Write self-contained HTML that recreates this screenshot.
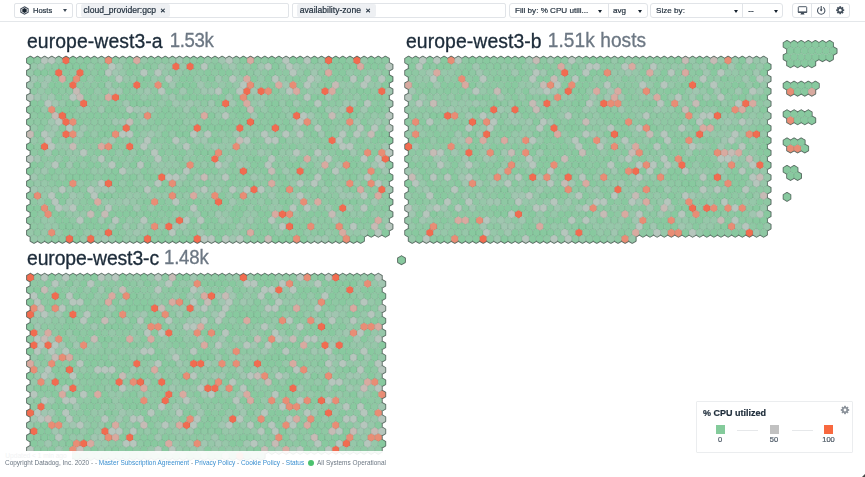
<!DOCTYPE html>
<html><head><meta charset="utf-8"><title>Host Map</title>
<style>
html,body{margin:0;padding:0;background:#fff;}
body{width:865px;height:477px;overflow:hidden;position:relative;font-family:"Liberation Sans",sans-serif;color:#2c3b4c;}
*{box-sizing:border-box;}
.abs{position:absolute;}
#toolbar{will-change:transform;position:absolute;left:0;top:0;width:865px;height:22px;background:#fff;border-bottom:1px solid #e4e7ea;}
.box{position:absolute;top:3px;height:15px;border:1px solid #e1e4e8;border-radius:2px;background:#fff;}
.t{position:absolute;white-space:nowrap;font-size:8.1px;line-height:10px;color:#1f2d3b;-webkit-text-stroke:0.2px #1f2d3b;}
.chip{position:absolute;top:0.8px;height:12.3px;background:#eef0f3;border-radius:2px;}
.caret{position:absolute;width:0;height:0;border-left:2.1px solid transparent;border-right:2.1px solid transparent;border-top:3px solid #16222e;}
.div{position:absolute;top:0;width:1px;height:13px;background:#e1e4e8;}
.title{-webkit-text-stroke-width:0.3px;letter-spacing:0.07px;position:absolute;white-space:nowrap;font-size:19.4px;line-height:26px;color:#1c2b39;transform:scaleY(1.07);transform-origin:0 19.5px;will-change:transform;}
.title span{color:#6c7783;font-size:18.6px;position:absolute;top:0;}
svg{position:absolute;left:0;top:0;}
.o{fill:none;stroke:#5e6d66;stroke-width:1.6;stroke-linecap:round;}
use{stroke:rgba(40,80,60,0.2);stroke-width:0.6;}
.a{fill:#88c99f}.b{fill:#8ec8a3}.c{fill:#96c7a9}.d{fill:#a0c6b0}.e{fill:#b6c6bd}.f{fill:#c6bbb5}.p{fill:#d8aaa0}.s{fill:#e88d75}.r{fill:#f16c50}
#footer{position:absolute;left:0;top:451px;width:865px;height:26px;background:rgba(255,255,255,0.91);}
#foottext{will-change:transform;position:absolute;left:5px;top:458px;font-size:6.47px;line-height:9px;color:#6c7783;white-space:nowrap;}
#foottext a{color:#3a8fd0;text-decoration:none;}
#legend{will-change:transform;position:absolute;left:696px;top:401px;width:157px;height:52px;background:#fff;border:1px solid #ebedef;border-radius:1px;}
</style></head>
<body>
<svg id="map" width="865" height="461" viewBox="0 0 865 461">
<defs><path id="h" d="M0 -4.10L3.55 -2.05V2.05L0 4.10L-3.55 2.05V-2.05Z"/></defs>
<path d="M30.4 56.5L34.0 58.6M30.4 64.7L26.9 62.6M26.9 62.6L26.9 58.6M26.9 58.6L30.4 56.5M37.5 56.5L41.1 58.6M34.0 58.6L37.5 56.5M44.6 56.5L48.2 58.6M41.1 58.6L44.6 56.5M51.8 56.5L55.3 58.6M48.2 58.6L51.8 56.5M58.8 56.5L62.4 58.6M55.3 58.6L58.8 56.5M66.0 56.5L69.5 58.6M62.4 58.6L66.0 56.5M73.0 56.5L76.6 58.6M69.5 58.6L73.0 56.5M80.1 56.5L83.7 58.6M76.6 58.6L80.1 56.5M87.2 56.5L90.8 58.6M83.7 58.6L87.2 56.5M94.3 56.5L97.9 58.6M90.8 58.6L94.3 56.5M101.5 56.5L105.0 58.6M97.9 58.6L101.5 56.5M108.5 56.5L112.1 58.6M105.0 58.6L108.5 56.5M115.6 56.5L119.2 58.6M112.1 58.6L115.6 56.5M122.8 56.5L126.3 58.6M119.2 58.6L122.8 56.5M129.8 56.5L133.4 58.6M126.3 58.6L129.8 56.5M136.9 56.5L140.5 58.6M133.4 58.6L136.9 56.5M144.0 56.5L147.6 58.6M140.5 58.6L144.0 56.5M151.1 56.5L154.7 58.6M147.6 58.6L151.1 56.5M158.2 56.5L161.8 58.6M154.7 58.6L158.2 56.5M165.3 56.5L168.9 58.6M161.8 58.6L165.3 56.5M172.4 56.5L176.0 58.6M168.9 58.6L172.4 56.5M179.5 56.5L183.1 58.6M176.0 58.6L179.5 56.5M186.6 56.5L190.2 58.6M183.1 58.6L186.6 56.5M193.7 56.5L197.3 58.6M190.2 58.6L193.7 56.5M200.8 56.5L204.4 58.6M197.3 58.6L200.8 56.5M207.9 56.5L211.5 58.6M204.4 58.6L207.9 56.5M215.0 56.5L218.6 58.6M211.5 58.6L215.0 56.5M222.1 56.5L225.7 58.6M218.6 58.6L222.1 56.5M229.2 56.5L232.8 58.6M225.7 58.6L229.2 56.5M236.3 56.5L239.9 58.6M232.8 58.6L236.3 56.5M243.4 56.5L247.0 58.6M239.9 58.6L243.4 56.5M250.5 56.5L254.1 58.6M247.0 58.6L250.5 56.5M257.6 56.5L261.2 58.6M254.1 58.6L257.6 56.5M264.8 56.5L268.3 58.6M261.2 58.6L264.8 56.5M271.8 56.5L275.4 58.6M268.3 58.6L271.8 56.5M278.9 56.5L282.5 58.6M275.4 58.6L278.9 56.5M286.1 56.5L289.6 58.6M282.5 58.6L286.1 56.5M293.1 56.5L296.7 58.6M289.6 58.6L293.1 56.5M300.2 56.5L303.8 58.6M296.7 58.6L300.2 56.5M307.3 56.5L310.9 58.6M303.8 58.6L307.3 56.5M314.4 56.5L318.0 58.6M310.9 58.6L314.4 56.5M321.5 56.5L325.1 58.6M318.0 58.6L321.5 56.5M328.6 56.5L332.2 58.6M325.1 58.6L328.6 56.5M335.8 56.5L339.3 58.6M332.2 58.6L335.8 56.5M342.8 56.5L346.4 58.6M339.3 58.6L342.8 56.5M349.9 56.5L353.5 58.6M346.4 58.6L349.9 56.5M357.0 56.5L360.6 58.6M353.5 58.6L357.0 56.5M364.1 56.5L367.7 58.6M360.6 58.6L364.1 56.5M371.2 56.5L374.8 58.6M367.7 58.6L371.2 56.5M378.3 56.5L381.9 58.6M374.8 58.6L378.3 56.5M385.4 56.5L389.0 58.6M389.0 58.6L389.0 62.6M381.9 58.6L385.4 56.5M30.4 68.8L30.4 64.7M389.0 62.6L392.6 64.7M392.6 64.7L392.6 68.8M392.6 68.8L389.0 70.8M30.4 77.0L26.9 74.9M26.9 74.9L26.9 70.8M26.9 70.8L30.4 68.8M389.0 70.8L389.0 74.9M30.4 81.1L30.4 77.0M389.0 74.9L392.6 77.0M392.6 77.0L392.6 81.1M392.6 81.1L389.0 83.1M30.4 89.3L26.9 87.2M26.9 87.2L26.9 83.1M26.9 83.1L30.4 81.1M389.0 83.1L389.0 87.2M30.4 93.4L30.4 89.3M389.0 87.2L392.6 89.3M392.6 89.3L392.6 93.4M392.6 93.4L389.0 95.4M30.4 101.6L26.9 99.5M26.9 99.5L26.9 95.4M26.9 95.4L30.4 93.4M389.0 95.4L389.0 99.5M30.4 105.7L30.4 101.6M389.0 99.5L392.6 101.6M392.6 101.6L392.6 105.7M392.6 105.7L389.0 107.7M30.4 113.9L26.9 111.8M26.9 111.8L26.9 107.7M26.9 107.7L30.4 105.7M389.0 107.7L389.0 111.8M30.4 118.0L30.4 113.9M389.0 111.8L392.6 113.9M392.6 113.9L392.6 118.0M392.6 118.0L389.0 120.0M30.4 126.2L26.9 124.1M26.9 124.1L26.9 120.0M26.9 120.0L30.4 118.0M389.0 120.0L389.0 124.1M30.4 130.3L30.4 126.2M389.0 124.1L392.6 126.2M392.6 126.2L392.6 130.3M392.6 130.3L389.0 132.3M30.4 138.5L26.9 136.4M26.9 136.4L26.9 132.3M26.9 132.3L30.4 130.3M389.0 132.3L389.0 136.4M30.4 142.6L30.4 138.5M389.0 136.4L392.6 138.5M392.6 138.5L392.6 142.6M392.6 142.6L389.0 144.6M30.4 150.8L26.9 148.7M26.9 148.7L26.9 144.6M26.9 144.6L30.4 142.6M389.0 144.6L389.0 148.7M30.4 154.9L30.4 150.8M389.0 148.7L392.6 150.8M392.6 150.8L392.6 154.9M392.6 154.9L389.0 156.9M30.4 163.1L26.9 161.0M26.9 161.0L26.9 156.9M26.9 156.9L30.4 154.9M389.0 156.9L389.0 161.0M30.4 167.2L30.4 163.1M389.0 161.0L392.6 163.1M392.6 163.1L392.6 167.2M392.6 167.2L389.0 169.2M30.4 175.4L26.9 173.3M26.9 173.3L26.9 169.2M26.9 169.2L30.4 167.2M389.0 169.2L389.0 173.3M30.4 179.5L30.4 175.4M389.0 173.3L392.6 175.4M392.6 175.4L392.6 179.5M392.6 179.5L389.0 181.5M30.4 187.7L26.9 185.6M26.9 185.6L26.9 181.5M26.9 181.5L30.4 179.5M389.0 181.5L389.0 185.6M30.4 191.8L30.4 187.7M389.0 185.6L392.6 187.7M392.6 187.7L392.6 191.8M392.6 191.8L389.0 193.8M30.4 200.0L26.9 197.9M26.9 197.9L26.9 193.8M26.9 193.8L30.4 191.8M389.0 193.8L389.0 197.9M30.4 204.1L30.4 200.0M389.0 197.9L392.6 200.0M392.6 200.0L392.6 204.1M392.6 204.1L389.0 206.1M30.4 212.3L26.9 210.2M26.9 210.2L26.9 206.1M26.9 206.1L30.4 204.1M389.0 206.1L389.0 210.2M30.4 216.4L30.4 212.3M389.0 210.2L392.6 212.3M392.6 212.3L392.6 216.4M392.6 216.4L389.0 218.4M30.4 224.6L26.9 222.5M26.9 222.5L26.9 218.4M26.9 218.4L30.4 216.4M389.0 218.4L389.0 222.5M30.4 228.7L30.4 224.6M389.0 222.5L392.6 224.6M392.6 224.6L392.6 228.7M392.6 228.7L389.0 230.7M30.4 236.9L26.9 234.8M26.9 234.8L26.9 230.7M26.9 230.7L30.4 228.7M367.7 234.8L364.1 236.9M374.8 234.8L371.2 236.9M371.2 236.9L367.7 234.8M381.9 234.8L378.3 236.9M378.3 236.9L374.8 234.8M389.0 230.7L389.0 234.8M389.0 234.8L385.4 236.9M385.4 236.9L381.9 234.8M37.5 241.0L34.0 243.0M34.0 243.0L30.4 241.0M30.4 241.0L30.4 236.9M44.6 241.0L41.1 243.0M41.1 243.0L37.5 241.0M51.7 241.0L48.2 243.0M48.2 243.0L44.6 241.0M58.8 241.0L55.3 243.0M55.3 243.0L51.8 241.0M65.9 241.0L62.4 243.0M62.4 243.0L58.8 241.0M73.0 241.0L69.5 243.0M69.5 243.0L66.0 241.0M80.1 241.0L76.6 243.0M76.6 243.0L73.0 241.0M87.2 241.0L83.7 243.0M83.7 243.0L80.1 241.0M94.3 241.0L90.8 243.0M90.8 243.0L87.2 241.0M101.4 241.0L97.9 243.0M97.9 243.0L94.3 241.0M108.5 241.0L105.0 243.0M105.0 243.0L101.5 241.0M115.6 241.0L112.1 243.0M112.1 243.0L108.5 241.0M122.7 241.0L119.2 243.0M119.2 243.0L115.6 241.0M129.8 241.0L126.3 243.0M126.3 243.0L122.8 241.0M137.0 241.0L133.4 243.0M133.4 243.0L129.8 241.0M144.1 241.0L140.5 243.0M140.5 243.0L136.9 241.0M151.2 241.0L147.6 243.0M147.6 243.0L144.0 241.0M158.2 241.0L154.7 243.0M154.7 243.0L151.1 241.0M165.4 241.0L161.8 243.0M161.8 243.0L158.2 241.0M172.5 241.0L168.9 243.0M168.9 243.0L165.3 241.0M179.6 241.0L176.0 243.0M176.0 243.0L172.4 241.0M186.7 241.0L183.1 243.0M183.1 243.0L179.5 241.0M193.8 241.0L190.2 243.0M190.2 243.0L186.6 241.0M200.8 241.0L197.3 243.0M197.3 243.0L193.7 241.0M207.9 241.0L204.4 243.0M204.4 243.0L200.8 241.0M215.1 241.0L211.5 243.0M211.5 243.0L207.9 241.0M222.2 241.0L218.6 243.0M218.6 243.0L215.0 241.0M229.2 241.0L225.7 243.0M225.7 243.0L222.1 241.0M236.3 241.0L232.8 243.0M232.8 243.0L229.2 241.0M243.4 241.0L239.9 243.0M239.9 243.0L236.3 241.0M250.6 241.0L247.0 243.0M247.0 243.0L243.4 241.0M257.6 241.0L254.1 243.0M254.1 243.0L250.5 241.0M264.8 241.0L261.2 243.0M261.2 243.0L257.6 241.0M271.9 241.0L268.3 243.0M268.3 243.0L264.8 241.0M278.9 241.0L275.4 243.0M275.4 243.0L271.8 241.0M286.1 241.0L282.5 243.0M282.5 243.0L278.9 241.0M293.2 241.0L289.6 243.0M289.6 243.0L286.1 241.0M300.2 241.0L296.7 243.0M296.7 243.0L293.1 241.0M307.4 241.0L303.8 243.0M303.8 243.0L300.2 241.0M314.4 241.0L310.9 243.0M310.9 243.0L307.3 241.0M321.6 241.0L318.0 243.0M318.0 243.0L314.4 241.0M328.6 241.0L325.1 243.0M325.1 243.0L321.5 241.0M335.8 241.0L332.2 243.0M332.2 243.0L328.6 241.0M342.9 241.0L339.3 243.0M339.3 243.0L335.8 241.0M349.9 241.0L346.4 243.0M346.4 243.0L342.8 241.0M357.1 241.0L353.5 243.0M353.5 243.0L349.9 241.0M364.1 236.9L364.1 241.0M364.1 241.0L360.6 243.0M360.6 243.0L357.0 241.0" class="o"/>
<use href="#h" x="30.4" y="60.6" class="a"/><use href="#h" x="37.5" y="60.6" class="b"/><use href="#h" x="44.6" y="60.6" class="e"/><use href="#h" x="51.8" y="60.6" class="e"/><use href="#h" x="58.8" y="60.6" class="c"/><use href="#h" x="66.0" y="60.6" class="r"/><use href="#h" x="73.0" y="60.6" class="a"/><use href="#h" x="80.1" y="60.6" class="b"/><use href="#h" x="87.2" y="60.6" class="a"/><use href="#h" x="94.3" y="60.6" class="b"/><use href="#h" x="101.5" y="60.6" class="c"/><use href="#h" x="108.5" y="60.6" class="s"/><use href="#h" x="115.6" y="60.6" class="b"/><use href="#h" x="122.8" y="60.6" class="c"/><use href="#h" x="129.8" y="60.6" class="a"/><use href="#h" x="136.9" y="60.6" class="p"/><use href="#h" x="144.0" y="60.6" class="c"/><use href="#h" x="151.1" y="60.6" class="b"/><use href="#h" x="158.2" y="60.6" class="b"/><use href="#h" x="165.3" y="60.6" class="b"/><use href="#h" x="172.4" y="60.6" class="c"/><use href="#h" x="179.5" y="60.6" class="d"/><use href="#h" x="186.6" y="60.6" class="b"/><use href="#h" x="193.7" y="60.6" class="b"/><use href="#h" x="200.8" y="60.6" class="a"/><use href="#h" x="207.9" y="60.6" class="c"/><use href="#h" x="215.0" y="60.6" class="b"/><use href="#h" x="222.1" y="60.6" class="d"/><use href="#h" x="229.2" y="60.6" class="e"/><use href="#h" x="236.3" y="60.6" class="c"/><use href="#h" x="243.4" y="60.6" class="a"/><use href="#h" x="250.5" y="60.6" class="p"/><use href="#h" x="257.6" y="60.6" class="b"/><use href="#h" x="264.8" y="60.6" class="b"/><use href="#h" x="271.8" y="60.6" class="a"/><use href="#h" x="278.9" y="60.6" class="b"/><use href="#h" x="286.1" y="60.6" class="e"/><use href="#h" x="293.1" y="60.6" class="a"/><use href="#h" x="300.2" y="60.6" class="a"/><use href="#h" x="307.3" y="60.6" class="e"/><use href="#h" x="314.4" y="60.6" class="a"/><use href="#h" x="321.5" y="60.6" class="c"/><use href="#h" x="328.6" y="60.6" class="r"/><use href="#h" x="335.8" y="60.6" class="a"/><use href="#h" x="342.8" y="60.6" class="a"/><use href="#h" x="349.9" y="60.6" class="b"/><use href="#h" x="357.0" y="60.6" class="r"/><use href="#h" x="364.1" y="60.6" class="c"/><use href="#h" x="371.2" y="60.6" class="a"/><use href="#h" x="378.3" y="60.6" class="b"/><use href="#h" x="385.4" y="60.6" class="b"/><use href="#h" x="34.0" y="66.7" class="c"/><use href="#h" x="41.1" y="66.7" class="d"/><use href="#h" x="48.2" y="66.7" class="b"/><use href="#h" x="55.3" y="66.7" class="b"/><use href="#h" x="62.4" y="66.7" class="a"/><use href="#h" x="69.5" y="66.7" class="a"/><use href="#h" x="76.6" y="66.7" class="a"/><use href="#h" x="83.7" y="66.7" class="a"/><use href="#h" x="90.8" y="66.7" class="c"/><use href="#h" x="97.9" y="66.7" class="a"/><use href="#h" x="105.0" y="66.7" class="a"/><use href="#h" x="112.1" y="66.7" class="e"/><use href="#h" x="119.2" y="66.7" class="d"/><use href="#h" x="126.3" y="66.7" class="b"/><use href="#h" x="133.4" y="66.7" class="a"/><use href="#h" x="140.5" y="66.7" class="b"/><use href="#h" x="147.6" y="66.7" class="a"/><use href="#h" x="154.7" y="66.7" class="b"/><use href="#h" x="161.8" y="66.7" class="d"/><use href="#h" x="168.9" y="66.7" class="c"/><use href="#h" x="176.0" y="66.7" class="r"/><use href="#h" x="183.1" y="66.7" class="c"/><use href="#h" x="190.2" y="66.7" class="r"/><use href="#h" x="197.3" y="66.7" class="a"/><use href="#h" x="204.4" y="66.7" class="e"/><use href="#h" x="211.5" y="66.7" class="b"/><use href="#h" x="218.6" y="66.7" class="a"/><use href="#h" x="225.7" y="66.7" class="c"/><use href="#h" x="232.8" y="66.7" class="d"/><use href="#h" x="239.9" y="66.7" class="b"/><use href="#h" x="247.0" y="66.7" class="c"/><use href="#h" x="254.1" y="66.7" class="a"/><use href="#h" x="261.2" y="66.7" class="d"/><use href="#h" x="268.3" y="66.7" class="e"/><use href="#h" x="275.4" y="66.7" class="a"/><use href="#h" x="282.5" y="66.7" class="c"/><use href="#h" x="289.6" y="66.7" class="e"/><use href="#h" x="296.7" y="66.7" class="d"/><use href="#h" x="303.8" y="66.7" class="c"/><use href="#h" x="310.9" y="66.7" class="c"/><use href="#h" x="318.0" y="66.7" class="c"/><use href="#h" x="325.1" y="66.7" class="c"/><use href="#h" x="332.2" y="66.7" class="a"/><use href="#h" x="339.3" y="66.7" class="b"/><use href="#h" x="346.4" y="66.7" class="a"/><use href="#h" x="353.5" y="66.7" class="a"/><use href="#h" x="360.6" y="66.7" class="p"/><use href="#h" x="367.7" y="66.7" class="a"/><use href="#h" x="374.8" y="66.7" class="a"/><use href="#h" x="381.9" y="66.7" class="a"/><use href="#h" x="389.0" y="66.7" class="e"/><use href="#h" x="30.4" y="72.9" class="c"/><use href="#h" x="37.5" y="72.9" class="a"/><use href="#h" x="44.6" y="72.9" class="a"/><use href="#h" x="51.8" y="72.9" class="a"/><use href="#h" x="58.8" y="72.9" class="r"/><use href="#h" x="66.0" y="72.9" class="a"/><use href="#h" x="73.0" y="72.9" class="b"/><use href="#h" x="80.1" y="72.9" class="r"/><use href="#h" x="87.2" y="72.9" class="a"/><use href="#h" x="94.3" y="72.9" class="b"/><use href="#h" x="101.5" y="72.9" class="a"/><use href="#h" x="108.5" y="72.9" class="e"/><use href="#h" x="115.6" y="72.9" class="d"/><use href="#h" x="122.8" y="72.9" class="c"/><use href="#h" x="129.8" y="72.9" class="a"/><use href="#h" x="136.9" y="72.9" class="b"/><use href="#h" x="144.0" y="72.9" class="e"/><use href="#h" x="151.1" y="72.9" class="b"/><use href="#h" x="158.2" y="72.9" class="e"/><use href="#h" x="165.3" y="72.9" class="c"/><use href="#h" x="172.4" y="72.9" class="b"/><use href="#h" x="179.5" y="72.9" class="c"/><use href="#h" x="186.6" y="72.9" class="b"/><use href="#h" x="193.7" y="72.9" class="b"/><use href="#h" x="200.8" y="72.9" class="b"/><use href="#h" x="207.9" y="72.9" class="a"/><use href="#h" x="215.0" y="72.9" class="b"/><use href="#h" x="222.1" y="72.9" class="a"/><use href="#h" x="229.2" y="72.9" class="a"/><use href="#h" x="236.3" y="72.9" class="c"/><use href="#h" x="243.4" y="72.9" class="a"/><use href="#h" x="250.5" y="72.9" class="b"/><use href="#h" x="257.6" y="72.9" class="c"/><use href="#h" x="264.8" y="72.9" class="b"/><use href="#h" x="271.8" y="72.9" class="a"/><use href="#h" x="278.9" y="72.9" class="b"/><use href="#h" x="286.1" y="72.9" class="b"/><use href="#h" x="293.1" y="72.9" class="e"/><use href="#h" x="300.2" y="72.9" class="c"/><use href="#h" x="307.3" y="72.9" class="a"/><use href="#h" x="314.4" y="72.9" class="d"/><use href="#h" x="321.5" y="72.9" class="b"/><use href="#h" x="328.6" y="72.9" class="p"/><use href="#h" x="335.8" y="72.9" class="a"/><use href="#h" x="342.8" y="72.9" class="a"/><use href="#h" x="349.9" y="72.9" class="c"/><use href="#h" x="357.0" y="72.9" class="b"/><use href="#h" x="364.1" y="72.9" class="b"/><use href="#h" x="371.2" y="72.9" class="c"/><use href="#h" x="378.3" y="72.9" class="c"/><use href="#h" x="385.4" y="72.9" class="b"/><use href="#h" x="34.0" y="79.0" class="d"/><use href="#h" x="41.1" y="79.0" class="c"/><use href="#h" x="48.2" y="79.0" class="d"/><use href="#h" x="55.3" y="79.0" class="a"/><use href="#h" x="62.4" y="79.0" class="p"/><use href="#h" x="69.5" y="79.0" class="a"/><use href="#h" x="76.6" y="79.0" class="s"/><use href="#h" x="83.7" y="79.0" class="a"/><use href="#h" x="90.8" y="79.0" class="c"/><use href="#h" x="97.9" y="79.0" class="a"/><use href="#h" x="105.0" y="79.0" class="a"/><use href="#h" x="112.1" y="79.0" class="b"/><use href="#h" x="119.2" y="79.0" class="e"/><use href="#h" x="126.3" y="79.0" class="c"/><use href="#h" x="133.4" y="79.0" class="c"/><use href="#h" x="140.5" y="79.0" class="a"/><use href="#h" x="147.6" y="79.0" class="a"/><use href="#h" x="154.7" y="79.0" class="c"/><use href="#h" x="161.8" y="79.0" class="b"/><use href="#h" x="168.9" y="79.0" class="e"/><use href="#h" x="176.0" y="79.0" class="c"/><use href="#h" x="183.1" y="79.0" class="a"/><use href="#h" x="190.2" y="79.0" class="a"/><use href="#h" x="197.3" y="79.0" class="c"/><use href="#h" x="204.4" y="79.0" class="b"/><use href="#h" x="211.5" y="79.0" class="a"/><use href="#h" x="218.6" y="79.0" class="d"/><use href="#h" x="225.7" y="79.0" class="b"/><use href="#h" x="232.8" y="79.0" class="e"/><use href="#h" x="239.9" y="79.0" class="c"/><use href="#h" x="247.0" y="79.0" class="p"/><use href="#h" x="254.1" y="79.0" class="a"/><use href="#h" x="261.2" y="79.0" class="c"/><use href="#h" x="268.3" y="79.0" class="a"/><use href="#h" x="275.4" y="79.0" class="e"/><use href="#h" x="282.5" y="79.0" class="c"/><use href="#h" x="289.6" y="79.0" class="b"/><use href="#h" x="296.7" y="79.0" class="a"/><use href="#h" x="303.8" y="79.0" class="b"/><use href="#h" x="310.9" y="79.0" class="e"/><use href="#h" x="318.0" y="79.0" class="d"/><use href="#h" x="325.1" y="79.0" class="a"/><use href="#h" x="332.2" y="79.0" class="a"/><use href="#h" x="339.3" y="79.0" class="b"/><use href="#h" x="346.4" y="79.0" class="a"/><use href="#h" x="353.5" y="79.0" class="e"/><use href="#h" x="360.6" y="79.0" class="a"/><use href="#h" x="367.7" y="79.0" class="e"/><use href="#h" x="374.8" y="79.0" class="a"/><use href="#h" x="381.9" y="79.0" class="e"/><use href="#h" x="389.0" y="79.0" class="a"/><use href="#h" x="30.4" y="85.2" class="d"/><use href="#h" x="37.5" y="85.2" class="a"/><use href="#h" x="44.6" y="85.2" class="d"/><use href="#h" x="51.8" y="85.2" class="a"/><use href="#h" x="58.8" y="85.2" class="a"/><use href="#h" x="66.0" y="85.2" class="a"/><use href="#h" x="73.0" y="85.2" class="r"/><use href="#h" x="80.1" y="85.2" class="b"/><use href="#h" x="87.2" y="85.2" class="b"/><use href="#h" x="94.3" y="85.2" class="b"/><use href="#h" x="101.5" y="85.2" class="a"/><use href="#h" x="108.5" y="85.2" class="d"/><use href="#h" x="115.6" y="85.2" class="b"/><use href="#h" x="122.8" y="85.2" class="a"/><use href="#h" x="129.8" y="85.2" class="a"/><use href="#h" x="136.9" y="85.2" class="r"/><use href="#h" x="144.0" y="85.2" class="a"/><use href="#h" x="151.1" y="85.2" class="b"/><use href="#h" x="158.2" y="85.2" class="s"/><use href="#h" x="165.3" y="85.2" class="a"/><use href="#h" x="172.4" y="85.2" class="d"/><use href="#h" x="179.5" y="85.2" class="a"/><use href="#h" x="186.6" y="85.2" class="a"/><use href="#h" x="193.7" y="85.2" class="a"/><use href="#h" x="200.8" y="85.2" class="d"/><use href="#h" x="207.9" y="85.2" class="b"/><use href="#h" x="215.0" y="85.2" class="b"/><use href="#h" x="222.1" y="85.2" class="c"/><use href="#h" x="229.2" y="85.2" class="b"/><use href="#h" x="236.3" y="85.2" class="c"/><use href="#h" x="243.4" y="85.2" class="e"/><use href="#h" x="250.5" y="85.2" class="s"/><use href="#h" x="257.6" y="85.2" class="c"/><use href="#h" x="264.8" y="85.2" class="b"/><use href="#h" x="271.8" y="85.2" class="a"/><use href="#h" x="278.9" y="85.2" class="p"/><use href="#h" x="286.1" y="85.2" class="d"/><use href="#h" x="293.1" y="85.2" class="s"/><use href="#h" x="300.2" y="85.2" class="a"/><use href="#h" x="307.3" y="85.2" class="e"/><use href="#h" x="314.4" y="85.2" class="c"/><use href="#h" x="321.5" y="85.2" class="b"/><use href="#h" x="328.6" y="85.2" class="a"/><use href="#h" x="335.8" y="85.2" class="f"/><use href="#h" x="342.8" y="85.2" class="c"/><use href="#h" x="349.9" y="85.2" class="c"/><use href="#h" x="357.0" y="85.2" class="b"/><use href="#h" x="364.1" y="85.2" class="e"/><use href="#h" x="371.2" y="85.2" class="c"/><use href="#h" x="378.3" y="85.2" class="c"/><use href="#h" x="385.4" y="85.2" class="a"/><use href="#h" x="34.0" y="91.3" class="b"/><use href="#h" x="41.1" y="91.3" class="c"/><use href="#h" x="48.2" y="91.3" class="b"/><use href="#h" x="55.3" y="91.3" class="a"/><use href="#h" x="62.4" y="91.3" class="b"/><use href="#h" x="69.5" y="91.3" class="b"/><use href="#h" x="76.6" y="91.3" class="f"/><use href="#h" x="83.7" y="91.3" class="b"/><use href="#h" x="90.8" y="91.3" class="a"/><use href="#h" x="97.9" y="91.3" class="c"/><use href="#h" x="105.0" y="91.3" class="a"/><use href="#h" x="112.1" y="91.3" class="d"/><use href="#h" x="119.2" y="91.3" class="d"/><use href="#h" x="126.3" y="91.3" class="a"/><use href="#h" x="133.4" y="91.3" class="b"/><use href="#h" x="140.5" y="91.3" class="c"/><use href="#h" x="147.6" y="91.3" class="d"/><use href="#h" x="154.7" y="91.3" class="b"/><use href="#h" x="161.8" y="91.3" class="e"/><use href="#h" x="168.9" y="91.3" class="a"/><use href="#h" x="176.0" y="91.3" class="a"/><use href="#h" x="183.1" y="91.3" class="d"/><use href="#h" x="190.2" y="91.3" class="a"/><use href="#h" x="197.3" y="91.3" class="b"/><use href="#h" x="204.4" y="91.3" class="d"/><use href="#h" x="211.5" y="91.3" class="d"/><use href="#h" x="218.6" y="91.3" class="e"/><use href="#h" x="225.7" y="91.3" class="a"/><use href="#h" x="232.8" y="91.3" class="b"/><use href="#h" x="239.9" y="91.3" class="e"/><use href="#h" x="247.0" y="91.3" class="r"/><use href="#h" x="254.1" y="91.3" class="d"/><use href="#h" x="261.2" y="91.3" class="r"/><use href="#h" x="268.3" y="91.3" class="s"/><use href="#h" x="275.4" y="91.3" class="a"/><use href="#h" x="282.5" y="91.3" class="c"/><use href="#h" x="289.6" y="91.3" class="e"/><use href="#h" x="296.7" y="91.3" class="p"/><use href="#h" x="303.8" y="91.3" class="b"/><use href="#h" x="310.9" y="91.3" class="c"/><use href="#h" x="318.0" y="91.3" class="c"/><use href="#h" x="325.1" y="91.3" class="r"/><use href="#h" x="332.2" y="91.3" class="p"/><use href="#h" x="339.3" y="91.3" class="a"/><use href="#h" x="346.4" y="91.3" class="c"/><use href="#h" x="353.5" y="91.3" class="b"/><use href="#h" x="360.6" y="91.3" class="a"/><use href="#h" x="367.7" y="91.3" class="a"/><use href="#h" x="374.8" y="91.3" class="b"/><use href="#h" x="381.9" y="91.3" class="r"/><use href="#h" x="389.0" y="91.3" class="d"/><use href="#h" x="30.4" y="97.5" class="e"/><use href="#h" x="37.5" y="97.5" class="d"/><use href="#h" x="44.6" y="97.5" class="c"/><use href="#h" x="51.8" y="97.5" class="d"/><use href="#h" x="58.8" y="97.5" class="a"/><use href="#h" x="66.0" y="97.5" class="b"/><use href="#h" x="73.0" y="97.5" class="e"/><use href="#h" x="80.1" y="97.5" class="f"/><use href="#h" x="87.2" y="97.5" class="a"/><use href="#h" x="94.3" y="97.5" class="b"/><use href="#h" x="101.5" y="97.5" class="b"/><use href="#h" x="108.5" y="97.5" class="p"/><use href="#h" x="115.6" y="97.5" class="r"/><use href="#h" x="122.8" y="97.5" class="a"/><use href="#h" x="129.8" y="97.5" class="a"/><use href="#h" x="136.9" y="97.5" class="a"/><use href="#h" x="144.0" y="97.5" class="c"/><use href="#h" x="151.1" y="97.5" class="b"/><use href="#h" x="158.2" y="97.5" class="a"/><use href="#h" x="165.3" y="97.5" class="c"/><use href="#h" x="172.4" y="97.5" class="d"/><use href="#h" x="179.5" y="97.5" class="b"/><use href="#h" x="186.6" y="97.5" class="a"/><use href="#h" x="193.7" y="97.5" class="a"/><use href="#h" x="200.8" y="97.5" class="a"/><use href="#h" x="207.9" y="97.5" class="a"/><use href="#h" x="215.0" y="97.5" class="a"/><use href="#h" x="222.1" y="97.5" class="a"/><use href="#h" x="229.2" y="97.5" class="d"/><use href="#h" x="236.3" y="97.5" class="a"/><use href="#h" x="243.4" y="97.5" class="s"/><use href="#h" x="250.5" y="97.5" class="b"/><use href="#h" x="257.6" y="97.5" class="c"/><use href="#h" x="264.8" y="97.5" class="c"/><use href="#h" x="271.8" y="97.5" class="b"/><use href="#h" x="278.9" y="97.5" class="b"/><use href="#h" x="286.1" y="97.5" class="b"/><use href="#h" x="293.1" y="97.5" class="b"/><use href="#h" x="300.2" y="97.5" class="a"/><use href="#h" x="307.3" y="97.5" class="e"/><use href="#h" x="314.4" y="97.5" class="a"/><use href="#h" x="321.5" y="97.5" class="a"/><use href="#h" x="328.6" y="97.5" class="d"/><use href="#h" x="335.8" y="97.5" class="a"/><use href="#h" x="342.8" y="97.5" class="b"/><use href="#h" x="349.9" y="97.5" class="b"/><use href="#h" x="357.0" y="97.5" class="c"/><use href="#h" x="364.1" y="97.5" class="a"/><use href="#h" x="371.2" y="97.5" class="a"/><use href="#h" x="378.3" y="97.5" class="a"/><use href="#h" x="385.4" y="97.5" class="b"/><use href="#h" x="34.0" y="103.6" class="a"/><use href="#h" x="41.1" y="103.6" class="a"/><use href="#h" x="48.2" y="103.6" class="e"/><use href="#h" x="55.3" y="103.6" class="d"/><use href="#h" x="62.4" y="103.6" class="c"/><use href="#h" x="69.5" y="103.6" class="a"/><use href="#h" x="76.6" y="103.6" class="a"/><use href="#h" x="83.7" y="103.6" class="r"/><use href="#h" x="90.8" y="103.6" class="b"/><use href="#h" x="97.9" y="103.6" class="b"/><use href="#h" x="105.0" y="103.6" class="b"/><use href="#h" x="112.1" y="103.6" class="a"/><use href="#h" x="119.2" y="103.6" class="b"/><use href="#h" x="126.3" y="103.6" class="d"/><use href="#h" x="133.4" y="103.6" class="a"/><use href="#h" x="140.5" y="103.6" class="a"/><use href="#h" x="147.6" y="103.6" class="a"/><use href="#h" x="154.7" y="103.6" class="b"/><use href="#h" x="161.8" y="103.6" class="c"/><use href="#h" x="168.9" y="103.6" class="a"/><use href="#h" x="176.0" y="103.6" class="d"/><use href="#h" x="183.1" y="103.6" class="c"/><use href="#h" x="190.2" y="103.6" class="d"/><use href="#h" x="197.3" y="103.6" class="c"/><use href="#h" x="204.4" y="103.6" class="b"/><use href="#h" x="211.5" y="103.6" class="d"/><use href="#h" x="218.6" y="103.6" class="a"/><use href="#h" x="225.7" y="103.6" class="r"/><use href="#h" x="232.8" y="103.6" class="d"/><use href="#h" x="239.9" y="103.6" class="a"/><use href="#h" x="247.0" y="103.6" class="p"/><use href="#h" x="254.1" y="103.6" class="c"/><use href="#h" x="261.2" y="103.6" class="d"/><use href="#h" x="268.3" y="103.6" class="a"/><use href="#h" x="275.4" y="103.6" class="a"/><use href="#h" x="282.5" y="103.6" class="c"/><use href="#h" x="289.6" y="103.6" class="a"/><use href="#h" x="296.7" y="103.6" class="d"/><use href="#h" x="303.8" y="103.6" class="b"/><use href="#h" x="310.9" y="103.6" class="a"/><use href="#h" x="318.0" y="103.6" class="e"/><use href="#h" x="325.1" y="103.6" class="a"/><use href="#h" x="332.2" y="103.6" class="b"/><use href="#h" x="339.3" y="103.6" class="b"/><use href="#h" x="346.4" y="103.6" class="d"/><use href="#h" x="353.5" y="103.6" class="d"/><use href="#h" x="360.6" y="103.6" class="a"/><use href="#h" x="367.7" y="103.6" class="e"/><use href="#h" x="374.8" y="103.6" class="b"/><use href="#h" x="381.9" y="103.6" class="a"/><use href="#h" x="389.0" y="103.6" class="d"/><use href="#h" x="30.4" y="109.8" class="b"/><use href="#h" x="37.5" y="109.8" class="a"/><use href="#h" x="44.6" y="109.8" class="c"/><use href="#h" x="51.8" y="109.8" class="s"/><use href="#h" x="58.8" y="109.8" class="a"/><use href="#h" x="66.0" y="109.8" class="a"/><use href="#h" x="73.0" y="109.8" class="a"/><use href="#h" x="80.1" y="109.8" class="c"/><use href="#h" x="87.2" y="109.8" class="c"/><use href="#h" x="94.3" y="109.8" class="b"/><use href="#h" x="101.5" y="109.8" class="d"/><use href="#h" x="108.5" y="109.8" class="a"/><use href="#h" x="115.6" y="109.8" class="a"/><use href="#h" x="122.8" y="109.8" class="b"/><use href="#h" x="129.8" y="109.8" class="e"/><use href="#h" x="136.9" y="109.8" class="d"/><use href="#h" x="144.0" y="109.8" class="d"/><use href="#h" x="151.1" y="109.8" class="d"/><use href="#h" x="158.2" y="109.8" class="b"/><use href="#h" x="165.3" y="109.8" class="a"/><use href="#h" x="172.4" y="109.8" class="b"/><use href="#h" x="179.5" y="109.8" class="b"/><use href="#h" x="186.6" y="109.8" class="d"/><use href="#h" x="193.7" y="109.8" class="a"/><use href="#h" x="200.8" y="109.8" class="c"/><use href="#h" x="207.9" y="109.8" class="c"/><use href="#h" x="215.0" y="109.8" class="c"/><use href="#h" x="222.1" y="109.8" class="c"/><use href="#h" x="229.2" y="109.8" class="b"/><use href="#h" x="236.3" y="109.8" class="a"/><use href="#h" x="243.4" y="109.8" class="a"/><use href="#h" x="250.5" y="109.8" class="f"/><use href="#h" x="257.6" y="109.8" class="b"/><use href="#h" x="264.8" y="109.8" class="c"/><use href="#h" x="271.8" y="109.8" class="a"/><use href="#h" x="278.9" y="109.8" class="a"/><use href="#h" x="286.1" y="109.8" class="c"/><use href="#h" x="293.1" y="109.8" class="a"/><use href="#h" x="300.2" y="109.8" class="a"/><use href="#h" x="307.3" y="109.8" class="a"/><use href="#h" x="314.4" y="109.8" class="b"/><use href="#h" x="321.5" y="109.8" class="a"/><use href="#h" x="328.6" y="109.8" class="d"/><use href="#h" x="335.8" y="109.8" class="c"/><use href="#h" x="342.8" y="109.8" class="d"/><use href="#h" x="349.9" y="109.8" class="r"/><use href="#h" x="357.0" y="109.8" class="a"/><use href="#h" x="364.1" y="109.8" class="d"/><use href="#h" x="371.2" y="109.8" class="a"/><use href="#h" x="378.3" y="109.8" class="a"/><use href="#h" x="385.4" y="109.8" class="b"/><use href="#h" x="34.0" y="115.9" class="b"/><use href="#h" x="41.1" y="115.9" class="a"/><use href="#h" x="48.2" y="115.9" class="a"/><use href="#h" x="55.3" y="115.9" class="f"/><use href="#h" x="62.4" y="115.9" class="r"/><use href="#h" x="69.5" y="115.9" class="a"/><use href="#h" x="76.6" y="115.9" class="b"/><use href="#h" x="83.7" y="115.9" class="b"/><use href="#h" x="90.8" y="115.9" class="a"/><use href="#h" x="97.9" y="115.9" class="a"/><use href="#h" x="105.0" y="115.9" class="a"/><use href="#h" x="112.1" y="115.9" class="b"/><use href="#h" x="119.2" y="115.9" class="a"/><use href="#h" x="126.3" y="115.9" class="a"/><use href="#h" x="133.4" y="115.9" class="a"/><use href="#h" x="140.5" y="115.9" class="c"/><use href="#h" x="147.6" y="115.9" class="s"/><use href="#h" x="154.7" y="115.9" class="b"/><use href="#h" x="161.8" y="115.9" class="a"/><use href="#h" x="168.9" y="115.9" class="a"/><use href="#h" x="176.0" y="115.9" class="b"/><use href="#h" x="183.1" y="115.9" class="b"/><use href="#h" x="190.2" y="115.9" class="b"/><use href="#h" x="197.3" y="115.9" class="a"/><use href="#h" x="204.4" y="115.9" class="p"/><use href="#h" x="211.5" y="115.9" class="a"/><use href="#h" x="218.6" y="115.9" class="c"/><use href="#h" x="225.7" y="115.9" class="e"/><use href="#h" x="232.8" y="115.9" class="b"/><use href="#h" x="239.9" y="115.9" class="a"/><use href="#h" x="247.0" y="115.9" class="a"/><use href="#h" x="254.1" y="115.9" class="d"/><use href="#h" x="261.2" y="115.9" class="a"/><use href="#h" x="268.3" y="115.9" class="b"/><use href="#h" x="275.4" y="115.9" class="a"/><use href="#h" x="282.5" y="115.9" class="b"/><use href="#h" x="289.6" y="115.9" class="c"/><use href="#h" x="296.7" y="115.9" class="r"/><use href="#h" x="303.8" y="115.9" class="e"/><use href="#h" x="310.9" y="115.9" class="d"/><use href="#h" x="318.0" y="115.9" class="b"/><use href="#h" x="325.1" y="115.9" class="a"/><use href="#h" x="332.2" y="115.9" class="f"/><use href="#h" x="339.3" y="115.9" class="c"/><use href="#h" x="346.4" y="115.9" class="a"/><use href="#h" x="353.5" y="115.9" class="a"/><use href="#h" x="360.6" y="115.9" class="c"/><use href="#h" x="367.7" y="115.9" class="b"/><use href="#h" x="374.8" y="115.9" class="c"/><use href="#h" x="381.9" y="115.9" class="b"/><use href="#h" x="389.0" y="115.9" class="e"/><use href="#h" x="30.4" y="122.1" class="b"/><use href="#h" x="37.5" y="122.1" class="b"/><use href="#h" x="44.6" y="122.1" class="b"/><use href="#h" x="51.8" y="122.1" class="d"/><use href="#h" x="58.8" y="122.1" class="e"/><use href="#h" x="66.0" y="122.1" class="r"/><use href="#h" x="73.0" y="122.1" class="s"/><use href="#h" x="80.1" y="122.1" class="a"/><use href="#h" x="87.2" y="122.1" class="b"/><use href="#h" x="94.3" y="122.1" class="b"/><use href="#h" x="101.5" y="122.1" class="b"/><use href="#h" x="108.5" y="122.1" class="b"/><use href="#h" x="115.6" y="122.1" class="d"/><use href="#h" x="122.8" y="122.1" class="d"/><use href="#h" x="129.8" y="122.1" class="f"/><use href="#h" x="136.9" y="122.1" class="b"/><use href="#h" x="144.0" y="122.1" class="d"/><use href="#h" x="151.1" y="122.1" class="b"/><use href="#h" x="158.2" y="122.1" class="a"/><use href="#h" x="165.3" y="122.1" class="b"/><use href="#h" x="172.4" y="122.1" class="b"/><use href="#h" x="179.5" y="122.1" class="a"/><use href="#h" x="186.6" y="122.1" class="c"/><use href="#h" x="193.7" y="122.1" class="c"/><use href="#h" x="200.8" y="122.1" class="b"/><use href="#h" x="207.9" y="122.1" class="a"/><use href="#h" x="215.0" y="122.1" class="b"/><use href="#h" x="222.1" y="122.1" class="a"/><use href="#h" x="229.2" y="122.1" class="a"/><use href="#h" x="236.3" y="122.1" class="b"/><use href="#h" x="243.4" y="122.1" class="a"/><use href="#h" x="250.5" y="122.1" class="r"/><use href="#h" x="257.6" y="122.1" class="b"/><use href="#h" x="264.8" y="122.1" class="b"/><use href="#h" x="271.8" y="122.1" class="a"/><use href="#h" x="278.9" y="122.1" class="b"/><use href="#h" x="286.1" y="122.1" class="a"/><use href="#h" x="293.1" y="122.1" class="c"/><use href="#h" x="300.2" y="122.1" class="e"/><use href="#h" x="307.3" y="122.1" class="s"/><use href="#h" x="314.4" y="122.1" class="c"/><use href="#h" x="321.5" y="122.1" class="b"/><use href="#h" x="328.6" y="122.1" class="a"/><use href="#h" x="335.8" y="122.1" class="b"/><use href="#h" x="342.8" y="122.1" class="b"/><use href="#h" x="349.9" y="122.1" class="s"/><use href="#h" x="357.0" y="122.1" class="d"/><use href="#h" x="364.1" y="122.1" class="a"/><use href="#h" x="371.2" y="122.1" class="c"/><use href="#h" x="378.3" y="122.1" class="d"/><use href="#h" x="385.4" y="122.1" class="c"/><use href="#h" x="34.0" y="128.2" class="c"/><use href="#h" x="41.1" y="128.2" class="a"/><use href="#h" x="48.2" y="128.2" class="c"/><use href="#h" x="55.3" y="128.2" class="d"/><use href="#h" x="62.4" y="128.2" class="a"/><use href="#h" x="69.5" y="128.2" class="e"/><use href="#h" x="76.6" y="128.2" class="b"/><use href="#h" x="83.7" y="128.2" class="d"/><use href="#h" x="90.8" y="128.2" class="b"/><use href="#h" x="97.9" y="128.2" class="b"/><use href="#h" x="105.0" y="128.2" class="a"/><use href="#h" x="112.1" y="128.2" class="a"/><use href="#h" x="119.2" y="128.2" class="a"/><use href="#h" x="126.3" y="128.2" class="r"/><use href="#h" x="133.4" y="128.2" class="a"/><use href="#h" x="140.5" y="128.2" class="b"/><use href="#h" x="147.6" y="128.2" class="b"/><use href="#h" x="154.7" y="128.2" class="b"/><use href="#h" x="161.8" y="128.2" class="c"/><use href="#h" x="168.9" y="128.2" class="a"/><use href="#h" x="176.0" y="128.2" class="a"/><use href="#h" x="183.1" y="128.2" class="b"/><use href="#h" x="190.2" y="128.2" class="a"/><use href="#h" x="197.3" y="128.2" class="r"/><use href="#h" x="204.4" y="128.2" class="a"/><use href="#h" x="211.5" y="128.2" class="a"/><use href="#h" x="218.6" y="128.2" class="a"/><use href="#h" x="225.7" y="128.2" class="a"/><use href="#h" x="232.8" y="128.2" class="a"/><use href="#h" x="239.9" y="128.2" class="r"/><use href="#h" x="247.0" y="128.2" class="b"/><use href="#h" x="254.1" y="128.2" class="b"/><use href="#h" x="261.2" y="128.2" class="a"/><use href="#h" x="268.3" y="128.2" class="b"/><use href="#h" x="275.4" y="128.2" class="r"/><use href="#h" x="282.5" y="128.2" class="b"/><use href="#h" x="289.6" y="128.2" class="a"/><use href="#h" x="296.7" y="128.2" class="d"/><use href="#h" x="303.8" y="128.2" class="a"/><use href="#h" x="310.9" y="128.2" class="a"/><use href="#h" x="318.0" y="128.2" class="e"/><use href="#h" x="325.1" y="128.2" class="a"/><use href="#h" x="332.2" y="128.2" class="b"/><use href="#h" x="339.3" y="128.2" class="c"/><use href="#h" x="346.4" y="128.2" class="c"/><use href="#h" x="353.5" y="128.2" class="b"/><use href="#h" x="360.6" y="128.2" class="e"/><use href="#h" x="367.7" y="128.2" class="a"/><use href="#h" x="374.8" y="128.2" class="e"/><use href="#h" x="381.9" y="128.2" class="a"/><use href="#h" x="389.0" y="128.2" class="e"/><use href="#h" x="30.4" y="134.4" class="f"/><use href="#h" x="37.5" y="134.4" class="a"/><use href="#h" x="44.6" y="134.4" class="e"/><use href="#h" x="51.8" y="134.4" class="d"/><use href="#h" x="58.8" y="134.4" class="b"/><use href="#h" x="66.0" y="134.4" class="r"/><use href="#h" x="73.0" y="134.4" class="s"/><use href="#h" x="80.1" y="134.4" class="d"/><use href="#h" x="87.2" y="134.4" class="a"/><use href="#h" x="94.3" y="134.4" class="c"/><use href="#h" x="101.5" y="134.4" class="a"/><use href="#h" x="108.5" y="134.4" class="a"/><use href="#h" x="115.6" y="134.4" class="s"/><use href="#h" x="122.8" y="134.4" class="e"/><use href="#h" x="129.8" y="134.4" class="e"/><use href="#h" x="136.9" y="134.4" class="a"/><use href="#h" x="144.0" y="134.4" class="c"/><use href="#h" x="151.1" y="134.4" class="d"/><use href="#h" x="158.2" y="134.4" class="c"/><use href="#h" x="165.3" y="134.4" class="a"/><use href="#h" x="172.4" y="134.4" class="c"/><use href="#h" x="179.5" y="134.4" class="a"/><use href="#h" x="186.6" y="134.4" class="a"/><use href="#h" x="193.7" y="134.4" class="e"/><use href="#h" x="200.8" y="134.4" class="c"/><use href="#h" x="207.9" y="134.4" class="e"/><use href="#h" x="215.0" y="134.4" class="b"/><use href="#h" x="222.1" y="134.4" class="c"/><use href="#h" x="229.2" y="134.4" class="b"/><use href="#h" x="236.3" y="134.4" class="d"/><use href="#h" x="243.4" y="134.4" class="b"/><use href="#h" x="250.5" y="134.4" class="c"/><use href="#h" x="257.6" y="134.4" class="c"/><use href="#h" x="264.8" y="134.4" class="e"/><use href="#h" x="271.8" y="134.4" class="c"/><use href="#h" x="278.9" y="134.4" class="b"/><use href="#h" x="286.1" y="134.4" class="e"/><use href="#h" x="293.1" y="134.4" class="c"/><use href="#h" x="300.2" y="134.4" class="e"/><use href="#h" x="307.3" y="134.4" class="b"/><use href="#h" x="314.4" y="134.4" class="a"/><use href="#h" x="321.5" y="134.4" class="d"/><use href="#h" x="328.6" y="134.4" class="a"/><use href="#h" x="335.8" y="134.4" class="b"/><use href="#h" x="342.8" y="134.4" class="e"/><use href="#h" x="349.9" y="134.4" class="a"/><use href="#h" x="357.0" y="134.4" class="e"/><use href="#h" x="364.1" y="134.4" class="c"/><use href="#h" x="371.2" y="134.4" class="f"/><use href="#h" x="378.3" y="134.4" class="a"/><use href="#h" x="385.4" y="134.4" class="a"/><use href="#h" x="34.0" y="140.5" class="c"/><use href="#h" x="41.1" y="140.5" class="b"/><use href="#h" x="48.2" y="140.5" class="e"/><use href="#h" x="55.3" y="140.5" class="a"/><use href="#h" x="62.4" y="140.5" class="c"/><use href="#h" x="69.5" y="140.5" class="a"/><use href="#h" x="76.6" y="140.5" class="c"/><use href="#h" x="83.7" y="140.5" class="a"/><use href="#h" x="90.8" y="140.5" class="a"/><use href="#h" x="97.9" y="140.5" class="a"/><use href="#h" x="105.0" y="140.5" class="c"/><use href="#h" x="112.1" y="140.5" class="d"/><use href="#h" x="119.2" y="140.5" class="a"/><use href="#h" x="126.3" y="140.5" class="b"/><use href="#h" x="133.4" y="140.5" class="b"/><use href="#h" x="140.5" y="140.5" class="c"/><use href="#h" x="147.6" y="140.5" class="e"/><use href="#h" x="154.7" y="140.5" class="a"/><use href="#h" x="161.8" y="140.5" class="b"/><use href="#h" x="168.9" y="140.5" class="a"/><use href="#h" x="176.0" y="140.5" class="e"/><use href="#h" x="183.1" y="140.5" class="c"/><use href="#h" x="190.2" y="140.5" class="a"/><use href="#h" x="197.3" y="140.5" class="d"/><use href="#h" x="204.4" y="140.5" class="d"/><use href="#h" x="211.5" y="140.5" class="a"/><use href="#h" x="218.6" y="140.5" class="a"/><use href="#h" x="225.7" y="140.5" class="c"/><use href="#h" x="232.8" y="140.5" class="b"/><use href="#h" x="239.9" y="140.5" class="f"/><use href="#h" x="247.0" y="140.5" class="e"/><use href="#h" x="254.1" y="140.5" class="a"/><use href="#h" x="261.2" y="140.5" class="b"/><use href="#h" x="268.3" y="140.5" class="e"/><use href="#h" x="275.4" y="140.5" class="e"/><use href="#h" x="282.5" y="140.5" class="a"/><use href="#h" x="289.6" y="140.5" class="c"/><use href="#h" x="296.7" y="140.5" class="c"/><use href="#h" x="303.8" y="140.5" class="c"/><use href="#h" x="310.9" y="140.5" class="b"/><use href="#h" x="318.0" y="140.5" class="a"/><use href="#h" x="325.1" y="140.5" class="b"/><use href="#h" x="332.2" y="140.5" class="r"/><use href="#h" x="339.3" y="140.5" class="e"/><use href="#h" x="346.4" y="140.5" class="b"/><use href="#h" x="353.5" y="140.5" class="c"/><use href="#h" x="360.6" y="140.5" class="a"/><use href="#h" x="367.7" y="140.5" class="c"/><use href="#h" x="374.8" y="140.5" class="a"/><use href="#h" x="381.9" y="140.5" class="a"/><use href="#h" x="389.0" y="140.5" class="a"/><use href="#h" x="30.4" y="146.7" class="a"/><use href="#h" x="37.5" y="146.7" class="b"/><use href="#h" x="44.6" y="146.7" class="r"/><use href="#h" x="51.8" y="146.7" class="e"/><use href="#h" x="58.8" y="146.7" class="c"/><use href="#h" x="66.0" y="146.7" class="c"/><use href="#h" x="73.0" y="146.7" class="f"/><use href="#h" x="80.1" y="146.7" class="b"/><use href="#h" x="87.2" y="146.7" class="b"/><use href="#h" x="94.3" y="146.7" class="b"/><use href="#h" x="101.5" y="146.7" class="p"/><use href="#h" x="108.5" y="146.7" class="s"/><use href="#h" x="115.6" y="146.7" class="a"/><use href="#h" x="122.8" y="146.7" class="b"/><use href="#h" x="129.8" y="146.7" class="r"/><use href="#h" x="136.9" y="146.7" class="b"/><use href="#h" x="144.0" y="146.7" class="e"/><use href="#h" x="151.1" y="146.7" class="c"/><use href="#h" x="158.2" y="146.7" class="c"/><use href="#h" x="165.3" y="146.7" class="b"/><use href="#h" x="172.4" y="146.7" class="b"/><use href="#h" x="179.5" y="146.7" class="c"/><use href="#h" x="186.6" y="146.7" class="e"/><use href="#h" x="193.7" y="146.7" class="b"/><use href="#h" x="200.8" y="146.7" class="a"/><use href="#h" x="207.9" y="146.7" class="c"/><use href="#h" x="215.0" y="146.7" class="d"/><use href="#h" x="222.1" y="146.7" class="c"/><use href="#h" x="229.2" y="146.7" class="c"/><use href="#h" x="236.3" y="146.7" class="s"/><use href="#h" x="243.4" y="146.7" class="c"/><use href="#h" x="250.5" y="146.7" class="c"/><use href="#h" x="257.6" y="146.7" class="b"/><use href="#h" x="264.8" y="146.7" class="b"/><use href="#h" x="271.8" y="146.7" class="b"/><use href="#h" x="278.9" y="146.7" class="a"/><use href="#h" x="286.1" y="146.7" class="b"/><use href="#h" x="293.1" y="146.7" class="a"/><use href="#h" x="300.2" y="146.7" class="b"/><use href="#h" x="307.3" y="146.7" class="c"/><use href="#h" x="314.4" y="146.7" class="c"/><use href="#h" x="321.5" y="146.7" class="b"/><use href="#h" x="328.6" y="146.7" class="a"/><use href="#h" x="335.8" y="146.7" class="b"/><use href="#h" x="342.8" y="146.7" class="e"/><use href="#h" x="349.9" y="146.7" class="e"/><use href="#h" x="357.0" y="146.7" class="b"/><use href="#h" x="364.1" y="146.7" class="b"/><use href="#h" x="371.2" y="146.7" class="b"/><use href="#h" x="378.3" y="146.7" class="b"/><use href="#h" x="385.4" y="146.7" class="d"/><use href="#h" x="34.0" y="152.8" class="b"/><use href="#h" x="41.1" y="152.8" class="a"/><use href="#h" x="48.2" y="152.8" class="d"/><use href="#h" x="55.3" y="152.8" class="a"/><use href="#h" x="62.4" y="152.8" class="b"/><use href="#h" x="69.5" y="152.8" class="c"/><use href="#h" x="76.6" y="152.8" class="c"/><use href="#h" x="83.7" y="152.8" class="e"/><use href="#h" x="90.8" y="152.8" class="b"/><use href="#h" x="97.9" y="152.8" class="a"/><use href="#h" x="105.0" y="152.8" class="b"/><use href="#h" x="112.1" y="152.8" class="a"/><use href="#h" x="119.2" y="152.8" class="c"/><use href="#h" x="126.3" y="152.8" class="a"/><use href="#h" x="133.4" y="152.8" class="c"/><use href="#h" x="140.5" y="152.8" class="a"/><use href="#h" x="147.6" y="152.8" class="b"/><use href="#h" x="154.7" y="152.8" class="e"/><use href="#h" x="161.8" y="152.8" class="a"/><use href="#h" x="168.9" y="152.8" class="b"/><use href="#h" x="176.0" y="152.8" class="a"/><use href="#h" x="183.1" y="152.8" class="a"/><use href="#h" x="190.2" y="152.8" class="c"/><use href="#h" x="197.3" y="152.8" class="a"/><use href="#h" x="204.4" y="152.8" class="a"/><use href="#h" x="211.5" y="152.8" class="a"/><use href="#h" x="218.6" y="152.8" class="s"/><use href="#h" x="225.7" y="152.8" class="b"/><use href="#h" x="232.8" y="152.8" class="b"/><use href="#h" x="239.9" y="152.8" class="b"/><use href="#h" x="247.0" y="152.8" class="b"/><use href="#h" x="254.1" y="152.8" class="b"/><use href="#h" x="261.2" y="152.8" class="d"/><use href="#h" x="268.3" y="152.8" class="c"/><use href="#h" x="275.4" y="152.8" class="a"/><use href="#h" x="282.5" y="152.8" class="c"/><use href="#h" x="289.6" y="152.8" class="c"/><use href="#h" x="296.7" y="152.8" class="e"/><use href="#h" x="303.8" y="152.8" class="c"/><use href="#h" x="310.9" y="152.8" class="a"/><use href="#h" x="318.0" y="152.8" class="e"/><use href="#h" x="325.1" y="152.8" class="c"/><use href="#h" x="332.2" y="152.8" class="b"/><use href="#h" x="339.3" y="152.8" class="a"/><use href="#h" x="346.4" y="152.8" class="a"/><use href="#h" x="353.5" y="152.8" class="d"/><use href="#h" x="360.6" y="152.8" class="b"/><use href="#h" x="367.7" y="152.8" class="s"/><use href="#h" x="374.8" y="152.8" class="a"/><use href="#h" x="381.9" y="152.8" class="s"/><use href="#h" x="389.0" y="152.8" class="e"/><use href="#h" x="30.4" y="159.0" class="e"/><use href="#h" x="37.5" y="159.0" class="d"/><use href="#h" x="44.6" y="159.0" class="b"/><use href="#h" x="51.8" y="159.0" class="b"/><use href="#h" x="58.8" y="159.0" class="c"/><use href="#h" x="66.0" y="159.0" class="a"/><use href="#h" x="73.0" y="159.0" class="c"/><use href="#h" x="80.1" y="159.0" class="b"/><use href="#h" x="87.2" y="159.0" class="a"/><use href="#h" x="94.3" y="159.0" class="c"/><use href="#h" x="101.5" y="159.0" class="e"/><use href="#h" x="108.5" y="159.0" class="b"/><use href="#h" x="115.6" y="159.0" class="b"/><use href="#h" x="122.8" y="159.0" class="b"/><use href="#h" x="129.8" y="159.0" class="c"/><use href="#h" x="136.9" y="159.0" class="a"/><use href="#h" x="144.0" y="159.0" class="b"/><use href="#h" x="151.1" y="159.0" class="b"/><use href="#h" x="158.2" y="159.0" class="e"/><use href="#h" x="165.3" y="159.0" class="b"/><use href="#h" x="172.4" y="159.0" class="c"/><use href="#h" x="179.5" y="159.0" class="a"/><use href="#h" x="186.6" y="159.0" class="c"/><use href="#h" x="193.7" y="159.0" class="b"/><use href="#h" x="200.8" y="159.0" class="b"/><use href="#h" x="207.9" y="159.0" class="a"/><use href="#h" x="215.0" y="159.0" class="r"/><use href="#h" x="222.1" y="159.0" class="b"/><use href="#h" x="229.2" y="159.0" class="d"/><use href="#h" x="236.3" y="159.0" class="b"/><use href="#h" x="243.4" y="159.0" class="c"/><use href="#h" x="250.5" y="159.0" class="a"/><use href="#h" x="257.6" y="159.0" class="a"/><use href="#h" x="264.8" y="159.0" class="a"/><use href="#h" x="271.8" y="159.0" class="e"/><use href="#h" x="278.9" y="159.0" class="b"/><use href="#h" x="286.1" y="159.0" class="b"/><use href="#h" x="293.1" y="159.0" class="c"/><use href="#h" x="300.2" y="159.0" class="a"/><use href="#h" x="307.3" y="159.0" class="p"/><use href="#h" x="314.4" y="159.0" class="c"/><use href="#h" x="321.5" y="159.0" class="c"/><use href="#h" x="328.6" y="159.0" class="e"/><use href="#h" x="335.8" y="159.0" class="b"/><use href="#h" x="342.8" y="159.0" class="a"/><use href="#h" x="349.9" y="159.0" class="a"/><use href="#h" x="357.0" y="159.0" class="a"/><use href="#h" x="364.1" y="159.0" class="e"/><use href="#h" x="371.2" y="159.0" class="a"/><use href="#h" x="378.3" y="159.0" class="e"/><use href="#h" x="385.4" y="159.0" class="r"/><use href="#h" x="34.0" y="165.1" class="a"/><use href="#h" x="41.1" y="165.1" class="a"/><use href="#h" x="48.2" y="165.1" class="c"/><use href="#h" x="55.3" y="165.1" class="e"/><use href="#h" x="62.4" y="165.1" class="a"/><use href="#h" x="69.5" y="165.1" class="d"/><use href="#h" x="76.6" y="165.1" class="a"/><use href="#h" x="83.7" y="165.1" class="c"/><use href="#h" x="90.8" y="165.1" class="a"/><use href="#h" x="97.9" y="165.1" class="a"/><use href="#h" x="105.0" y="165.1" class="c"/><use href="#h" x="112.1" y="165.1" class="e"/><use href="#h" x="119.2" y="165.1" class="a"/><use href="#h" x="126.3" y="165.1" class="c"/><use href="#h" x="133.4" y="165.1" class="a"/><use href="#h" x="140.5" y="165.1" class="e"/><use href="#h" x="147.6" y="165.1" class="a"/><use href="#h" x="154.7" y="165.1" class="c"/><use href="#h" x="161.8" y="165.1" class="c"/><use href="#h" x="168.9" y="165.1" class="c"/><use href="#h" x="176.0" y="165.1" class="c"/><use href="#h" x="183.1" y="165.1" class="a"/><use href="#h" x="190.2" y="165.1" class="s"/><use href="#h" x="197.3" y="165.1" class="b"/><use href="#h" x="204.4" y="165.1" class="c"/><use href="#h" x="211.5" y="165.1" class="b"/><use href="#h" x="218.6" y="165.1" class="e"/><use href="#h" x="225.7" y="165.1" class="d"/><use href="#h" x="232.8" y="165.1" class="a"/><use href="#h" x="239.9" y="165.1" class="d"/><use href="#h" x="247.0" y="165.1" class="c"/><use href="#h" x="254.1" y="165.1" class="a"/><use href="#h" x="261.2" y="165.1" class="a"/><use href="#h" x="268.3" y="165.1" class="e"/><use href="#h" x="275.4" y="165.1" class="b"/><use href="#h" x="282.5" y="165.1" class="c"/><use href="#h" x="289.6" y="165.1" class="a"/><use href="#h" x="296.7" y="165.1" class="a"/><use href="#h" x="303.8" y="165.1" class="c"/><use href="#h" x="310.9" y="165.1" class="a"/><use href="#h" x="318.0" y="165.1" class="c"/><use href="#h" x="325.1" y="165.1" class="p"/><use href="#h" x="332.2" y="165.1" class="b"/><use href="#h" x="339.3" y="165.1" class="d"/><use href="#h" x="346.4" y="165.1" class="s"/><use href="#h" x="353.5" y="165.1" class="a"/><use href="#h" x="360.6" y="165.1" class="b"/><use href="#h" x="367.7" y="165.1" class="b"/><use href="#h" x="374.8" y="165.1" class="d"/><use href="#h" x="381.9" y="165.1" class="e"/><use href="#h" x="389.0" y="165.1" class="b"/><use href="#h" x="30.4" y="171.3" class="a"/><use href="#h" x="37.5" y="171.3" class="c"/><use href="#h" x="44.6" y="171.3" class="d"/><use href="#h" x="51.8" y="171.3" class="a"/><use href="#h" x="58.8" y="171.3" class="b"/><use href="#h" x="66.0" y="171.3" class="b"/><use href="#h" x="73.0" y="171.3" class="b"/><use href="#h" x="80.1" y="171.3" class="a"/><use href="#h" x="87.2" y="171.3" class="a"/><use href="#h" x="94.3" y="171.3" class="c"/><use href="#h" x="101.5" y="171.3" class="c"/><use href="#h" x="108.5" y="171.3" class="b"/><use href="#h" x="115.6" y="171.3" class="a"/><use href="#h" x="122.8" y="171.3" class="e"/><use href="#h" x="129.8" y="171.3" class="c"/><use href="#h" x="136.9" y="171.3" class="c"/><use href="#h" x="144.0" y="171.3" class="a"/><use href="#h" x="151.1" y="171.3" class="b"/><use href="#h" x="158.2" y="171.3" class="c"/><use href="#h" x="165.3" y="171.3" class="c"/><use href="#h" x="172.4" y="171.3" class="b"/><use href="#h" x="179.5" y="171.3" class="b"/><use href="#h" x="186.6" y="171.3" class="e"/><use href="#h" x="193.7" y="171.3" class="b"/><use href="#h" x="200.8" y="171.3" class="a"/><use href="#h" x="207.9" y="171.3" class="a"/><use href="#h" x="215.0" y="171.3" class="a"/><use href="#h" x="222.1" y="171.3" class="c"/><use href="#h" x="229.2" y="171.3" class="b"/><use href="#h" x="236.3" y="171.3" class="b"/><use href="#h" x="243.4" y="171.3" class="r"/><use href="#h" x="250.5" y="171.3" class="b"/><use href="#h" x="257.6" y="171.3" class="b"/><use href="#h" x="264.8" y="171.3" class="a"/><use href="#h" x="271.8" y="171.3" class="f"/><use href="#h" x="278.9" y="171.3" class="a"/><use href="#h" x="286.1" y="171.3" class="d"/><use href="#h" x="293.1" y="171.3" class="b"/><use href="#h" x="300.2" y="171.3" class="r"/><use href="#h" x="307.3" y="171.3" class="a"/><use href="#h" x="314.4" y="171.3" class="b"/><use href="#h" x="321.5" y="171.3" class="c"/><use href="#h" x="328.6" y="171.3" class="a"/><use href="#h" x="335.8" y="171.3" class="e"/><use href="#h" x="342.8" y="171.3" class="b"/><use href="#h" x="349.9" y="171.3" class="a"/><use href="#h" x="357.0" y="171.3" class="b"/><use href="#h" x="364.1" y="171.3" class="a"/><use href="#h" x="371.2" y="171.3" class="s"/><use href="#h" x="378.3" y="171.3" class="a"/><use href="#h" x="385.4" y="171.3" class="d"/><use href="#h" x="34.0" y="177.4" class="d"/><use href="#h" x="41.1" y="177.4" class="b"/><use href="#h" x="48.2" y="177.4" class="a"/><use href="#h" x="55.3" y="177.4" class="b"/><use href="#h" x="62.4" y="177.4" class="c"/><use href="#h" x="69.5" y="177.4" class="a"/><use href="#h" x="76.6" y="177.4" class="a"/><use href="#h" x="83.7" y="177.4" class="a"/><use href="#h" x="90.8" y="177.4" class="a"/><use href="#h" x="97.9" y="177.4" class="b"/><use href="#h" x="105.0" y="177.4" class="a"/><use href="#h" x="112.1" y="177.4" class="a"/><use href="#h" x="119.2" y="177.4" class="a"/><use href="#h" x="126.3" y="177.4" class="b"/><use href="#h" x="133.4" y="177.4" class="a"/><use href="#h" x="140.5" y="177.4" class="c"/><use href="#h" x="147.6" y="177.4" class="a"/><use href="#h" x="154.7" y="177.4" class="a"/><use href="#h" x="161.8" y="177.4" class="r"/><use href="#h" x="168.9" y="177.4" class="e"/><use href="#h" x="176.0" y="177.4" class="e"/><use href="#h" x="183.1" y="177.4" class="d"/><use href="#h" x="190.2" y="177.4" class="a"/><use href="#h" x="197.3" y="177.4" class="d"/><use href="#h" x="204.4" y="177.4" class="f"/><use href="#h" x="211.5" y="177.4" class="c"/><use href="#h" x="218.6" y="177.4" class="c"/><use href="#h" x="225.7" y="177.4" class="e"/><use href="#h" x="232.8" y="177.4" class="a"/><use href="#h" x="239.9" y="177.4" class="b"/><use href="#h" x="247.0" y="177.4" class="a"/><use href="#h" x="254.1" y="177.4" class="d"/><use href="#h" x="261.2" y="177.4" class="c"/><use href="#h" x="268.3" y="177.4" class="b"/><use href="#h" x="275.4" y="177.4" class="b"/><use href="#h" x="282.5" y="177.4" class="a"/><use href="#h" x="289.6" y="177.4" class="c"/><use href="#h" x="296.7" y="177.4" class="b"/><use href="#h" x="303.8" y="177.4" class="b"/><use href="#h" x="310.9" y="177.4" class="a"/><use href="#h" x="318.0" y="177.4" class="e"/><use href="#h" x="325.1" y="177.4" class="a"/><use href="#h" x="332.2" y="177.4" class="a"/><use href="#h" x="339.3" y="177.4" class="c"/><use href="#h" x="346.4" y="177.4" class="b"/><use href="#h" x="353.5" y="177.4" class="a"/><use href="#h" x="360.6" y="177.4" class="c"/><use href="#h" x="367.7" y="177.4" class="e"/><use href="#h" x="374.8" y="177.4" class="a"/><use href="#h" x="381.9" y="177.4" class="b"/><use href="#h" x="389.0" y="177.4" class="a"/><use href="#h" x="30.4" y="183.6" class="b"/><use href="#h" x="37.5" y="183.6" class="c"/><use href="#h" x="44.6" y="183.6" class="c"/><use href="#h" x="51.8" y="183.6" class="b"/><use href="#h" x="58.8" y="183.6" class="a"/><use href="#h" x="66.0" y="183.6" class="a"/><use href="#h" x="73.0" y="183.6" class="s"/><use href="#h" x="80.1" y="183.6" class="c"/><use href="#h" x="87.2" y="183.6" class="b"/><use href="#h" x="94.3" y="183.6" class="c"/><use href="#h" x="101.5" y="183.6" class="e"/><use href="#h" x="108.5" y="183.6" class="r"/><use href="#h" x="115.6" y="183.6" class="a"/><use href="#h" x="122.8" y="183.6" class="c"/><use href="#h" x="129.8" y="183.6" class="a"/><use href="#h" x="136.9" y="183.6" class="c"/><use href="#h" x="144.0" y="183.6" class="c"/><use href="#h" x="151.1" y="183.6" class="b"/><use href="#h" x="158.2" y="183.6" class="e"/><use href="#h" x="165.3" y="183.6" class="a"/><use href="#h" x="172.4" y="183.6" class="s"/><use href="#h" x="179.5" y="183.6" class="c"/><use href="#h" x="186.6" y="183.6" class="b"/><use href="#h" x="193.7" y="183.6" class="c"/><use href="#h" x="200.8" y="183.6" class="a"/><use href="#h" x="207.9" y="183.6" class="a"/><use href="#h" x="215.0" y="183.6" class="c"/><use href="#h" x="222.1" y="183.6" class="b"/><use href="#h" x="229.2" y="183.6" class="a"/><use href="#h" x="236.3" y="183.6" class="b"/><use href="#h" x="243.4" y="183.6" class="b"/><use href="#h" x="250.5" y="183.6" class="a"/><use href="#h" x="257.6" y="183.6" class="b"/><use href="#h" x="264.8" y="183.6" class="b"/><use href="#h" x="271.8" y="183.6" class="p"/><use href="#h" x="278.9" y="183.6" class="b"/><use href="#h" x="286.1" y="183.6" class="a"/><use href="#h" x="293.1" y="183.6" class="c"/><use href="#h" x="300.2" y="183.6" class="e"/><use href="#h" x="307.3" y="183.6" class="c"/><use href="#h" x="314.4" y="183.6" class="e"/><use href="#h" x="321.5" y="183.6" class="c"/><use href="#h" x="328.6" y="183.6" class="a"/><use href="#h" x="335.8" y="183.6" class="c"/><use href="#h" x="342.8" y="183.6" class="b"/><use href="#h" x="349.9" y="183.6" class="s"/><use href="#h" x="357.0" y="183.6" class="c"/><use href="#h" x="364.1" y="183.6" class="a"/><use href="#h" x="371.2" y="183.6" class="s"/><use href="#h" x="378.3" y="183.6" class="e"/><use href="#h" x="385.4" y="183.6" class="c"/><use href="#h" x="34.0" y="189.7" class="d"/><use href="#h" x="41.1" y="189.7" class="c"/><use href="#h" x="48.2" y="189.7" class="c"/><use href="#h" x="55.3" y="189.7" class="c"/><use href="#h" x="62.4" y="189.7" class="e"/><use href="#h" x="69.5" y="189.7" class="c"/><use href="#h" x="76.6" y="189.7" class="a"/><use href="#h" x="83.7" y="189.7" class="b"/><use href="#h" x="90.8" y="189.7" class="e"/><use href="#h" x="97.9" y="189.7" class="d"/><use href="#h" x="105.0" y="189.7" class="d"/><use href="#h" x="112.1" y="189.7" class="d"/><use href="#h" x="119.2" y="189.7" class="a"/><use href="#h" x="126.3" y="189.7" class="b"/><use href="#h" x="133.4" y="189.7" class="b"/><use href="#h" x="140.5" y="189.7" class="b"/><use href="#h" x="147.6" y="189.7" class="e"/><use href="#h" x="154.7" y="189.7" class="b"/><use href="#h" x="161.8" y="189.7" class="a"/><use href="#h" x="168.9" y="189.7" class="b"/><use href="#h" x="176.0" y="189.7" class="b"/><use href="#h" x="183.1" y="189.7" class="a"/><use href="#h" x="190.2" y="189.7" class="a"/><use href="#h" x="197.3" y="189.7" class="d"/><use href="#h" x="204.4" y="189.7" class="e"/><use href="#h" x="211.5" y="189.7" class="c"/><use href="#h" x="218.6" y="189.7" class="d"/><use href="#h" x="225.7" y="189.7" class="b"/><use href="#h" x="232.8" y="189.7" class="e"/><use href="#h" x="239.9" y="189.7" class="c"/><use href="#h" x="247.0" y="189.7" class="e"/><use href="#h" x="254.1" y="189.7" class="r"/><use href="#h" x="261.2" y="189.7" class="e"/><use href="#h" x="268.3" y="189.7" class="c"/><use href="#h" x="275.4" y="189.7" class="c"/><use href="#h" x="282.5" y="189.7" class="a"/><use href="#h" x="289.6" y="189.7" class="s"/><use href="#h" x="296.7" y="189.7" class="b"/><use href="#h" x="303.8" y="189.7" class="a"/><use href="#h" x="310.9" y="189.7" class="b"/><use href="#h" x="318.0" y="189.7" class="a"/><use href="#h" x="325.1" y="189.7" class="d"/><use href="#h" x="332.2" y="189.7" class="b"/><use href="#h" x="339.3" y="189.7" class="d"/><use href="#h" x="346.4" y="189.7" class="b"/><use href="#h" x="353.5" y="189.7" class="a"/><use href="#h" x="360.6" y="189.7" class="p"/><use href="#h" x="367.7" y="189.7" class="b"/><use href="#h" x="374.8" y="189.7" class="b"/><use href="#h" x="381.9" y="189.7" class="r"/><use href="#h" x="389.0" y="189.7" class="d"/><use href="#h" x="30.4" y="195.9" class="b"/><use href="#h" x="37.5" y="195.9" class="s"/><use href="#h" x="44.6" y="195.9" class="c"/><use href="#h" x="51.8" y="195.9" class="e"/><use href="#h" x="58.8" y="195.9" class="a"/><use href="#h" x="66.0" y="195.9" class="a"/><use href="#h" x="73.0" y="195.9" class="d"/><use href="#h" x="80.1" y="195.9" class="c"/><use href="#h" x="87.2" y="195.9" class="a"/><use href="#h" x="94.3" y="195.9" class="e"/><use href="#h" x="101.5" y="195.9" class="a"/><use href="#h" x="108.5" y="195.9" class="a"/><use href="#h" x="115.6" y="195.9" class="b"/><use href="#h" x="122.8" y="195.9" class="b"/><use href="#h" x="129.8" y="195.9" class="c"/><use href="#h" x="136.9" y="195.9" class="c"/><use href="#h" x="144.0" y="195.9" class="b"/><use href="#h" x="151.1" y="195.9" class="c"/><use href="#h" x="158.2" y="195.9" class="c"/><use href="#h" x="165.3" y="195.9" class="c"/><use href="#h" x="172.4" y="195.9" class="s"/><use href="#h" x="179.5" y="195.9" class="b"/><use href="#h" x="186.6" y="195.9" class="c"/><use href="#h" x="193.7" y="195.9" class="p"/><use href="#h" x="200.8" y="195.9" class="c"/><use href="#h" x="207.9" y="195.9" class="c"/><use href="#h" x="215.0" y="195.9" class="s"/><use href="#h" x="222.1" y="195.9" class="a"/><use href="#h" x="229.2" y="195.9" class="c"/><use href="#h" x="236.3" y="195.9" class="a"/><use href="#h" x="243.4" y="195.9" class="s"/><use href="#h" x="250.5" y="195.9" class="c"/><use href="#h" x="257.6" y="195.9" class="b"/><use href="#h" x="264.8" y="195.9" class="b"/><use href="#h" x="271.8" y="195.9" class="d"/><use href="#h" x="278.9" y="195.9" class="b"/><use href="#h" x="286.1" y="195.9" class="b"/><use href="#h" x="293.1" y="195.9" class="c"/><use href="#h" x="300.2" y="195.9" class="e"/><use href="#h" x="307.3" y="195.9" class="c"/><use href="#h" x="314.4" y="195.9" class="b"/><use href="#h" x="321.5" y="195.9" class="b"/><use href="#h" x="328.6" y="195.9" class="b"/><use href="#h" x="335.8" y="195.9" class="b"/><use href="#h" x="342.8" y="195.9" class="d"/><use href="#h" x="349.9" y="195.9" class="d"/><use href="#h" x="357.0" y="195.9" class="c"/><use href="#h" x="364.1" y="195.9" class="e"/><use href="#h" x="371.2" y="195.9" class="a"/><use href="#h" x="378.3" y="195.9" class="p"/><use href="#h" x="385.4" y="195.9" class="b"/><use href="#h" x="34.0" y="202.0" class="b"/><use href="#h" x="41.1" y="202.0" class="c"/><use href="#h" x="48.2" y="202.0" class="a"/><use href="#h" x="55.3" y="202.0" class="e"/><use href="#h" x="62.4" y="202.0" class="a"/><use href="#h" x="69.5" y="202.0" class="d"/><use href="#h" x="76.6" y="202.0" class="c"/><use href="#h" x="83.7" y="202.0" class="b"/><use href="#h" x="90.8" y="202.0" class="a"/><use href="#h" x="97.9" y="202.0" class="p"/><use href="#h" x="105.0" y="202.0" class="c"/><use href="#h" x="112.1" y="202.0" class="c"/><use href="#h" x="119.2" y="202.0" class="c"/><use href="#h" x="126.3" y="202.0" class="d"/><use href="#h" x="133.4" y="202.0" class="c"/><use href="#h" x="140.5" y="202.0" class="b"/><use href="#h" x="147.6" y="202.0" class="a"/><use href="#h" x="154.7" y="202.0" class="s"/><use href="#h" x="161.8" y="202.0" class="a"/><use href="#h" x="168.9" y="202.0" class="b"/><use href="#h" x="176.0" y="202.0" class="e"/><use href="#h" x="183.1" y="202.0" class="b"/><use href="#h" x="190.2" y="202.0" class="a"/><use href="#h" x="197.3" y="202.0" class="a"/><use href="#h" x="204.4" y="202.0" class="b"/><use href="#h" x="211.5" y="202.0" class="b"/><use href="#h" x="218.6" y="202.0" class="r"/><use href="#h" x="225.7" y="202.0" class="a"/><use href="#h" x="232.8" y="202.0" class="d"/><use href="#h" x="239.9" y="202.0" class="b"/><use href="#h" x="247.0" y="202.0" class="a"/><use href="#h" x="254.1" y="202.0" class="b"/><use href="#h" x="261.2" y="202.0" class="c"/><use href="#h" x="268.3" y="202.0" class="a"/><use href="#h" x="275.4" y="202.0" class="c"/><use href="#h" x="282.5" y="202.0" class="a"/><use href="#h" x="289.6" y="202.0" class="a"/><use href="#h" x="296.7" y="202.0" class="c"/><use href="#h" x="303.8" y="202.0" class="s"/><use href="#h" x="310.9" y="202.0" class="b"/><use href="#h" x="318.0" y="202.0" class="p"/><use href="#h" x="325.1" y="202.0" class="b"/><use href="#h" x="332.2" y="202.0" class="a"/><use href="#h" x="339.3" y="202.0" class="b"/><use href="#h" x="346.4" y="202.0" class="b"/><use href="#h" x="353.5" y="202.0" class="a"/><use href="#h" x="360.6" y="202.0" class="b"/><use href="#h" x="367.7" y="202.0" class="b"/><use href="#h" x="374.8" y="202.0" class="d"/><use href="#h" x="381.9" y="202.0" class="b"/><use href="#h" x="389.0" y="202.0" class="b"/><use href="#h" x="30.4" y="208.2" class="a"/><use href="#h" x="37.5" y="208.2" class="a"/><use href="#h" x="44.6" y="208.2" class="s"/><use href="#h" x="51.8" y="208.2" class="a"/><use href="#h" x="58.8" y="208.2" class="e"/><use href="#h" x="66.0" y="208.2" class="d"/><use href="#h" x="73.0" y="208.2" class="e"/><use href="#h" x="80.1" y="208.2" class="a"/><use href="#h" x="87.2" y="208.2" class="b"/><use href="#h" x="94.3" y="208.2" class="a"/><use href="#h" x="101.5" y="208.2" class="b"/><use href="#h" x="108.5" y="208.2" class="e"/><use href="#h" x="115.6" y="208.2" class="b"/><use href="#h" x="122.8" y="208.2" class="b"/><use href="#h" x="129.8" y="208.2" class="a"/><use href="#h" x="136.9" y="208.2" class="d"/><use href="#h" x="144.0" y="208.2" class="a"/><use href="#h" x="151.1" y="208.2" class="c"/><use href="#h" x="158.2" y="208.2" class="a"/><use href="#h" x="165.3" y="208.2" class="a"/><use href="#h" x="172.4" y="208.2" class="a"/><use href="#h" x="179.5" y="208.2" class="a"/><use href="#h" x="186.6" y="208.2" class="a"/><use href="#h" x="193.7" y="208.2" class="e"/><use href="#h" x="200.8" y="208.2" class="a"/><use href="#h" x="207.9" y="208.2" class="b"/><use href="#h" x="215.0" y="208.2" class="a"/><use href="#h" x="222.1" y="208.2" class="a"/><use href="#h" x="229.2" y="208.2" class="c"/><use href="#h" x="236.3" y="208.2" class="a"/><use href="#h" x="243.4" y="208.2" class="a"/><use href="#h" x="250.5" y="208.2" class="c"/><use href="#h" x="257.6" y="208.2" class="a"/><use href="#h" x="264.8" y="208.2" class="b"/><use href="#h" x="271.8" y="208.2" class="c"/><use href="#h" x="278.9" y="208.2" class="c"/><use href="#h" x="286.1" y="208.2" class="a"/><use href="#h" x="293.1" y="208.2" class="e"/><use href="#h" x="300.2" y="208.2" class="a"/><use href="#h" x="307.3" y="208.2" class="e"/><use href="#h" x="314.4" y="208.2" class="c"/><use href="#h" x="321.5" y="208.2" class="b"/><use href="#h" x="328.6" y="208.2" class="d"/><use href="#h" x="335.8" y="208.2" class="a"/><use href="#h" x="342.8" y="208.2" class="r"/><use href="#h" x="349.9" y="208.2" class="d"/><use href="#h" x="357.0" y="208.2" class="b"/><use href="#h" x="364.1" y="208.2" class="e"/><use href="#h" x="371.2" y="208.2" class="a"/><use href="#h" x="378.3" y="208.2" class="b"/><use href="#h" x="385.4" y="208.2" class="a"/><use href="#h" x="34.0" y="214.3" class="a"/><use href="#h" x="41.1" y="214.3" class="b"/><use href="#h" x="48.2" y="214.3" class="s"/><use href="#h" x="55.3" y="214.3" class="a"/><use href="#h" x="62.4" y="214.3" class="a"/><use href="#h" x="69.5" y="214.3" class="c"/><use href="#h" x="76.6" y="214.3" class="c"/><use href="#h" x="83.7" y="214.3" class="c"/><use href="#h" x="90.8" y="214.3" class="f"/><use href="#h" x="97.9" y="214.3" class="a"/><use href="#h" x="105.0" y="214.3" class="f"/><use href="#h" x="112.1" y="214.3" class="a"/><use href="#h" x="119.2" y="214.3" class="a"/><use href="#h" x="126.3" y="214.3" class="a"/><use href="#h" x="133.4" y="214.3" class="a"/><use href="#h" x="140.5" y="214.3" class="b"/><use href="#h" x="147.6" y="214.3" class="a"/><use href="#h" x="154.7" y="214.3" class="a"/><use href="#h" x="161.8" y="214.3" class="b"/><use href="#h" x="168.9" y="214.3" class="a"/><use href="#h" x="176.0" y="214.3" class="c"/><use href="#h" x="183.1" y="214.3" class="b"/><use href="#h" x="190.2" y="214.3" class="c"/><use href="#h" x="197.3" y="214.3" class="d"/><use href="#h" x="204.4" y="214.3" class="a"/><use href="#h" x="211.5" y="214.3" class="b"/><use href="#h" x="218.6" y="214.3" class="d"/><use href="#h" x="225.7" y="214.3" class="c"/><use href="#h" x="232.8" y="214.3" class="a"/><use href="#h" x="239.9" y="214.3" class="a"/><use href="#h" x="247.0" y="214.3" class="c"/><use href="#h" x="254.1" y="214.3" class="c"/><use href="#h" x="261.2" y="214.3" class="a"/><use href="#h" x="268.3" y="214.3" class="a"/><use href="#h" x="275.4" y="214.3" class="p"/><use href="#h" x="282.5" y="214.3" class="r"/><use href="#h" x="289.6" y="214.3" class="s"/><use href="#h" x="296.7" y="214.3" class="c"/><use href="#h" x="303.8" y="214.3" class="b"/><use href="#h" x="310.9" y="214.3" class="a"/><use href="#h" x="318.0" y="214.3" class="a"/><use href="#h" x="325.1" y="214.3" class="a"/><use href="#h" x="332.2" y="214.3" class="f"/><use href="#h" x="339.3" y="214.3" class="c"/><use href="#h" x="346.4" y="214.3" class="a"/><use href="#h" x="353.5" y="214.3" class="c"/><use href="#h" x="360.6" y="214.3" class="c"/><use href="#h" x="367.7" y="214.3" class="a"/><use href="#h" x="374.8" y="214.3" class="c"/><use href="#h" x="381.9" y="214.3" class="b"/><use href="#h" x="389.0" y="214.3" class="c"/><use href="#h" x="30.4" y="220.5" class="b"/><use href="#h" x="37.5" y="220.5" class="b"/><use href="#h" x="44.6" y="220.5" class="c"/><use href="#h" x="51.8" y="220.5" class="c"/><use href="#h" x="58.8" y="220.5" class="a"/><use href="#h" x="66.0" y="220.5" class="a"/><use href="#h" x="73.0" y="220.5" class="b"/><use href="#h" x="80.1" y="220.5" class="e"/><use href="#h" x="87.2" y="220.5" class="a"/><use href="#h" x="94.3" y="220.5" class="a"/><use href="#h" x="101.5" y="220.5" class="d"/><use href="#h" x="108.5" y="220.5" class="a"/><use href="#h" x="115.6" y="220.5" class="e"/><use href="#h" x="122.8" y="220.5" class="a"/><use href="#h" x="129.8" y="220.5" class="c"/><use href="#h" x="136.9" y="220.5" class="b"/><use href="#h" x="144.0" y="220.5" class="e"/><use href="#h" x="151.1" y="220.5" class="a"/><use href="#h" x="158.2" y="220.5" class="a"/><use href="#h" x="165.3" y="220.5" class="b"/><use href="#h" x="172.4" y="220.5" class="b"/><use href="#h" x="179.5" y="220.5" class="r"/><use href="#h" x="186.6" y="220.5" class="e"/><use href="#h" x="193.7" y="220.5" class="a"/><use href="#h" x="200.8" y="220.5" class="e"/><use href="#h" x="207.9" y="220.5" class="a"/><use href="#h" x="215.0" y="220.5" class="a"/><use href="#h" x="222.1" y="220.5" class="d"/><use href="#h" x="229.2" y="220.5" class="c"/><use href="#h" x="236.3" y="220.5" class="a"/><use href="#h" x="243.4" y="220.5" class="c"/><use href="#h" x="250.5" y="220.5" class="d"/><use href="#h" x="257.6" y="220.5" class="b"/><use href="#h" x="264.8" y="220.5" class="a"/><use href="#h" x="271.8" y="220.5" class="e"/><use href="#h" x="278.9" y="220.5" class="b"/><use href="#h" x="286.1" y="220.5" class="b"/><use href="#h" x="293.1" y="220.5" class="a"/><use href="#h" x="300.2" y="220.5" class="b"/><use href="#h" x="307.3" y="220.5" class="a"/><use href="#h" x="314.4" y="220.5" class="c"/><use href="#h" x="321.5" y="220.5" class="b"/><use href="#h" x="328.6" y="220.5" class="b"/><use href="#h" x="335.8" y="220.5" class="d"/><use href="#h" x="342.8" y="220.5" class="b"/><use href="#h" x="349.9" y="220.5" class="a"/><use href="#h" x="357.0" y="220.5" class="a"/><use href="#h" x="364.1" y="220.5" class="a"/><use href="#h" x="371.2" y="220.5" class="a"/><use href="#h" x="378.3" y="220.5" class="p"/><use href="#h" x="385.4" y="220.5" class="c"/><use href="#h" x="34.0" y="226.6" class="b"/><use href="#h" x="41.1" y="226.6" class="b"/><use href="#h" x="48.2" y="226.6" class="c"/><use href="#h" x="55.3" y="226.6" class="c"/><use href="#h" x="62.4" y="226.6" class="a"/><use href="#h" x="69.5" y="226.6" class="a"/><use href="#h" x="76.6" y="226.6" class="b"/><use href="#h" x="83.7" y="226.6" class="b"/><use href="#h" x="90.8" y="226.6" class="a"/><use href="#h" x="97.9" y="226.6" class="a"/><use href="#h" x="105.0" y="226.6" class="a"/><use href="#h" x="112.1" y="226.6" class="d"/><use href="#h" x="119.2" y="226.6" class="a"/><use href="#h" x="126.3" y="226.6" class="d"/><use href="#h" x="133.4" y="226.6" class="b"/><use href="#h" x="140.5" y="226.6" class="d"/><use href="#h" x="147.6" y="226.6" class="c"/><use href="#h" x="154.7" y="226.6" class="s"/><use href="#h" x="161.8" y="226.6" class="c"/><use href="#h" x="168.9" y="226.6" class="r"/><use href="#h" x="176.0" y="226.6" class="d"/><use href="#h" x="183.1" y="226.6" class="d"/><use href="#h" x="190.2" y="226.6" class="b"/><use href="#h" x="197.3" y="226.6" class="c"/><use href="#h" x="204.4" y="226.6" class="a"/><use href="#h" x="211.5" y="226.6" class="b"/><use href="#h" x="218.6" y="226.6" class="b"/><use href="#h" x="225.7" y="226.6" class="a"/><use href="#h" x="232.8" y="226.6" class="b"/><use href="#h" x="239.9" y="226.6" class="d"/><use href="#h" x="247.0" y="226.6" class="b"/><use href="#h" x="254.1" y="226.6" class="b"/><use href="#h" x="261.2" y="226.6" class="a"/><use href="#h" x="268.3" y="226.6" class="a"/><use href="#h" x="275.4" y="226.6" class="c"/><use href="#h" x="282.5" y="226.6" class="e"/><use href="#h" x="289.6" y="226.6" class="r"/><use href="#h" x="296.7" y="226.6" class="a"/><use href="#h" x="303.8" y="226.6" class="a"/><use href="#h" x="310.9" y="226.6" class="s"/><use href="#h" x="318.0" y="226.6" class="b"/><use href="#h" x="325.1" y="226.6" class="b"/><use href="#h" x="332.2" y="226.6" class="a"/><use href="#h" x="339.3" y="226.6" class="s"/><use href="#h" x="346.4" y="226.6" class="b"/><use href="#h" x="353.5" y="226.6" class="e"/><use href="#h" x="360.6" y="226.6" class="b"/><use href="#h" x="367.7" y="226.6" class="b"/><use href="#h" x="374.8" y="226.6" class="f"/><use href="#h" x="381.9" y="226.6" class="b"/><use href="#h" x="389.0" y="226.6" class="e"/><use href="#h" x="30.4" y="232.8" class="c"/><use href="#h" x="37.5" y="232.8" class="b"/><use href="#h" x="44.6" y="232.8" class="c"/><use href="#h" x="51.8" y="232.8" class="s"/><use href="#h" x="58.8" y="232.8" class="c"/><use href="#h" x="66.0" y="232.8" class="a"/><use href="#h" x="73.0" y="232.8" class="c"/><use href="#h" x="80.1" y="232.8" class="a"/><use href="#h" x="87.2" y="232.8" class="c"/><use href="#h" x="94.3" y="232.8" class="c"/><use href="#h" x="101.5" y="232.8" class="c"/><use href="#h" x="108.5" y="232.8" class="r"/><use href="#h" x="115.6" y="232.8" class="a"/><use href="#h" x="122.8" y="232.8" class="b"/><use href="#h" x="129.8" y="232.8" class="c"/><use href="#h" x="136.9" y="232.8" class="d"/><use href="#h" x="144.0" y="232.8" class="c"/><use href="#h" x="151.1" y="232.8" class="a"/><use href="#h" x="158.2" y="232.8" class="b"/><use href="#h" x="165.3" y="232.8" class="a"/><use href="#h" x="172.4" y="232.8" class="e"/><use href="#h" x="179.5" y="232.8" class="b"/><use href="#h" x="186.6" y="232.8" class="c"/><use href="#h" x="193.7" y="232.8" class="a"/><use href="#h" x="200.8" y="232.8" class="d"/><use href="#h" x="207.9" y="232.8" class="b"/><use href="#h" x="215.0" y="232.8" class="a"/><use href="#h" x="222.1" y="232.8" class="a"/><use href="#h" x="229.2" y="232.8" class="b"/><use href="#h" x="236.3" y="232.8" class="c"/><use href="#h" x="243.4" y="232.8" class="b"/><use href="#h" x="250.5" y="232.8" class="p"/><use href="#h" x="257.6" y="232.8" class="a"/><use href="#h" x="264.8" y="232.8" class="a"/><use href="#h" x="271.8" y="232.8" class="a"/><use href="#h" x="278.9" y="232.8" class="c"/><use href="#h" x="286.1" y="232.8" class="a"/><use href="#h" x="293.1" y="232.8" class="b"/><use href="#h" x="300.2" y="232.8" class="a"/><use href="#h" x="307.3" y="232.8" class="c"/><use href="#h" x="314.4" y="232.8" class="b"/><use href="#h" x="321.5" y="232.8" class="a"/><use href="#h" x="328.6" y="232.8" class="c"/><use href="#h" x="335.8" y="232.8" class="b"/><use href="#h" x="342.8" y="232.8" class="p"/><use href="#h" x="349.9" y="232.8" class="c"/><use href="#h" x="357.0" y="232.8" class="c"/><use href="#h" x="364.1" y="232.8" class="d"/><use href="#h" x="371.2" y="232.8" class="a"/><use href="#h" x="378.3" y="232.8" class="e"/><use href="#h" x="385.4" y="232.8" class="a"/><use href="#h" x="34.0" y="238.9" class="c"/><use href="#h" x="41.1" y="238.9" class="c"/><use href="#h" x="48.2" y="238.9" class="b"/><use href="#h" x="55.3" y="238.9" class="b"/><use href="#h" x="62.4" y="238.9" class="b"/><use href="#h" x="69.5" y="238.9" class="r"/><use href="#h" x="76.6" y="238.9" class="a"/><use href="#h" x="83.7" y="238.9" class="c"/><use href="#h" x="90.8" y="238.9" class="r"/><use href="#h" x="97.9" y="238.9" class="c"/><use href="#h" x="105.0" y="238.9" class="d"/><use href="#h" x="112.1" y="238.9" class="c"/><use href="#h" x="119.2" y="238.9" class="a"/><use href="#h" x="126.3" y="238.9" class="c"/><use href="#h" x="133.4" y="238.9" class="c"/><use href="#h" x="140.5" y="238.9" class="b"/><use href="#h" x="147.6" y="238.9" class="r"/><use href="#h" x="154.7" y="238.9" class="b"/><use href="#h" x="161.8" y="238.9" class="a"/><use href="#h" x="168.9" y="238.9" class="b"/><use href="#h" x="176.0" y="238.9" class="b"/><use href="#h" x="183.1" y="238.9" class="a"/><use href="#h" x="190.2" y="238.9" class="a"/><use href="#h" x="197.3" y="238.9" class="r"/><use href="#h" x="204.4" y="238.9" class="e"/><use href="#h" x="211.5" y="238.9" class="e"/><use href="#h" x="218.6" y="238.9" class="a"/><use href="#h" x="225.7" y="238.9" class="e"/><use href="#h" x="232.8" y="238.9" class="d"/><use href="#h" x="239.9" y="238.9" class="e"/><use href="#h" x="247.0" y="238.9" class="b"/><use href="#h" x="254.1" y="238.9" class="b"/><use href="#h" x="261.2" y="238.9" class="a"/><use href="#h" x="268.3" y="238.9" class="f"/><use href="#h" x="275.4" y="238.9" class="a"/><use href="#h" x="282.5" y="238.9" class="a"/><use href="#h" x="289.6" y="238.9" class="a"/><use href="#h" x="296.7" y="238.9" class="s"/><use href="#h" x="303.8" y="238.9" class="a"/><use href="#h" x="310.9" y="238.9" class="c"/><use href="#h" x="318.0" y="238.9" class="d"/><use href="#h" x="325.1" y="238.9" class="d"/><use href="#h" x="332.2" y="238.9" class="b"/><use href="#h" x="339.3" y="238.9" class="b"/><use href="#h" x="346.4" y="238.9" class="s"/><use href="#h" x="353.5" y="238.9" class="b"/><use href="#h" x="360.6" y="238.9" class="a"/>
<path d="M408.6 56.5L412.2 58.6M408.6 64.7L405.1 62.6M405.1 62.6L405.1 58.6M405.1 58.6L408.6 56.5M415.7 56.5L419.3 58.6M412.2 58.6L415.7 56.5M422.8 56.5L426.4 58.6M419.2 58.6L422.8 56.5M429.9 56.5L433.5 58.6M426.4 58.6L429.9 56.5M437.0 56.5L440.6 58.6M433.4 58.6L437.0 56.5M444.1 56.5L447.7 58.6M440.6 58.6L444.1 56.5M451.2 56.5L454.8 58.6M447.7 58.6L451.2 56.5M458.3 56.5L461.9 58.6M454.8 58.6L458.3 56.5M465.4 56.5L469.0 58.6M461.9 58.6L465.4 56.5M472.5 56.5L476.1 58.6M468.9 58.6L472.5 56.5M479.6 56.5L483.2 58.6M476.1 58.6L479.6 56.5M486.7 56.5L490.3 58.6M483.2 58.6L486.7 56.5M493.8 56.5L497.4 58.6M490.2 58.6L493.8 56.5M500.9 56.5L504.5 58.6M497.4 58.6L500.9 56.5M508.0 56.5L511.6 58.6M504.4 58.6L508.0 56.5M515.1 56.5L518.6 58.6M511.6 58.6L515.1 56.5M522.2 56.5L525.8 58.6M518.7 58.6L522.2 56.5M529.3 56.5L532.8 58.6M525.8 58.6L529.3 56.5M536.4 56.5L539.9 58.6M532.9 58.6L536.4 56.5M543.5 56.5L547.0 58.6M540.0 58.6L543.5 56.5M550.6 56.5L554.1 58.6M547.1 58.6L550.6 56.5M557.7 56.5L561.2 58.6M554.2 58.6L557.7 56.5M564.8 56.5L568.3 58.6M561.2 58.6L564.8 56.5M571.9 56.5L575.4 58.6M568.4 58.6L571.9 56.5M579.0 56.5L582.5 58.6M575.5 58.6L579.0 56.5M586.1 56.5L589.6 58.6M582.6 58.6L586.1 56.5M593.2 56.5L596.8 58.6M589.7 58.6L593.2 56.5M600.3 56.5L603.8 58.6M596.8 58.6L600.3 56.5M607.4 56.5L610.9 58.6M603.9 58.6L607.4 56.5M614.5 56.5L618.0 58.6M611.0 58.6L614.5 56.5M621.6 56.5L625.1 58.6M618.1 58.6L621.6 56.5M628.7 56.5L632.2 58.6M625.2 58.6L628.7 56.5M635.8 56.5L639.3 58.6M632.2 58.6L635.8 56.5M642.9 56.5L646.4 58.6M639.4 58.6L642.9 56.5M650.0 56.5L653.5 58.6M646.5 58.6L650.0 56.5M657.1 56.5L660.6 58.6M653.6 58.6L657.1 56.5M664.2 56.5L667.8 58.6M660.7 58.6L664.2 56.5M671.3 56.5L674.8 58.6M667.8 58.6L671.3 56.5M678.4 56.5L682.0 58.6M674.9 58.6L678.4 56.5M685.5 56.5L689.0 58.6M682.0 58.6L685.5 56.5M692.6 56.5L696.1 58.6M689.1 58.6L692.6 56.5M699.7 56.5L703.2 58.6M696.2 58.6L699.7 56.5M706.8 56.5L710.3 58.6M703.2 58.6L706.8 56.5M713.9 56.5L717.5 58.6M710.4 58.6L713.9 56.5M721.0 56.5L724.5 58.6M717.5 58.6L721.0 56.5M728.1 56.5L731.6 58.6M724.6 58.6L728.1 56.5M735.2 56.5L738.8 58.6M731.7 58.6L735.2 56.5M742.3 56.5L745.8 58.6M738.8 58.6L742.3 56.5M749.4 56.5L752.9 58.6M745.9 58.6L749.4 56.5M756.5 56.5L760.0 58.6M753.0 58.6L756.5 56.5M763.6 56.5L767.1 58.6M767.1 58.6L767.1 62.6M760.1 58.6L763.6 56.5M408.6 68.8L408.6 64.7M767.1 62.6L770.7 64.7M770.7 64.7L770.7 68.8M770.7 68.8L767.1 70.8M408.6 77.0L405.1 74.9M405.1 74.9L405.1 70.8M405.1 70.8L408.6 68.8M767.1 70.8L767.1 74.9M408.6 81.1L408.6 77.0M767.1 74.9L770.7 77.0M770.7 77.0L770.7 81.1M770.7 81.1L767.1 83.1M408.6 89.3L405.1 87.2M405.1 87.2L405.1 83.1M405.1 83.1L408.6 81.1M767.1 83.1L767.1 87.2M408.6 93.4L408.6 89.3M767.1 87.2L770.7 89.3M770.7 89.3L770.7 93.4M770.7 93.4L767.1 95.4M408.6 101.6L405.1 99.5M405.1 99.5L405.1 95.4M405.1 95.4L408.6 93.4M767.1 95.4L767.1 99.5M408.6 105.7L408.6 101.6M767.1 99.5L770.7 101.6M770.7 101.6L770.7 105.7M770.7 105.7L767.1 107.7M408.6 113.9L405.1 111.8M405.1 111.8L405.1 107.7M405.1 107.7L408.6 105.7M767.1 107.7L767.1 111.8M408.6 118.0L408.6 113.9M767.1 111.8L770.7 113.9M770.7 113.9L770.7 118.0M770.7 118.0L767.1 120.0M408.6 126.2L405.1 124.1M405.1 124.1L405.1 120.0M405.1 120.0L408.6 118.0M767.1 120.0L767.1 124.1M408.6 130.3L408.6 126.2M767.1 124.1L770.7 126.2M770.7 126.2L770.7 130.3M770.7 130.3L767.1 132.3M408.6 138.5L405.1 136.4M405.1 136.4L405.1 132.3M405.1 132.3L408.6 130.3M767.1 132.3L767.1 136.4M408.6 142.6L408.6 138.5M767.1 136.4L770.7 138.5M770.7 138.5L770.7 142.6M770.7 142.6L767.1 144.6M408.6 150.8L405.1 148.7M405.1 148.7L405.1 144.6M405.1 144.6L408.6 142.6M767.1 144.6L767.1 148.7M408.6 154.9L408.6 150.8M767.1 148.7L770.7 150.8M770.7 150.8L770.7 154.9M770.7 154.9L767.1 156.9M408.6 163.1L405.1 161.0M405.1 161.0L405.1 156.9M405.1 156.9L408.6 154.9M767.1 156.9L767.1 161.0M408.6 167.2L408.6 163.1M767.1 161.0L770.7 163.1M770.7 163.1L770.7 167.2M770.7 167.2L767.1 169.2M408.6 175.4L405.1 173.3M405.1 173.3L405.1 169.2M405.1 169.2L408.6 167.2M767.1 169.2L767.1 173.3M408.6 179.5L408.6 175.4M767.1 173.3L770.7 175.4M770.7 175.4L770.7 179.5M770.7 179.5L767.1 181.5M408.6 187.7L405.1 185.6M405.1 185.6L405.1 181.5M405.1 181.5L408.6 179.5M767.1 181.5L767.1 185.6M408.6 191.8L408.6 187.7M767.1 185.6L770.7 187.7M770.7 187.7L770.7 191.8M770.7 191.8L767.1 193.8M408.6 200.0L405.1 197.9M405.1 197.9L405.1 193.8M405.1 193.8L408.6 191.8M767.1 193.8L767.1 197.9M408.6 204.1L408.6 200.0M767.1 197.9L770.7 200.0M770.7 200.0L770.7 204.1M770.7 204.1L767.1 206.1M408.6 212.3L405.1 210.2M405.1 210.2L405.1 206.1M405.1 206.1L408.6 204.1M767.1 206.1L767.1 210.2M408.6 216.4L408.6 212.3M767.1 210.2L770.7 212.3M770.7 212.3L770.7 216.4M770.7 216.4L767.1 218.4M408.6 224.6L405.1 222.5M405.1 222.5L405.1 218.4M405.1 218.4L408.6 216.4M767.1 218.4L767.1 222.5M408.6 228.7L408.6 224.6M767.1 222.5L770.7 224.6M770.7 224.6L770.7 228.7M770.7 228.7L767.1 230.7M408.6 236.9L405.1 234.8M405.1 234.8L405.1 230.7M405.1 230.7L408.6 228.7M639.3 234.8L635.8 236.9M646.4 234.8L642.9 236.9M642.9 236.9L639.4 234.8M653.5 234.8L650.0 236.9M650.0 236.9L646.5 234.8M660.6 234.8L657.1 236.9M657.1 236.9L653.6 234.8M667.8 234.8L664.2 236.9M664.2 236.9L660.7 234.8M674.8 234.8L671.3 236.9M671.3 236.9L667.8 234.8M682.0 234.8L678.4 236.9M678.4 236.9L674.9 234.8M689.0 234.8L685.5 236.9M685.5 236.9L682.0 234.8M696.1 234.8L692.6 236.9M692.6 236.9L689.1 234.8M703.2 234.8L699.7 236.9M699.7 236.9L696.2 234.8M710.3 234.8L706.8 236.9M706.8 236.9L703.2 234.8M717.5 234.8L713.9 236.9M713.9 236.9L710.4 234.8M724.5 234.8L721.0 236.9M721.0 236.9L717.5 234.8M731.6 234.8L728.1 236.9M728.1 236.9L724.6 234.8M738.8 234.8L735.2 236.9M735.2 236.9L731.7 234.8M745.8 234.8L742.3 236.9M742.3 236.9L738.8 234.8M752.9 234.8L749.4 236.9M749.4 236.9L745.9 234.8M760.0 234.8L756.5 236.9M756.5 236.9L753.0 234.8M767.1 230.7L767.1 234.8M767.1 234.8L763.6 236.9M763.6 236.9L760.1 234.8M415.7 241.0L412.2 243.0M412.2 243.0L408.6 241.0M408.6 241.0L408.6 236.9M422.8 241.0L419.3 243.0M419.3 243.0L415.7 241.0M429.9 241.0L426.4 243.0M426.4 243.0L422.8 241.0M437.0 241.0L433.5 243.0M433.5 243.0L429.9 241.0M444.1 241.0L440.6 243.0M440.6 243.0L437.0 241.0M451.2 241.0L447.7 243.0M447.7 243.0L444.1 241.0M458.3 241.0L454.8 243.0M454.8 243.0L451.2 241.0M465.4 241.0L461.9 243.0M461.9 243.0L458.3 241.0M472.5 241.0L469.0 243.0M469.0 243.0L465.4 241.0M479.6 241.0L476.1 243.0M476.1 243.0L472.5 241.0M486.7 241.0L483.2 243.0M483.2 243.0L479.6 241.0M493.8 241.0L490.3 243.0M490.3 243.0L486.7 241.0M500.9 241.0L497.4 243.0M497.4 243.0L493.8 241.0M508.0 241.0L504.5 243.0M504.5 243.0L500.9 241.0M515.1 241.0L511.6 243.0M511.6 243.0L508.0 241.0M522.2 241.0L518.6 243.0M518.6 243.0L515.1 241.0M529.3 241.0L525.8 243.0M525.8 243.0L522.2 241.0M536.4 241.0L532.8 243.0M532.8 243.0L529.3 241.0M543.5 241.0L539.9 243.0M539.9 243.0L536.4 241.0M550.6 241.0L547.0 243.0M547.0 243.0L543.5 241.0M557.7 241.0L554.1 243.0M554.1 243.0L550.6 241.0M564.8 241.0L561.2 243.0M561.2 243.0L557.7 241.0M571.9 241.0L568.3 243.0M568.3 243.0L564.8 241.0M579.0 241.0L575.4 243.0M575.4 243.0L571.9 241.0M586.1 241.0L582.5 243.0M582.5 243.0L579.0 241.0M593.2 241.0L589.6 243.0M589.6 243.0L586.1 241.0M600.3 241.0L596.8 243.0M596.8 243.0L593.2 241.0M607.4 241.0L603.8 243.0M603.8 243.0L600.3 241.0M614.5 241.0L610.9 243.0M610.9 243.0L607.4 241.0M621.6 241.0L618.0 243.0M618.0 243.0L614.5 241.0M628.7 241.0L625.1 243.0M625.1 243.0L621.6 241.0M635.8 236.9L635.8 241.0M635.8 241.0L632.2 243.0M632.2 243.0L628.7 241.0" class="o"/>
<use href="#h" x="408.6" y="60.6" class="b"/><use href="#h" x="415.7" y="60.6" class="b"/><use href="#h" x="422.8" y="60.6" class="e"/><use href="#h" x="429.9" y="60.6" class="a"/><use href="#h" x="437.0" y="60.6" class="e"/><use href="#h" x="444.1" y="60.6" class="a"/><use href="#h" x="451.2" y="60.6" class="s"/><use href="#h" x="458.3" y="60.6" class="e"/><use href="#h" x="465.4" y="60.6" class="b"/><use href="#h" x="472.5" y="60.6" class="a"/><use href="#h" x="479.6" y="60.6" class="b"/><use href="#h" x="486.7" y="60.6" class="a"/><use href="#h" x="493.8" y="60.6" class="b"/><use href="#h" x="500.9" y="60.6" class="b"/><use href="#h" x="508.0" y="60.6" class="a"/><use href="#h" x="515.1" y="60.6" class="b"/><use href="#h" x="522.2" y="60.6" class="a"/><use href="#h" x="529.3" y="60.6" class="d"/><use href="#h" x="536.4" y="60.6" class="f"/><use href="#h" x="543.5" y="60.6" class="b"/><use href="#h" x="550.6" y="60.6" class="d"/><use href="#h" x="557.7" y="60.6" class="a"/><use href="#h" x="564.8" y="60.6" class="b"/><use href="#h" x="571.9" y="60.6" class="e"/><use href="#h" x="579.0" y="60.6" class="c"/><use href="#h" x="586.1" y="60.6" class="a"/><use href="#h" x="593.2" y="60.6" class="a"/><use href="#h" x="600.3" y="60.6" class="a"/><use href="#h" x="607.4" y="60.6" class="a"/><use href="#h" x="614.5" y="60.6" class="c"/><use href="#h" x="621.6" y="60.6" class="a"/><use href="#h" x="628.7" y="60.6" class="c"/><use href="#h" x="635.8" y="60.6" class="b"/><use href="#h" x="642.9" y="60.6" class="b"/><use href="#h" x="650.0" y="60.6" class="b"/><use href="#h" x="657.1" y="60.6" class="b"/><use href="#h" x="664.2" y="60.6" class="b"/><use href="#h" x="671.3" y="60.6" class="b"/><use href="#h" x="678.4" y="60.6" class="a"/><use href="#h" x="685.5" y="60.6" class="f"/><use href="#h" x="692.6" y="60.6" class="c"/><use href="#h" x="699.7" y="60.6" class="a"/><use href="#h" x="706.8" y="60.6" class="c"/><use href="#h" x="713.9" y="60.6" class="f"/><use href="#h" x="721.0" y="60.6" class="c"/><use href="#h" x="728.1" y="60.6" class="s"/><use href="#h" x="735.2" y="60.6" class="c"/><use href="#h" x="742.3" y="60.6" class="a"/><use href="#h" x="749.4" y="60.6" class="e"/><use href="#h" x="756.5" y="60.6" class="c"/><use href="#h" x="763.6" y="60.6" class="d"/><use href="#h" x="412.2" y="66.7" class="a"/><use href="#h" x="419.3" y="66.7" class="e"/><use href="#h" x="426.4" y="66.7" class="a"/><use href="#h" x="433.5" y="66.7" class="b"/><use href="#h" x="440.6" y="66.7" class="a"/><use href="#h" x="447.7" y="66.7" class="a"/><use href="#h" x="454.8" y="66.7" class="c"/><use href="#h" x="461.9" y="66.7" class="b"/><use href="#h" x="469.0" y="66.7" class="a"/><use href="#h" x="476.1" y="66.7" class="d"/><use href="#h" x="483.2" y="66.7" class="a"/><use href="#h" x="490.3" y="66.7" class="b"/><use href="#h" x="497.4" y="66.7" class="a"/><use href="#h" x="504.5" y="66.7" class="c"/><use href="#h" x="511.6" y="66.7" class="c"/><use href="#h" x="518.6" y="66.7" class="a"/><use href="#h" x="525.8" y="66.7" class="c"/><use href="#h" x="532.8" y="66.7" class="c"/><use href="#h" x="539.9" y="66.7" class="a"/><use href="#h" x="547.0" y="66.7" class="a"/><use href="#h" x="554.1" y="66.7" class="b"/><use href="#h" x="561.2" y="66.7" class="p"/><use href="#h" x="568.3" y="66.7" class="c"/><use href="#h" x="575.4" y="66.7" class="a"/><use href="#h" x="582.5" y="66.7" class="c"/><use href="#h" x="589.6" y="66.7" class="e"/><use href="#h" x="596.8" y="66.7" class="e"/><use href="#h" x="603.8" y="66.7" class="b"/><use href="#h" x="610.9" y="66.7" class="b"/><use href="#h" x="618.0" y="66.7" class="b"/><use href="#h" x="625.1" y="66.7" class="e"/><use href="#h" x="632.2" y="66.7" class="p"/><use href="#h" x="639.3" y="66.7" class="c"/><use href="#h" x="646.4" y="66.7" class="a"/><use href="#h" x="653.5" y="66.7" class="e"/><use href="#h" x="660.6" y="66.7" class="c"/><use href="#h" x="667.8" y="66.7" class="b"/><use href="#h" x="674.8" y="66.7" class="c"/><use href="#h" x="682.0" y="66.7" class="c"/><use href="#h" x="689.0" y="66.7" class="a"/><use href="#h" x="696.1" y="66.7" class="c"/><use href="#h" x="703.2" y="66.7" class="d"/><use href="#h" x="710.3" y="66.7" class="a"/><use href="#h" x="717.5" y="66.7" class="a"/><use href="#h" x="724.5" y="66.7" class="a"/><use href="#h" x="731.6" y="66.7" class="d"/><use href="#h" x="738.8" y="66.7" class="a"/><use href="#h" x="745.8" y="66.7" class="c"/><use href="#h" x="752.9" y="66.7" class="a"/><use href="#h" x="760.0" y="66.7" class="c"/><use href="#h" x="767.1" y="66.7" class="a"/><use href="#h" x="408.6" y="72.9" class="b"/><use href="#h" x="415.7" y="72.9" class="b"/><use href="#h" x="422.8" y="72.9" class="c"/><use href="#h" x="429.9" y="72.9" class="d"/><use href="#h" x="437.0" y="72.9" class="p"/><use href="#h" x="444.1" y="72.9" class="c"/><use href="#h" x="451.2" y="72.9" class="c"/><use href="#h" x="458.3" y="72.9" class="b"/><use href="#h" x="465.4" y="72.9" class="a"/><use href="#h" x="472.5" y="72.9" class="b"/><use href="#h" x="479.6" y="72.9" class="d"/><use href="#h" x="486.7" y="72.9" class="b"/><use href="#h" x="493.8" y="72.9" class="b"/><use href="#h" x="500.9" y="72.9" class="b"/><use href="#h" x="508.0" y="72.9" class="a"/><use href="#h" x="515.1" y="72.9" class="d"/><use href="#h" x="522.2" y="72.9" class="a"/><use href="#h" x="529.3" y="72.9" class="b"/><use href="#h" x="536.4" y="72.9" class="e"/><use href="#h" x="543.5" y="72.9" class="d"/><use href="#h" x="550.6" y="72.9" class="a"/><use href="#h" x="557.7" y="72.9" class="b"/><use href="#h" x="564.8" y="72.9" class="r"/><use href="#h" x="571.9" y="72.9" class="b"/><use href="#h" x="579.0" y="72.9" class="a"/><use href="#h" x="586.1" y="72.9" class="e"/><use href="#h" x="593.2" y="72.9" class="a"/><use href="#h" x="600.3" y="72.9" class="a"/><use href="#h" x="607.4" y="72.9" class="s"/><use href="#h" x="614.5" y="72.9" class="c"/><use href="#h" x="621.6" y="72.9" class="c"/><use href="#h" x="628.7" y="72.9" class="d"/><use href="#h" x="635.8" y="72.9" class="c"/><use href="#h" x="642.9" y="72.9" class="a"/><use href="#h" x="650.0" y="72.9" class="p"/><use href="#h" x="657.1" y="72.9" class="c"/><use href="#h" x="664.2" y="72.9" class="a"/><use href="#h" x="671.3" y="72.9" class="e"/><use href="#h" x="678.4" y="72.9" class="b"/><use href="#h" x="685.5" y="72.9" class="p"/><use href="#h" x="692.6" y="72.9" class="b"/><use href="#h" x="699.7" y="72.9" class="a"/><use href="#h" x="706.8" y="72.9" class="d"/><use href="#h" x="713.9" y="72.9" class="a"/><use href="#h" x="721.0" y="72.9" class="e"/><use href="#h" x="728.1" y="72.9" class="c"/><use href="#h" x="735.2" y="72.9" class="c"/><use href="#h" x="742.3" y="72.9" class="b"/><use href="#h" x="749.4" y="72.9" class="b"/><use href="#h" x="756.5" y="72.9" class="d"/><use href="#h" x="763.6" y="72.9" class="a"/><use href="#h" x="412.2" y="79.0" class="b"/><use href="#h" x="419.3" y="79.0" class="c"/><use href="#h" x="426.4" y="79.0" class="c"/><use href="#h" x="433.5" y="79.0" class="e"/><use href="#h" x="440.6" y="79.0" class="a"/><use href="#h" x="447.7" y="79.0" class="c"/><use href="#h" x="454.8" y="79.0" class="b"/><use href="#h" x="461.9" y="79.0" class="s"/><use href="#h" x="469.0" y="79.0" class="b"/><use href="#h" x="476.1" y="79.0" class="a"/><use href="#h" x="483.2" y="79.0" class="e"/><use href="#h" x="490.3" y="79.0" class="b"/><use href="#h" x="497.4" y="79.0" class="a"/><use href="#h" x="504.5" y="79.0" class="b"/><use href="#h" x="511.6" y="79.0" class="a"/><use href="#h" x="518.6" y="79.0" class="a"/><use href="#h" x="525.8" y="79.0" class="b"/><use href="#h" x="532.8" y="79.0" class="e"/><use href="#h" x="539.9" y="79.0" class="a"/><use href="#h" x="547.0" y="79.0" class="a"/><use href="#h" x="554.1" y="79.0" class="f"/><use href="#h" x="561.2" y="79.0" class="c"/><use href="#h" x="568.3" y="79.0" class="a"/><use href="#h" x="575.4" y="79.0" class="e"/><use href="#h" x="582.5" y="79.0" class="a"/><use href="#h" x="589.6" y="79.0" class="a"/><use href="#h" x="596.8" y="79.0" class="c"/><use href="#h" x="603.8" y="79.0" class="a"/><use href="#h" x="610.9" y="79.0" class="b"/><use href="#h" x="618.0" y="79.0" class="c"/><use href="#h" x="625.1" y="79.0" class="a"/><use href="#h" x="632.2" y="79.0" class="b"/><use href="#h" x="639.3" y="79.0" class="c"/><use href="#h" x="646.4" y="79.0" class="b"/><use href="#h" x="653.5" y="79.0" class="b"/><use href="#h" x="660.6" y="79.0" class="a"/><use href="#h" x="667.8" y="79.0" class="b"/><use href="#h" x="674.8" y="79.0" class="b"/><use href="#h" x="682.0" y="79.0" class="c"/><use href="#h" x="689.0" y="79.0" class="a"/><use href="#h" x="696.1" y="79.0" class="b"/><use href="#h" x="703.2" y="79.0" class="e"/><use href="#h" x="710.3" y="79.0" class="b"/><use href="#h" x="717.5" y="79.0" class="c"/><use href="#h" x="724.5" y="79.0" class="a"/><use href="#h" x="731.6" y="79.0" class="b"/><use href="#h" x="738.8" y="79.0" class="b"/><use href="#h" x="745.8" y="79.0" class="d"/><use href="#h" x="752.9" y="79.0" class="a"/><use href="#h" x="760.0" y="79.0" class="e"/><use href="#h" x="767.1" y="79.0" class="d"/><use href="#h" x="408.6" y="85.2" class="p"/><use href="#h" x="415.7" y="85.2" class="a"/><use href="#h" x="422.8" y="85.2" class="b"/><use href="#h" x="429.9" y="85.2" class="a"/><use href="#h" x="437.0" y="85.2" class="d"/><use href="#h" x="444.1" y="85.2" class="a"/><use href="#h" x="451.2" y="85.2" class="a"/><use href="#h" x="458.3" y="85.2" class="a"/><use href="#h" x="465.4" y="85.2" class="p"/><use href="#h" x="472.5" y="85.2" class="a"/><use href="#h" x="479.6" y="85.2" class="c"/><use href="#h" x="486.7" y="85.2" class="b"/><use href="#h" x="493.8" y="85.2" class="b"/><use href="#h" x="500.9" y="85.2" class="b"/><use href="#h" x="508.0" y="85.2" class="a"/><use href="#h" x="515.1" y="85.2" class="a"/><use href="#h" x="522.2" y="85.2" class="c"/><use href="#h" x="529.3" y="85.2" class="c"/><use href="#h" x="536.4" y="85.2" class="c"/><use href="#h" x="543.5" y="85.2" class="f"/><use href="#h" x="550.6" y="85.2" class="s"/><use href="#h" x="557.7" y="85.2" class="e"/><use href="#h" x="564.8" y="85.2" class="a"/><use href="#h" x="571.9" y="85.2" class="s"/><use href="#h" x="579.0" y="85.2" class="a"/><use href="#h" x="586.1" y="85.2" class="a"/><use href="#h" x="593.2" y="85.2" class="b"/><use href="#h" x="600.3" y="85.2" class="b"/><use href="#h" x="607.4" y="85.2" class="e"/><use href="#h" x="614.5" y="85.2" class="b"/><use href="#h" x="621.6" y="85.2" class="b"/><use href="#h" x="628.7" y="85.2" class="b"/><use href="#h" x="635.8" y="85.2" class="b"/><use href="#h" x="642.9" y="85.2" class="e"/><use href="#h" x="650.0" y="85.2" class="c"/><use href="#h" x="657.1" y="85.2" class="a"/><use href="#h" x="664.2" y="85.2" class="e"/><use href="#h" x="671.3" y="85.2" class="c"/><use href="#h" x="678.4" y="85.2" class="b"/><use href="#h" x="685.5" y="85.2" class="a"/><use href="#h" x="692.6" y="85.2" class="r"/><use href="#h" x="699.7" y="85.2" class="a"/><use href="#h" x="706.8" y="85.2" class="b"/><use href="#h" x="713.9" y="85.2" class="e"/><use href="#h" x="721.0" y="85.2" class="b"/><use href="#h" x="728.1" y="85.2" class="b"/><use href="#h" x="735.2" y="85.2" class="a"/><use href="#h" x="742.3" y="85.2" class="a"/><use href="#h" x="749.4" y="85.2" class="c"/><use href="#h" x="756.5" y="85.2" class="a"/><use href="#h" x="763.6" y="85.2" class="c"/><use href="#h" x="412.2" y="91.3" class="d"/><use href="#h" x="419.3" y="91.3" class="b"/><use href="#h" x="426.4" y="91.3" class="a"/><use href="#h" x="433.5" y="91.3" class="b"/><use href="#h" x="440.6" y="91.3" class="b"/><use href="#h" x="447.7" y="91.3" class="a"/><use href="#h" x="454.8" y="91.3" class="b"/><use href="#h" x="461.9" y="91.3" class="a"/><use href="#h" x="469.0" y="91.3" class="b"/><use href="#h" x="476.1" y="91.3" class="e"/><use href="#h" x="483.2" y="91.3" class="c"/><use href="#h" x="490.3" y="91.3" class="b"/><use href="#h" x="497.4" y="91.3" class="f"/><use href="#h" x="504.5" y="91.3" class="b"/><use href="#h" x="511.6" y="91.3" class="a"/><use href="#h" x="518.6" y="91.3" class="c"/><use href="#h" x="525.8" y="91.3" class="a"/><use href="#h" x="532.8" y="91.3" class="d"/><use href="#h" x="539.9" y="91.3" class="d"/><use href="#h" x="547.0" y="91.3" class="e"/><use href="#h" x="554.1" y="91.3" class="d"/><use href="#h" x="561.2" y="91.3" class="b"/><use href="#h" x="568.3" y="91.3" class="r"/><use href="#h" x="575.4" y="91.3" class="a"/><use href="#h" x="582.5" y="91.3" class="a"/><use href="#h" x="589.6" y="91.3" class="c"/><use href="#h" x="596.8" y="91.3" class="p"/><use href="#h" x="603.8" y="91.3" class="b"/><use href="#h" x="610.9" y="91.3" class="d"/><use href="#h" x="618.0" y="91.3" class="p"/><use href="#h" x="625.1" y="91.3" class="a"/><use href="#h" x="632.2" y="91.3" class="b"/><use href="#h" x="639.3" y="91.3" class="c"/><use href="#h" x="646.4" y="91.3" class="s"/><use href="#h" x="653.5" y="91.3" class="b"/><use href="#h" x="660.6" y="91.3" class="b"/><use href="#h" x="667.8" y="91.3" class="a"/><use href="#h" x="674.8" y="91.3" class="a"/><use href="#h" x="682.0" y="91.3" class="a"/><use href="#h" x="689.0" y="91.3" class="c"/><use href="#h" x="696.1" y="91.3" class="d"/><use href="#h" x="703.2" y="91.3" class="c"/><use href="#h" x="710.3" y="91.3" class="a"/><use href="#h" x="717.5" y="91.3" class="d"/><use href="#h" x="724.5" y="91.3" class="a"/><use href="#h" x="731.6" y="91.3" class="b"/><use href="#h" x="738.8" y="91.3" class="d"/><use href="#h" x="745.8" y="91.3" class="a"/><use href="#h" x="752.9" y="91.3" class="e"/><use href="#h" x="760.0" y="91.3" class="d"/><use href="#h" x="767.1" y="91.3" class="b"/><use href="#h" x="408.6" y="97.5" class="e"/><use href="#h" x="415.7" y="97.5" class="a"/><use href="#h" x="422.8" y="97.5" class="d"/><use href="#h" x="429.9" y="97.5" class="b"/><use href="#h" x="437.0" y="97.5" class="c"/><use href="#h" x="444.1" y="97.5" class="b"/><use href="#h" x="451.2" y="97.5" class="c"/><use href="#h" x="458.3" y="97.5" class="a"/><use href="#h" x="465.4" y="97.5" class="c"/><use href="#h" x="472.5" y="97.5" class="a"/><use href="#h" x="479.6" y="97.5" class="a"/><use href="#h" x="486.7" y="97.5" class="a"/><use href="#h" x="493.8" y="97.5" class="b"/><use href="#h" x="500.9" y="97.5" class="d"/><use href="#h" x="508.0" y="97.5" class="b"/><use href="#h" x="515.1" y="97.5" class="a"/><use href="#h" x="522.2" y="97.5" class="c"/><use href="#h" x="529.3" y="97.5" class="a"/><use href="#h" x="536.4" y="97.5" class="b"/><use href="#h" x="543.5" y="97.5" class="a"/><use href="#h" x="550.6" y="97.5" class="b"/><use href="#h" x="557.7" y="97.5" class="s"/><use href="#h" x="564.8" y="97.5" class="c"/><use href="#h" x="571.9" y="97.5" class="c"/><use href="#h" x="579.0" y="97.5" class="a"/><use href="#h" x="586.1" y="97.5" class="a"/><use href="#h" x="593.2" y="97.5" class="d"/><use href="#h" x="600.3" y="97.5" class="b"/><use href="#h" x="607.4" y="97.5" class="d"/><use href="#h" x="614.5" y="97.5" class="p"/><use href="#h" x="621.6" y="97.5" class="d"/><use href="#h" x="628.7" y="97.5" class="a"/><use href="#h" x="635.8" y="97.5" class="b"/><use href="#h" x="642.9" y="97.5" class="c"/><use href="#h" x="650.0" y="97.5" class="c"/><use href="#h" x="657.1" y="97.5" class="p"/><use href="#h" x="664.2" y="97.5" class="a"/><use href="#h" x="671.3" y="97.5" class="c"/><use href="#h" x="678.4" y="97.5" class="e"/><use href="#h" x="685.5" y="97.5" class="b"/><use href="#h" x="692.6" y="97.5" class="d"/><use href="#h" x="699.7" y="97.5" class="a"/><use href="#h" x="706.8" y="97.5" class="d"/><use href="#h" x="713.9" y="97.5" class="b"/><use href="#h" x="721.0" y="97.5" class="e"/><use href="#h" x="728.1" y="97.5" class="b"/><use href="#h" x="735.2" y="97.5" class="a"/><use href="#h" x="742.3" y="97.5" class="a"/><use href="#h" x="749.4" y="97.5" class="c"/><use href="#h" x="756.5" y="97.5" class="b"/><use href="#h" x="763.6" y="97.5" class="a"/><use href="#h" x="412.2" y="103.6" class="c"/><use href="#h" x="419.3" y="103.6" class="e"/><use href="#h" x="426.4" y="103.6" class="c"/><use href="#h" x="433.5" y="103.6" class="f"/><use href="#h" x="440.6" y="103.6" class="c"/><use href="#h" x="447.7" y="103.6" class="b"/><use href="#h" x="454.8" y="103.6" class="c"/><use href="#h" x="461.9" y="103.6" class="c"/><use href="#h" x="469.0" y="103.6" class="c"/><use href="#h" x="476.1" y="103.6" class="d"/><use href="#h" x="483.2" y="103.6" class="c"/><use href="#h" x="490.3" y="103.6" class="b"/><use href="#h" x="497.4" y="103.6" class="a"/><use href="#h" x="504.5" y="103.6" class="b"/><use href="#h" x="511.6" y="103.6" class="c"/><use href="#h" x="518.6" y="103.6" class="a"/><use href="#h" x="525.8" y="103.6" class="b"/><use href="#h" x="532.8" y="103.6" class="f"/><use href="#h" x="539.9" y="103.6" class="c"/><use href="#h" x="547.0" y="103.6" class="r"/><use href="#h" x="554.1" y="103.6" class="c"/><use href="#h" x="561.2" y="103.6" class="a"/><use href="#h" x="568.3" y="103.6" class="b"/><use href="#h" x="575.4" y="103.6" class="a"/><use href="#h" x="582.5" y="103.6" class="a"/><use href="#h" x="589.6" y="103.6" class="e"/><use href="#h" x="596.8" y="103.6" class="c"/><use href="#h" x="603.8" y="103.6" class="r"/><use href="#h" x="610.9" y="103.6" class="s"/><use href="#h" x="618.0" y="103.6" class="s"/><use href="#h" x="625.1" y="103.6" class="b"/><use href="#h" x="632.2" y="103.6" class="b"/><use href="#h" x="639.3" y="103.6" class="b"/><use href="#h" x="646.4" y="103.6" class="a"/><use href="#h" x="653.5" y="103.6" class="a"/><use href="#h" x="660.6" y="103.6" class="e"/><use href="#h" x="667.8" y="103.6" class="a"/><use href="#h" x="674.8" y="103.6" class="s"/><use href="#h" x="682.0" y="103.6" class="c"/><use href="#h" x="689.0" y="103.6" class="b"/><use href="#h" x="696.1" y="103.6" class="f"/><use href="#h" x="703.2" y="103.6" class="a"/><use href="#h" x="710.3" y="103.6" class="a"/><use href="#h" x="717.5" y="103.6" class="a"/><use href="#h" x="724.5" y="103.6" class="c"/><use href="#h" x="731.6" y="103.6" class="b"/><use href="#h" x="738.8" y="103.6" class="e"/><use href="#h" x="745.8" y="103.6" class="r"/><use href="#h" x="752.9" y="103.6" class="p"/><use href="#h" x="760.0" y="103.6" class="b"/><use href="#h" x="767.1" y="103.6" class="c"/><use href="#h" x="408.6" y="109.8" class="c"/><use href="#h" x="415.7" y="109.8" class="c"/><use href="#h" x="422.8" y="109.8" class="b"/><use href="#h" x="429.9" y="109.8" class="b"/><use href="#h" x="437.0" y="109.8" class="c"/><use href="#h" x="444.1" y="109.8" class="c"/><use href="#h" x="451.2" y="109.8" class="d"/><use href="#h" x="458.3" y="109.8" class="c"/><use href="#h" x="465.4" y="109.8" class="c"/><use href="#h" x="472.5" y="109.8" class="a"/><use href="#h" x="479.6" y="109.8" class="a"/><use href="#h" x="486.7" y="109.8" class="a"/><use href="#h" x="493.8" y="109.8" class="r"/><use href="#h" x="500.9" y="109.8" class="d"/><use href="#h" x="508.0" y="109.8" class="c"/><use href="#h" x="515.1" y="109.8" class="r"/><use href="#h" x="522.2" y="109.8" class="a"/><use href="#h" x="529.3" y="109.8" class="b"/><use href="#h" x="536.4" y="109.8" class="f"/><use href="#h" x="543.5" y="109.8" class="b"/><use href="#h" x="550.6" y="109.8" class="a"/><use href="#h" x="557.7" y="109.8" class="b"/><use href="#h" x="564.8" y="109.8" class="c"/><use href="#h" x="571.9" y="109.8" class="b"/><use href="#h" x="579.0" y="109.8" class="a"/><use href="#h" x="586.1" y="109.8" class="d"/><use href="#h" x="593.2" y="109.8" class="c"/><use href="#h" x="600.3" y="109.8" class="a"/><use href="#h" x="607.4" y="109.8" class="b"/><use href="#h" x="614.5" y="109.8" class="b"/><use href="#h" x="621.6" y="109.8" class="d"/><use href="#h" x="628.7" y="109.8" class="b"/><use href="#h" x="635.8" y="109.8" class="c"/><use href="#h" x="642.9" y="109.8" class="b"/><use href="#h" x="650.0" y="109.8" class="b"/><use href="#h" x="657.1" y="109.8" class="d"/><use href="#h" x="664.2" y="109.8" class="c"/><use href="#h" x="671.3" y="109.8" class="c"/><use href="#h" x="678.4" y="109.8" class="a"/><use href="#h" x="685.5" y="109.8" class="f"/><use href="#h" x="692.6" y="109.8" class="a"/><use href="#h" x="699.7" y="109.8" class="b"/><use href="#h" x="706.8" y="109.8" class="c"/><use href="#h" x="713.9" y="109.8" class="c"/><use href="#h" x="721.0" y="109.8" class="a"/><use href="#h" x="728.1" y="109.8" class="a"/><use href="#h" x="735.2" y="109.8" class="s"/><use href="#h" x="742.3" y="109.8" class="p"/><use href="#h" x="749.4" y="109.8" class="b"/><use href="#h" x="756.5" y="109.8" class="c"/><use href="#h" x="763.6" y="109.8" class="a"/><use href="#h" x="412.2" y="115.9" class="b"/><use href="#h" x="419.3" y="115.9" class="b"/><use href="#h" x="426.4" y="115.9" class="c"/><use href="#h" x="433.5" y="115.9" class="a"/><use href="#h" x="440.6" y="115.9" class="a"/><use href="#h" x="447.7" y="115.9" class="r"/><use href="#h" x="454.8" y="115.9" class="s"/><use href="#h" x="461.9" y="115.9" class="b"/><use href="#h" x="469.0" y="115.9" class="d"/><use href="#h" x="476.1" y="115.9" class="b"/><use href="#h" x="483.2" y="115.9" class="e"/><use href="#h" x="490.3" y="115.9" class="c"/><use href="#h" x="497.4" y="115.9" class="c"/><use href="#h" x="504.5" y="115.9" class="b"/><use href="#h" x="511.6" y="115.9" class="d"/><use href="#h" x="518.6" y="115.9" class="c"/><use href="#h" x="525.8" y="115.9" class="a"/><use href="#h" x="532.8" y="115.9" class="b"/><use href="#h" x="539.9" y="115.9" class="c"/><use href="#h" x="547.0" y="115.9" class="a"/><use href="#h" x="554.1" y="115.9" class="a"/><use href="#h" x="561.2" y="115.9" class="c"/><use href="#h" x="568.3" y="115.9" class="e"/><use href="#h" x="575.4" y="115.9" class="b"/><use href="#h" x="582.5" y="115.9" class="b"/><use href="#h" x="589.6" y="115.9" class="b"/><use href="#h" x="596.8" y="115.9" class="c"/><use href="#h" x="603.8" y="115.9" class="a"/><use href="#h" x="610.9" y="115.9" class="a"/><use href="#h" x="618.0" y="115.9" class="a"/><use href="#h" x="625.1" y="115.9" class="b"/><use href="#h" x="632.2" y="115.9" class="b"/><use href="#h" x="639.3" y="115.9" class="c"/><use href="#h" x="646.4" y="115.9" class="e"/><use href="#h" x="653.5" y="115.9" class="b"/><use href="#h" x="660.6" y="115.9" class="b"/><use href="#h" x="667.8" y="115.9" class="b"/><use href="#h" x="674.8" y="115.9" class="b"/><use href="#h" x="682.0" y="115.9" class="a"/><use href="#h" x="689.0" y="115.9" class="s"/><use href="#h" x="696.1" y="115.9" class="c"/><use href="#h" x="703.2" y="115.9" class="e"/><use href="#h" x="710.3" y="115.9" class="e"/><use href="#h" x="717.5" y="115.9" class="r"/><use href="#h" x="724.5" y="115.9" class="c"/><use href="#h" x="731.6" y="115.9" class="c"/><use href="#h" x="738.8" y="115.9" class="a"/><use href="#h" x="745.8" y="115.9" class="b"/><use href="#h" x="752.9" y="115.9" class="c"/><use href="#h" x="760.0" y="115.9" class="b"/><use href="#h" x="767.1" y="115.9" class="c"/><use href="#h" x="408.6" y="122.1" class="b"/><use href="#h" x="415.7" y="122.1" class="s"/><use href="#h" x="422.8" y="122.1" class="a"/><use href="#h" x="429.9" y="122.1" class="e"/><use href="#h" x="437.0" y="122.1" class="b"/><use href="#h" x="444.1" y="122.1" class="c"/><use href="#h" x="451.2" y="122.1" class="b"/><use href="#h" x="458.3" y="122.1" class="b"/><use href="#h" x="465.4" y="122.1" class="b"/><use href="#h" x="472.5" y="122.1" class="r"/><use href="#h" x="479.6" y="122.1" class="b"/><use href="#h" x="486.7" y="122.1" class="s"/><use href="#h" x="493.8" y="122.1" class="e"/><use href="#h" x="500.9" y="122.1" class="a"/><use href="#h" x="508.0" y="122.1" class="c"/><use href="#h" x="515.1" y="122.1" class="d"/><use href="#h" x="522.2" y="122.1" class="c"/><use href="#h" x="529.3" y="122.1" class="d"/><use href="#h" x="536.4" y="122.1" class="a"/><use href="#h" x="543.5" y="122.1" class="e"/><use href="#h" x="550.6" y="122.1" class="d"/><use href="#h" x="557.7" y="122.1" class="a"/><use href="#h" x="564.8" y="122.1" class="b"/><use href="#h" x="571.9" y="122.1" class="a"/><use href="#h" x="579.0" y="122.1" class="b"/><use href="#h" x="586.1" y="122.1" class="f"/><use href="#h" x="593.2" y="122.1" class="c"/><use href="#h" x="600.3" y="122.1" class="c"/><use href="#h" x="607.4" y="122.1" class="b"/><use href="#h" x="614.5" y="122.1" class="a"/><use href="#h" x="621.6" y="122.1" class="a"/><use href="#h" x="628.7" y="122.1" class="s"/><use href="#h" x="635.8" y="122.1" class="b"/><use href="#h" x="642.9" y="122.1" class="a"/><use href="#h" x="650.0" y="122.1" class="a"/><use href="#h" x="657.1" y="122.1" class="c"/><use href="#h" x="664.2" y="122.1" class="b"/><use href="#h" x="671.3" y="122.1" class="b"/><use href="#h" x="678.4" y="122.1" class="a"/><use href="#h" x="685.5" y="122.1" class="c"/><use href="#h" x="692.6" y="122.1" class="a"/><use href="#h" x="699.7" y="122.1" class="e"/><use href="#h" x="706.8" y="122.1" class="a"/><use href="#h" x="713.9" y="122.1" class="b"/><use href="#h" x="721.0" y="122.1" class="c"/><use href="#h" x="728.1" y="122.1" class="d"/><use href="#h" x="735.2" y="122.1" class="c"/><use href="#h" x="742.3" y="122.1" class="e"/><use href="#h" x="749.4" y="122.1" class="d"/><use href="#h" x="756.5" y="122.1" class="c"/><use href="#h" x="763.6" y="122.1" class="c"/><use href="#h" x="412.2" y="128.2" class="c"/><use href="#h" x="419.3" y="128.2" class="c"/><use href="#h" x="426.4" y="128.2" class="b"/><use href="#h" x="433.5" y="128.2" class="a"/><use href="#h" x="440.6" y="128.2" class="c"/><use href="#h" x="447.7" y="128.2" class="b"/><use href="#h" x="454.8" y="128.2" class="a"/><use href="#h" x="461.9" y="128.2" class="a"/><use href="#h" x="469.0" y="128.2" class="e"/><use href="#h" x="476.1" y="128.2" class="b"/><use href="#h" x="483.2" y="128.2" class="c"/><use href="#h" x="490.3" y="128.2" class="e"/><use href="#h" x="497.4" y="128.2" class="b"/><use href="#h" x="504.5" y="128.2" class="b"/><use href="#h" x="511.6" y="128.2" class="a"/><use href="#h" x="518.6" y="128.2" class="a"/><use href="#h" x="525.8" y="128.2" class="c"/><use href="#h" x="532.8" y="128.2" class="b"/><use href="#h" x="539.9" y="128.2" class="e"/><use href="#h" x="547.0" y="128.2" class="a"/><use href="#h" x="554.1" y="128.2" class="r"/><use href="#h" x="561.2" y="128.2" class="b"/><use href="#h" x="568.3" y="128.2" class="a"/><use href="#h" x="575.4" y="128.2" class="a"/><use href="#h" x="582.5" y="128.2" class="b"/><use href="#h" x="589.6" y="128.2" class="b"/><use href="#h" x="596.8" y="128.2" class="b"/><use href="#h" x="603.8" y="128.2" class="c"/><use href="#h" x="610.9" y="128.2" class="e"/><use href="#h" x="618.0" y="128.2" class="b"/><use href="#h" x="625.1" y="128.2" class="a"/><use href="#h" x="632.2" y="128.2" class="c"/><use href="#h" x="639.3" y="128.2" class="e"/><use href="#h" x="646.4" y="128.2" class="s"/><use href="#h" x="653.5" y="128.2" class="a"/><use href="#h" x="660.6" y="128.2" class="b"/><use href="#h" x="667.8" y="128.2" class="b"/><use href="#h" x="674.8" y="128.2" class="b"/><use href="#h" x="682.0" y="128.2" class="e"/><use href="#h" x="689.0" y="128.2" class="c"/><use href="#h" x="696.1" y="128.2" class="a"/><use href="#h" x="703.2" y="128.2" class="p"/><use href="#h" x="710.3" y="128.2" class="p"/><use href="#h" x="717.5" y="128.2" class="b"/><use href="#h" x="724.5" y="128.2" class="c"/><use href="#h" x="731.6" y="128.2" class="b"/><use href="#h" x="738.8" y="128.2" class="a"/><use href="#h" x="745.8" y="128.2" class="c"/><use href="#h" x="752.9" y="128.2" class="b"/><use href="#h" x="760.0" y="128.2" class="a"/><use href="#h" x="767.1" y="128.2" class="a"/><use href="#h" x="408.6" y="134.4" class="c"/><use href="#h" x="415.7" y="134.4" class="s"/><use href="#h" x="422.8" y="134.4" class="c"/><use href="#h" x="429.9" y="134.4" class="b"/><use href="#h" x="437.0" y="134.4" class="a"/><use href="#h" x="444.1" y="134.4" class="b"/><use href="#h" x="451.2" y="134.4" class="a"/><use href="#h" x="458.3" y="134.4" class="d"/><use href="#h" x="465.4" y="134.4" class="b"/><use href="#h" x="472.5" y="134.4" class="a"/><use href="#h" x="479.6" y="134.4" class="d"/><use href="#h" x="486.7" y="134.4" class="r"/><use href="#h" x="493.8" y="134.4" class="b"/><use href="#h" x="500.9" y="134.4" class="a"/><use href="#h" x="508.0" y="134.4" class="a"/><use href="#h" x="515.1" y="134.4" class="c"/><use href="#h" x="522.2" y="134.4" class="c"/><use href="#h" x="529.3" y="134.4" class="c"/><use href="#h" x="536.4" y="134.4" class="a"/><use href="#h" x="543.5" y="134.4" class="b"/><use href="#h" x="550.6" y="134.4" class="a"/><use href="#h" x="557.7" y="134.4" class="p"/><use href="#h" x="564.8" y="134.4" class="c"/><use href="#h" x="571.9" y="134.4" class="a"/><use href="#h" x="579.0" y="134.4" class="b"/><use href="#h" x="586.1" y="134.4" class="e"/><use href="#h" x="593.2" y="134.4" class="d"/><use href="#h" x="600.3" y="134.4" class="c"/><use href="#h" x="607.4" y="134.4" class="a"/><use href="#h" x="614.5" y="134.4" class="r"/><use href="#h" x="621.6" y="134.4" class="a"/><use href="#h" x="628.7" y="134.4" class="a"/><use href="#h" x="635.8" y="134.4" class="c"/><use href="#h" x="642.9" y="134.4" class="b"/><use href="#h" x="650.0" y="134.4" class="f"/><use href="#h" x="657.1" y="134.4" class="b"/><use href="#h" x="664.2" y="134.4" class="e"/><use href="#h" x="671.3" y="134.4" class="b"/><use href="#h" x="678.4" y="134.4" class="b"/><use href="#h" x="685.5" y="134.4" class="b"/><use href="#h" x="692.6" y="134.4" class="b"/><use href="#h" x="699.7" y="134.4" class="r"/><use href="#h" x="706.8" y="134.4" class="c"/><use href="#h" x="713.9" y="134.4" class="c"/><use href="#h" x="721.0" y="134.4" class="c"/><use href="#h" x="728.1" y="134.4" class="c"/><use href="#h" x="735.2" y="134.4" class="e"/><use href="#h" x="742.3" y="134.4" class="c"/><use href="#h" x="749.4" y="134.4" class="s"/><use href="#h" x="756.5" y="134.4" class="r"/><use href="#h" x="763.6" y="134.4" class="c"/><use href="#h" x="412.2" y="140.5" class="a"/><use href="#h" x="419.3" y="140.5" class="a"/><use href="#h" x="426.4" y="140.5" class="a"/><use href="#h" x="433.5" y="140.5" class="c"/><use href="#h" x="440.6" y="140.5" class="a"/><use href="#h" x="447.7" y="140.5" class="a"/><use href="#h" x="454.8" y="140.5" class="c"/><use href="#h" x="461.9" y="140.5" class="d"/><use href="#h" x="469.0" y="140.5" class="p"/><use href="#h" x="476.1" y="140.5" class="a"/><use href="#h" x="483.2" y="140.5" class="p"/><use href="#h" x="490.3" y="140.5" class="b"/><use href="#h" x="497.4" y="140.5" class="c"/><use href="#h" x="504.5" y="140.5" class="p"/><use href="#h" x="511.6" y="140.5" class="c"/><use href="#h" x="518.6" y="140.5" class="c"/><use href="#h" x="525.8" y="140.5" class="s"/><use href="#h" x="532.8" y="140.5" class="e"/><use href="#h" x="539.9" y="140.5" class="c"/><use href="#h" x="547.0" y="140.5" class="a"/><use href="#h" x="554.1" y="140.5" class="a"/><use href="#h" x="561.2" y="140.5" class="a"/><use href="#h" x="568.3" y="140.5" class="c"/><use href="#h" x="575.4" y="140.5" class="e"/><use href="#h" x="582.5" y="140.5" class="a"/><use href="#h" x="589.6" y="140.5" class="a"/><use href="#h" x="596.8" y="140.5" class="s"/><use href="#h" x="603.8" y="140.5" class="d"/><use href="#h" x="610.9" y="140.5" class="b"/><use href="#h" x="618.0" y="140.5" class="b"/><use href="#h" x="625.1" y="140.5" class="e"/><use href="#h" x="632.2" y="140.5" class="b"/><use href="#h" x="639.3" y="140.5" class="b"/><use href="#h" x="646.4" y="140.5" class="c"/><use href="#h" x="653.5" y="140.5" class="a"/><use href="#h" x="660.6" y="140.5" class="a"/><use href="#h" x="667.8" y="140.5" class="e"/><use href="#h" x="674.8" y="140.5" class="a"/><use href="#h" x="682.0" y="140.5" class="a"/><use href="#h" x="689.0" y="140.5" class="s"/><use href="#h" x="696.1" y="140.5" class="b"/><use href="#h" x="703.2" y="140.5" class="a"/><use href="#h" x="710.3" y="140.5" class="a"/><use href="#h" x="717.5" y="140.5" class="b"/><use href="#h" x="724.5" y="140.5" class="d"/><use href="#h" x="731.6" y="140.5" class="e"/><use href="#h" x="738.8" y="140.5" class="c"/><use href="#h" x="745.8" y="140.5" class="a"/><use href="#h" x="752.9" y="140.5" class="c"/><use href="#h" x="760.0" y="140.5" class="a"/><use href="#h" x="767.1" y="140.5" class="a"/><use href="#h" x="408.6" y="146.7" class="r"/><use href="#h" x="415.7" y="146.7" class="d"/><use href="#h" x="422.8" y="146.7" class="a"/><use href="#h" x="429.9" y="146.7" class="b"/><use href="#h" x="437.0" y="146.7" class="b"/><use href="#h" x="444.1" y="146.7" class="b"/><use href="#h" x="451.2" y="146.7" class="s"/><use href="#h" x="458.3" y="146.7" class="b"/><use href="#h" x="465.4" y="146.7" class="c"/><use href="#h" x="472.5" y="146.7" class="a"/><use href="#h" x="479.6" y="146.7" class="b"/><use href="#h" x="486.7" y="146.7" class="c"/><use href="#h" x="493.8" y="146.7" class="a"/><use href="#h" x="500.9" y="146.7" class="a"/><use href="#h" x="508.0" y="146.7" class="b"/><use href="#h" x="515.1" y="146.7" class="a"/><use href="#h" x="522.2" y="146.7" class="b"/><use href="#h" x="529.3" y="146.7" class="c"/><use href="#h" x="536.4" y="146.7" class="a"/><use href="#h" x="543.5" y="146.7" class="a"/><use href="#h" x="550.6" y="146.7" class="b"/><use href="#h" x="557.7" y="146.7" class="a"/><use href="#h" x="564.8" y="146.7" class="a"/><use href="#h" x="571.9" y="146.7" class="b"/><use href="#h" x="579.0" y="146.7" class="e"/><use href="#h" x="586.1" y="146.7" class="a"/><use href="#h" x="593.2" y="146.7" class="a"/><use href="#h" x="600.3" y="146.7" class="e"/><use href="#h" x="607.4" y="146.7" class="b"/><use href="#h" x="614.5" y="146.7" class="s"/><use href="#h" x="621.6" y="146.7" class="b"/><use href="#h" x="628.7" y="146.7" class="d"/><use href="#h" x="635.8" y="146.7" class="p"/><use href="#h" x="642.9" y="146.7" class="b"/><use href="#h" x="650.0" y="146.7" class="a"/><use href="#h" x="657.1" y="146.7" class="e"/><use href="#h" x="664.2" y="146.7" class="a"/><use href="#h" x="671.3" y="146.7" class="c"/><use href="#h" x="678.4" y="146.7" class="b"/><use href="#h" x="685.5" y="146.7" class="c"/><use href="#h" x="692.6" y="146.7" class="e"/><use href="#h" x="699.7" y="146.7" class="d"/><use href="#h" x="706.8" y="146.7" class="c"/><use href="#h" x="713.9" y="146.7" class="a"/><use href="#h" x="721.0" y="146.7" class="d"/><use href="#h" x="728.1" y="146.7" class="b"/><use href="#h" x="735.2" y="146.7" class="a"/><use href="#h" x="742.3" y="146.7" class="e"/><use href="#h" x="749.4" y="146.7" class="a"/><use href="#h" x="756.5" y="146.7" class="c"/><use href="#h" x="763.6" y="146.7" class="a"/><use href="#h" x="412.2" y="152.8" class="b"/><use href="#h" x="419.3" y="152.8" class="b"/><use href="#h" x="426.4" y="152.8" class="d"/><use href="#h" x="433.5" y="152.8" class="f"/><use href="#h" x="440.6" y="152.8" class="e"/><use href="#h" x="447.7" y="152.8" class="b"/><use href="#h" x="454.8" y="152.8" class="d"/><use href="#h" x="461.9" y="152.8" class="b"/><use href="#h" x="469.0" y="152.8" class="r"/><use href="#h" x="476.1" y="152.8" class="a"/><use href="#h" x="483.2" y="152.8" class="c"/><use href="#h" x="490.3" y="152.8" class="s"/><use href="#h" x="497.4" y="152.8" class="a"/><use href="#h" x="504.5" y="152.8" class="d"/><use href="#h" x="511.6" y="152.8" class="f"/><use href="#h" x="518.6" y="152.8" class="b"/><use href="#h" x="525.8" y="152.8" class="s"/><use href="#h" x="532.8" y="152.8" class="a"/><use href="#h" x="539.9" y="152.8" class="d"/><use href="#h" x="547.0" y="152.8" class="a"/><use href="#h" x="554.1" y="152.8" class="b"/><use href="#h" x="561.2" y="152.8" class="a"/><use href="#h" x="568.3" y="152.8" class="b"/><use href="#h" x="575.4" y="152.8" class="a"/><use href="#h" x="582.5" y="152.8" class="f"/><use href="#h" x="589.6" y="152.8" class="b"/><use href="#h" x="596.8" y="152.8" class="a"/><use href="#h" x="603.8" y="152.8" class="c"/><use href="#h" x="610.9" y="152.8" class="a"/><use href="#h" x="618.0" y="152.8" class="b"/><use href="#h" x="625.1" y="152.8" class="a"/><use href="#h" x="632.2" y="152.8" class="f"/><use href="#h" x="639.3" y="152.8" class="s"/><use href="#h" x="646.4" y="152.8" class="b"/><use href="#h" x="653.5" y="152.8" class="b"/><use href="#h" x="660.6" y="152.8" class="c"/><use href="#h" x="667.8" y="152.8" class="a"/><use href="#h" x="674.8" y="152.8" class="a"/><use href="#h" x="682.0" y="152.8" class="a"/><use href="#h" x="689.0" y="152.8" class="d"/><use href="#h" x="696.1" y="152.8" class="a"/><use href="#h" x="703.2" y="152.8" class="a"/><use href="#h" x="710.3" y="152.8" class="b"/><use href="#h" x="717.5" y="152.8" class="s"/><use href="#h" x="724.5" y="152.8" class="p"/><use href="#h" x="731.6" y="152.8" class="f"/><use href="#h" x="738.8" y="152.8" class="p"/><use href="#h" x="745.8" y="152.8" class="b"/><use href="#h" x="752.9" y="152.8" class="c"/><use href="#h" x="760.0" y="152.8" class="a"/><use href="#h" x="767.1" y="152.8" class="a"/><use href="#h" x="408.6" y="159.0" class="b"/><use href="#h" x="415.7" y="159.0" class="c"/><use href="#h" x="422.8" y="159.0" class="b"/><use href="#h" x="429.9" y="159.0" class="a"/><use href="#h" x="437.0" y="159.0" class="d"/><use href="#h" x="444.1" y="159.0" class="c"/><use href="#h" x="451.2" y="159.0" class="a"/><use href="#h" x="458.3" y="159.0" class="b"/><use href="#h" x="465.4" y="159.0" class="d"/><use href="#h" x="472.5" y="159.0" class="a"/><use href="#h" x="479.6" y="159.0" class="b"/><use href="#h" x="486.7" y="159.0" class="d"/><use href="#h" x="493.8" y="159.0" class="c"/><use href="#h" x="500.9" y="159.0" class="a"/><use href="#h" x="508.0" y="159.0" class="c"/><use href="#h" x="515.1" y="159.0" class="a"/><use href="#h" x="522.2" y="159.0" class="b"/><use href="#h" x="529.3" y="159.0" class="e"/><use href="#h" x="536.4" y="159.0" class="c"/><use href="#h" x="543.5" y="159.0" class="a"/><use href="#h" x="550.6" y="159.0" class="a"/><use href="#h" x="557.7" y="159.0" class="a"/><use href="#h" x="564.8" y="159.0" class="f"/><use href="#h" x="571.9" y="159.0" class="a"/><use href="#h" x="579.0" y="159.0" class="a"/><use href="#h" x="586.1" y="159.0" class="a"/><use href="#h" x="593.2" y="159.0" class="b"/><use href="#h" x="600.3" y="159.0" class="b"/><use href="#h" x="607.4" y="159.0" class="a"/><use href="#h" x="614.5" y="159.0" class="b"/><use href="#h" x="621.6" y="159.0" class="d"/><use href="#h" x="628.7" y="159.0" class="e"/><use href="#h" x="635.8" y="159.0" class="b"/><use href="#h" x="642.9" y="159.0" class="a"/><use href="#h" x="650.0" y="159.0" class="c"/><use href="#h" x="657.1" y="159.0" class="b"/><use href="#h" x="664.2" y="159.0" class="e"/><use href="#h" x="671.3" y="159.0" class="a"/><use href="#h" x="678.4" y="159.0" class="s"/><use href="#h" x="685.5" y="159.0" class="b"/><use href="#h" x="692.6" y="159.0" class="a"/><use href="#h" x="699.7" y="159.0" class="b"/><use href="#h" x="706.8" y="159.0" class="a"/><use href="#h" x="713.9" y="159.0" class="b"/><use href="#h" x="721.0" y="159.0" class="e"/><use href="#h" x="728.1" y="159.0" class="e"/><use href="#h" x="735.2" y="159.0" class="d"/><use href="#h" x="742.3" y="159.0" class="c"/><use href="#h" x="749.4" y="159.0" class="f"/><use href="#h" x="756.5" y="159.0" class="c"/><use href="#h" x="763.6" y="159.0" class="b"/><use href="#h" x="412.2" y="165.1" class="a"/><use href="#h" x="419.3" y="165.1" class="a"/><use href="#h" x="426.4" y="165.1" class="c"/><use href="#h" x="433.5" y="165.1" class="b"/><use href="#h" x="440.6" y="165.1" class="e"/><use href="#h" x="447.7" y="165.1" class="c"/><use href="#h" x="454.8" y="165.1" class="a"/><use href="#h" x="461.9" y="165.1" class="c"/><use href="#h" x="469.0" y="165.1" class="e"/><use href="#h" x="476.1" y="165.1" class="c"/><use href="#h" x="483.2" y="165.1" class="a"/><use href="#h" x="490.3" y="165.1" class="b"/><use href="#h" x="497.4" y="165.1" class="a"/><use href="#h" x="504.5" y="165.1" class="c"/><use href="#h" x="511.6" y="165.1" class="s"/><use href="#h" x="518.6" y="165.1" class="c"/><use href="#h" x="525.8" y="165.1" class="c"/><use href="#h" x="532.8" y="165.1" class="e"/><use href="#h" x="539.9" y="165.1" class="a"/><use href="#h" x="547.0" y="165.1" class="a"/><use href="#h" x="554.1" y="165.1" class="s"/><use href="#h" x="561.2" y="165.1" class="b"/><use href="#h" x="568.3" y="165.1" class="b"/><use href="#h" x="575.4" y="165.1" class="a"/><use href="#h" x="582.5" y="165.1" class="a"/><use href="#h" x="589.6" y="165.1" class="b"/><use href="#h" x="596.8" y="165.1" class="a"/><use href="#h" x="603.8" y="165.1" class="b"/><use href="#h" x="610.9" y="165.1" class="e"/><use href="#h" x="618.0" y="165.1" class="a"/><use href="#h" x="625.1" y="165.1" class="a"/><use href="#h" x="632.2" y="165.1" class="b"/><use href="#h" x="639.3" y="165.1" class="e"/><use href="#h" x="646.4" y="165.1" class="s"/><use href="#h" x="653.5" y="165.1" class="e"/><use href="#h" x="660.6" y="165.1" class="b"/><use href="#h" x="667.8" y="165.1" class="e"/><use href="#h" x="674.8" y="165.1" class="c"/><use href="#h" x="682.0" y="165.1" class="r"/><use href="#h" x="689.0" y="165.1" class="a"/><use href="#h" x="696.1" y="165.1" class="c"/><use href="#h" x="703.2" y="165.1" class="a"/><use href="#h" x="710.3" y="165.1" class="a"/><use href="#h" x="717.5" y="165.1" class="b"/><use href="#h" x="724.5" y="165.1" class="c"/><use href="#h" x="731.6" y="165.1" class="s"/><use href="#h" x="738.8" y="165.1" class="b"/><use href="#h" x="745.8" y="165.1" class="c"/><use href="#h" x="752.9" y="165.1" class="e"/><use href="#h" x="760.0" y="165.1" class="r"/><use href="#h" x="767.1" y="165.1" class="a"/><use href="#h" x="408.6" y="171.3" class="d"/><use href="#h" x="415.7" y="171.3" class="c"/><use href="#h" x="422.8" y="171.3" class="a"/><use href="#h" x="429.9" y="171.3" class="b"/><use href="#h" x="437.0" y="171.3" class="b"/><use href="#h" x="444.1" y="171.3" class="a"/><use href="#h" x="451.2" y="171.3" class="a"/><use href="#h" x="458.3" y="171.3" class="c"/><use href="#h" x="465.4" y="171.3" class="c"/><use href="#h" x="472.5" y="171.3" class="b"/><use href="#h" x="479.6" y="171.3" class="a"/><use href="#h" x="486.7" y="171.3" class="b"/><use href="#h" x="493.8" y="171.3" class="a"/><use href="#h" x="500.9" y="171.3" class="d"/><use href="#h" x="508.0" y="171.3" class="s"/><use href="#h" x="515.1" y="171.3" class="a"/><use href="#h" x="522.2" y="171.3" class="a"/><use href="#h" x="529.3" y="171.3" class="c"/><use href="#h" x="536.4" y="171.3" class="a"/><use href="#h" x="543.5" y="171.3" class="a"/><use href="#h" x="550.6" y="171.3" class="e"/><use href="#h" x="557.7" y="171.3" class="a"/><use href="#h" x="564.8" y="171.3" class="a"/><use href="#h" x="571.9" y="171.3" class="b"/><use href="#h" x="579.0" y="171.3" class="c"/><use href="#h" x="586.1" y="171.3" class="a"/><use href="#h" x="593.2" y="171.3" class="a"/><use href="#h" x="600.3" y="171.3" class="c"/><use href="#h" x="607.4" y="171.3" class="b"/><use href="#h" x="614.5" y="171.3" class="d"/><use href="#h" x="621.6" y="171.3" class="a"/><use href="#h" x="628.7" y="171.3" class="s"/><use href="#h" x="635.8" y="171.3" class="r"/><use href="#h" x="642.9" y="171.3" class="a"/><use href="#h" x="650.0" y="171.3" class="e"/><use href="#h" x="657.1" y="171.3" class="a"/><use href="#h" x="664.2" y="171.3" class="d"/><use href="#h" x="671.3" y="171.3" class="a"/><use href="#h" x="678.4" y="171.3" class="a"/><use href="#h" x="685.5" y="171.3" class="e"/><use href="#h" x="692.6" y="171.3" class="c"/><use href="#h" x="699.7" y="171.3" class="c"/><use href="#h" x="706.8" y="171.3" class="c"/><use href="#h" x="713.9" y="171.3" class="b"/><use href="#h" x="721.0" y="171.3" class="d"/><use href="#h" x="728.1" y="171.3" class="b"/><use href="#h" x="735.2" y="171.3" class="a"/><use href="#h" x="742.3" y="171.3" class="e"/><use href="#h" x="749.4" y="171.3" class="b"/><use href="#h" x="756.5" y="171.3" class="c"/><use href="#h" x="763.6" y="171.3" class="c"/><use href="#h" x="412.2" y="177.4" class="f"/><use href="#h" x="419.3" y="177.4" class="c"/><use href="#h" x="426.4" y="177.4" class="a"/><use href="#h" x="433.5" y="177.4" class="e"/><use href="#h" x="440.6" y="177.4" class="b"/><use href="#h" x="447.7" y="177.4" class="e"/><use href="#h" x="454.8" y="177.4" class="a"/><use href="#h" x="461.9" y="177.4" class="d"/><use href="#h" x="469.0" y="177.4" class="e"/><use href="#h" x="476.1" y="177.4" class="c"/><use href="#h" x="483.2" y="177.4" class="a"/><use href="#h" x="490.3" y="177.4" class="c"/><use href="#h" x="497.4" y="177.4" class="s"/><use href="#h" x="504.5" y="177.4" class="c"/><use href="#h" x="511.6" y="177.4" class="c"/><use href="#h" x="518.6" y="177.4" class="e"/><use href="#h" x="525.8" y="177.4" class="a"/><use href="#h" x="532.8" y="177.4" class="r"/><use href="#h" x="539.9" y="177.4" class="d"/><use href="#h" x="547.0" y="177.4" class="s"/><use href="#h" x="554.1" y="177.4" class="c"/><use href="#h" x="561.2" y="177.4" class="b"/><use href="#h" x="568.3" y="177.4" class="r"/><use href="#h" x="575.4" y="177.4" class="b"/><use href="#h" x="582.5" y="177.4" class="e"/><use href="#h" x="589.6" y="177.4" class="a"/><use href="#h" x="596.8" y="177.4" class="c"/><use href="#h" x="603.8" y="177.4" class="s"/><use href="#h" x="610.9" y="177.4" class="b"/><use href="#h" x="618.0" y="177.4" class="b"/><use href="#h" x="625.1" y="177.4" class="a"/><use href="#h" x="632.2" y="177.4" class="c"/><use href="#h" x="639.3" y="177.4" class="e"/><use href="#h" x="646.4" y="177.4" class="c"/><use href="#h" x="653.5" y="177.4" class="c"/><use href="#h" x="660.6" y="177.4" class="s"/><use href="#h" x="667.8" y="177.4" class="a"/><use href="#h" x="674.8" y="177.4" class="a"/><use href="#h" x="682.0" y="177.4" class="a"/><use href="#h" x="689.0" y="177.4" class="a"/><use href="#h" x="696.1" y="177.4" class="a"/><use href="#h" x="703.2" y="177.4" class="e"/><use href="#h" x="710.3" y="177.4" class="a"/><use href="#h" x="717.5" y="177.4" class="r"/><use href="#h" x="724.5" y="177.4" class="c"/><use href="#h" x="731.6" y="177.4" class="a"/><use href="#h" x="738.8" y="177.4" class="a"/><use href="#h" x="745.8" y="177.4" class="a"/><use href="#h" x="752.9" y="177.4" class="e"/><use href="#h" x="760.0" y="177.4" class="f"/><use href="#h" x="767.1" y="177.4" class="c"/><use href="#h" x="408.6" y="183.6" class="a"/><use href="#h" x="415.7" y="183.6" class="e"/><use href="#h" x="422.8" y="183.6" class="c"/><use href="#h" x="429.9" y="183.6" class="a"/><use href="#h" x="437.0" y="183.6" class="b"/><use href="#h" x="444.1" y="183.6" class="b"/><use href="#h" x="451.2" y="183.6" class="b"/><use href="#h" x="458.3" y="183.6" class="a"/><use href="#h" x="465.4" y="183.6" class="d"/><use href="#h" x="472.5" y="183.6" class="s"/><use href="#h" x="479.6" y="183.6" class="d"/><use href="#h" x="486.7" y="183.6" class="b"/><use href="#h" x="493.8" y="183.6" class="d"/><use href="#h" x="500.9" y="183.6" class="c"/><use href="#h" x="508.0" y="183.6" class="e"/><use href="#h" x="515.1" y="183.6" class="a"/><use href="#h" x="522.2" y="183.6" class="c"/><use href="#h" x="529.3" y="183.6" class="b"/><use href="#h" x="536.4" y="183.6" class="c"/><use href="#h" x="543.5" y="183.6" class="c"/><use href="#h" x="550.6" y="183.6" class="e"/><use href="#h" x="557.7" y="183.6" class="b"/><use href="#h" x="564.8" y="183.6" class="f"/><use href="#h" x="571.9" y="183.6" class="d"/><use href="#h" x="579.0" y="183.6" class="a"/><use href="#h" x="586.1" y="183.6" class="p"/><use href="#h" x="593.2" y="183.6" class="a"/><use href="#h" x="600.3" y="183.6" class="b"/><use href="#h" x="607.4" y="183.6" class="c"/><use href="#h" x="614.5" y="183.6" class="c"/><use href="#h" x="621.6" y="183.6" class="d"/><use href="#h" x="628.7" y="183.6" class="b"/><use href="#h" x="635.8" y="183.6" class="d"/><use href="#h" x="642.9" y="183.6" class="b"/><use href="#h" x="650.0" y="183.6" class="a"/><use href="#h" x="657.1" y="183.6" class="b"/><use href="#h" x="664.2" y="183.6" class="c"/><use href="#h" x="671.3" y="183.6" class="b"/><use href="#h" x="678.4" y="183.6" class="b"/><use href="#h" x="685.5" y="183.6" class="a"/><use href="#h" x="692.6" y="183.6" class="a"/><use href="#h" x="699.7" y="183.6" class="b"/><use href="#h" x="706.8" y="183.6" class="b"/><use href="#h" x="713.9" y="183.6" class="b"/><use href="#h" x="721.0" y="183.6" class="a"/><use href="#h" x="728.1" y="183.6" class="s"/><use href="#h" x="735.2" y="183.6" class="a"/><use href="#h" x="742.3" y="183.6" class="a"/><use href="#h" x="749.4" y="183.6" class="c"/><use href="#h" x="756.5" y="183.6" class="e"/><use href="#h" x="763.6" y="183.6" class="c"/><use href="#h" x="412.2" y="189.7" class="a"/><use href="#h" x="419.3" y="189.7" class="c"/><use href="#h" x="426.4" y="189.7" class="d"/><use href="#h" x="433.5" y="189.7" class="b"/><use href="#h" x="440.6" y="189.7" class="a"/><use href="#h" x="447.7" y="189.7" class="b"/><use href="#h" x="454.8" y="189.7" class="e"/><use href="#h" x="461.9" y="189.7" class="a"/><use href="#h" x="469.0" y="189.7" class="c"/><use href="#h" x="476.1" y="189.7" class="b"/><use href="#h" x="483.2" y="189.7" class="a"/><use href="#h" x="490.3" y="189.7" class="c"/><use href="#h" x="497.4" y="189.7" class="b"/><use href="#h" x="504.5" y="189.7" class="a"/><use href="#h" x="511.6" y="189.7" class="c"/><use href="#h" x="518.6" y="189.7" class="c"/><use href="#h" x="525.8" y="189.7" class="a"/><use href="#h" x="532.8" y="189.7" class="b"/><use href="#h" x="539.9" y="189.7" class="d"/><use href="#h" x="547.0" y="189.7" class="b"/><use href="#h" x="554.1" y="189.7" class="b"/><use href="#h" x="561.2" y="189.7" class="a"/><use href="#h" x="568.3" y="189.7" class="s"/><use href="#h" x="575.4" y="189.7" class="b"/><use href="#h" x="582.5" y="189.7" class="b"/><use href="#h" x="589.6" y="189.7" class="c"/><use href="#h" x="596.8" y="189.7" class="d"/><use href="#h" x="603.8" y="189.7" class="a"/><use href="#h" x="610.9" y="189.7" class="b"/><use href="#h" x="618.0" y="189.7" class="r"/><use href="#h" x="625.1" y="189.7" class="c"/><use href="#h" x="632.2" y="189.7" class="c"/><use href="#h" x="639.3" y="189.7" class="b"/><use href="#h" x="646.4" y="189.7" class="s"/><use href="#h" x="653.5" y="189.7" class="b"/><use href="#h" x="660.6" y="189.7" class="a"/><use href="#h" x="667.8" y="189.7" class="d"/><use href="#h" x="674.8" y="189.7" class="b"/><use href="#h" x="682.0" y="189.7" class="b"/><use href="#h" x="689.0" y="189.7" class="a"/><use href="#h" x="696.1" y="189.7" class="a"/><use href="#h" x="703.2" y="189.7" class="e"/><use href="#h" x="710.3" y="189.7" class="c"/><use href="#h" x="717.5" y="189.7" class="e"/><use href="#h" x="724.5" y="189.7" class="c"/><use href="#h" x="731.6" y="189.7" class="a"/><use href="#h" x="738.8" y="189.7" class="a"/><use href="#h" x="745.8" y="189.7" class="e"/><use href="#h" x="752.9" y="189.7" class="b"/><use href="#h" x="760.0" y="189.7" class="b"/><use href="#h" x="767.1" y="189.7" class="b"/><use href="#h" x="408.6" y="195.9" class="c"/><use href="#h" x="415.7" y="195.9" class="b"/><use href="#h" x="422.8" y="195.9" class="a"/><use href="#h" x="429.9" y="195.9" class="e"/><use href="#h" x="437.0" y="195.9" class="a"/><use href="#h" x="444.1" y="195.9" class="a"/><use href="#h" x="451.2" y="195.9" class="b"/><use href="#h" x="458.3" y="195.9" class="b"/><use href="#h" x="465.4" y="195.9" class="d"/><use href="#h" x="472.5" y="195.9" class="b"/><use href="#h" x="479.6" y="195.9" class="d"/><use href="#h" x="486.7" y="195.9" class="b"/><use href="#h" x="493.8" y="195.9" class="b"/><use href="#h" x="500.9" y="195.9" class="a"/><use href="#h" x="508.0" y="195.9" class="a"/><use href="#h" x="515.1" y="195.9" class="d"/><use href="#h" x="522.2" y="195.9" class="d"/><use href="#h" x="529.3" y="195.9" class="e"/><use href="#h" x="536.4" y="195.9" class="c"/><use href="#h" x="543.5" y="195.9" class="a"/><use href="#h" x="550.6" y="195.9" class="a"/><use href="#h" x="557.7" y="195.9" class="a"/><use href="#h" x="564.8" y="195.9" class="a"/><use href="#h" x="571.9" y="195.9" class="c"/><use href="#h" x="579.0" y="195.9" class="e"/><use href="#h" x="586.1" y="195.9" class="a"/><use href="#h" x="593.2" y="195.9" class="b"/><use href="#h" x="600.3" y="195.9" class="c"/><use href="#h" x="607.4" y="195.9" class="a"/><use href="#h" x="614.5" y="195.9" class="e"/><use href="#h" x="621.6" y="195.9" class="b"/><use href="#h" x="628.7" y="195.9" class="c"/><use href="#h" x="635.8" y="195.9" class="f"/><use href="#h" x="642.9" y="195.9" class="b"/><use href="#h" x="650.0" y="195.9" class="b"/><use href="#h" x="657.1" y="195.9" class="c"/><use href="#h" x="664.2" y="195.9" class="b"/><use href="#h" x="671.3" y="195.9" class="a"/><use href="#h" x="678.4" y="195.9" class="b"/><use href="#h" x="685.5" y="195.9" class="e"/><use href="#h" x="692.6" y="195.9" class="d"/><use href="#h" x="699.7" y="195.9" class="c"/><use href="#h" x="706.8" y="195.9" class="c"/><use href="#h" x="713.9" y="195.9" class="b"/><use href="#h" x="721.0" y="195.9" class="a"/><use href="#h" x="728.1" y="195.9" class="a"/><use href="#h" x="735.2" y="195.9" class="b"/><use href="#h" x="742.3" y="195.9" class="c"/><use href="#h" x="749.4" y="195.9" class="a"/><use href="#h" x="756.5" y="195.9" class="c"/><use href="#h" x="763.6" y="195.9" class="f"/><use href="#h" x="412.2" y="202.0" class="b"/><use href="#h" x="419.3" y="202.0" class="a"/><use href="#h" x="426.4" y="202.0" class="b"/><use href="#h" x="433.5" y="202.0" class="c"/><use href="#h" x="440.6" y="202.0" class="a"/><use href="#h" x="447.7" y="202.0" class="e"/><use href="#h" x="454.8" y="202.0" class="b"/><use href="#h" x="461.9" y="202.0" class="a"/><use href="#h" x="469.0" y="202.0" class="e"/><use href="#h" x="476.1" y="202.0" class="b"/><use href="#h" x="483.2" y="202.0" class="c"/><use href="#h" x="490.3" y="202.0" class="d"/><use href="#h" x="497.4" y="202.0" class="d"/><use href="#h" x="504.5" y="202.0" class="b"/><use href="#h" x="511.6" y="202.0" class="b"/><use href="#h" x="518.6" y="202.0" class="e"/><use href="#h" x="525.8" y="202.0" class="c"/><use href="#h" x="532.8" y="202.0" class="c"/><use href="#h" x="539.9" y="202.0" class="b"/><use href="#h" x="547.0" y="202.0" class="c"/><use href="#h" x="554.1" y="202.0" class="e"/><use href="#h" x="561.2" y="202.0" class="b"/><use href="#h" x="568.3" y="202.0" class="d"/><use href="#h" x="575.4" y="202.0" class="b"/><use href="#h" x="582.5" y="202.0" class="a"/><use href="#h" x="589.6" y="202.0" class="c"/><use href="#h" x="596.8" y="202.0" class="e"/><use href="#h" x="603.8" y="202.0" class="e"/><use href="#h" x="610.9" y="202.0" class="a"/><use href="#h" x="618.0" y="202.0" class="b"/><use href="#h" x="625.1" y="202.0" class="a"/><use href="#h" x="632.2" y="202.0" class="e"/><use href="#h" x="639.3" y="202.0" class="d"/><use href="#h" x="646.4" y="202.0" class="p"/><use href="#h" x="653.5" y="202.0" class="b"/><use href="#h" x="660.6" y="202.0" class="c"/><use href="#h" x="667.8" y="202.0" class="e"/><use href="#h" x="674.8" y="202.0" class="a"/><use href="#h" x="682.0" y="202.0" class="b"/><use href="#h" x="689.0" y="202.0" class="s"/><use href="#h" x="696.1" y="202.0" class="b"/><use href="#h" x="703.2" y="202.0" class="a"/><use href="#h" x="710.3" y="202.0" class="c"/><use href="#h" x="717.5" y="202.0" class="a"/><use href="#h" x="724.5" y="202.0" class="e"/><use href="#h" x="731.6" y="202.0" class="b"/><use href="#h" x="738.8" y="202.0" class="a"/><use href="#h" x="745.8" y="202.0" class="c"/><use href="#h" x="752.9" y="202.0" class="c"/><use href="#h" x="760.0" y="202.0" class="a"/><use href="#h" x="767.1" y="202.0" class="b"/><use href="#h" x="408.6" y="208.2" class="e"/><use href="#h" x="415.7" y="208.2" class="c"/><use href="#h" x="422.8" y="208.2" class="b"/><use href="#h" x="429.9" y="208.2" class="d"/><use href="#h" x="437.0" y="208.2" class="e"/><use href="#h" x="444.1" y="208.2" class="d"/><use href="#h" x="451.2" y="208.2" class="a"/><use href="#h" x="458.3" y="208.2" class="e"/><use href="#h" x="465.4" y="208.2" class="b"/><use href="#h" x="472.5" y="208.2" class="d"/><use href="#h" x="479.6" y="208.2" class="b"/><use href="#h" x="486.7" y="208.2" class="b"/><use href="#h" x="493.8" y="208.2" class="a"/><use href="#h" x="500.9" y="208.2" class="a"/><use href="#h" x="508.0" y="208.2" class="a"/><use href="#h" x="515.1" y="208.2" class="a"/><use href="#h" x="522.2" y="208.2" class="a"/><use href="#h" x="529.3" y="208.2" class="b"/><use href="#h" x="536.4" y="208.2" class="e"/><use href="#h" x="543.5" y="208.2" class="e"/><use href="#h" x="550.6" y="208.2" class="b"/><use href="#h" x="557.7" y="208.2" class="d"/><use href="#h" x="564.8" y="208.2" class="c"/><use href="#h" x="571.9" y="208.2" class="b"/><use href="#h" x="579.0" y="208.2" class="d"/><use href="#h" x="586.1" y="208.2" class="e"/><use href="#h" x="593.2" y="208.2" class="s"/><use href="#h" x="600.3" y="208.2" class="b"/><use href="#h" x="607.4" y="208.2" class="b"/><use href="#h" x="614.5" y="208.2" class="c"/><use href="#h" x="621.6" y="208.2" class="b"/><use href="#h" x="628.7" y="208.2" class="b"/><use href="#h" x="635.8" y="208.2" class="b"/><use href="#h" x="642.9" y="208.2" class="a"/><use href="#h" x="650.0" y="208.2" class="d"/><use href="#h" x="657.1" y="208.2" class="a"/><use href="#h" x="664.2" y="208.2" class="f"/><use href="#h" x="671.3" y="208.2" class="d"/><use href="#h" x="678.4" y="208.2" class="a"/><use href="#h" x="685.5" y="208.2" class="a"/><use href="#h" x="692.6" y="208.2" class="r"/><use href="#h" x="699.7" y="208.2" class="b"/><use href="#h" x="706.8" y="208.2" class="r"/><use href="#h" x="713.9" y="208.2" class="s"/><use href="#h" x="721.0" y="208.2" class="a"/><use href="#h" x="728.1" y="208.2" class="s"/><use href="#h" x="735.2" y="208.2" class="e"/><use href="#h" x="742.3" y="208.2" class="s"/><use href="#h" x="749.4" y="208.2" class="b"/><use href="#h" x="756.5" y="208.2" class="a"/><use href="#h" x="763.6" y="208.2" class="c"/><use href="#h" x="412.2" y="214.3" class="d"/><use href="#h" x="419.3" y="214.3" class="a"/><use href="#h" x="426.4" y="214.3" class="e"/><use href="#h" x="433.5" y="214.3" class="a"/><use href="#h" x="440.6" y="214.3" class="b"/><use href="#h" x="447.7" y="214.3" class="c"/><use href="#h" x="454.8" y="214.3" class="a"/><use href="#h" x="461.9" y="214.3" class="b"/><use href="#h" x="469.0" y="214.3" class="b"/><use href="#h" x="476.1" y="214.3" class="b"/><use href="#h" x="483.2" y="214.3" class="b"/><use href="#h" x="490.3" y="214.3" class="b"/><use href="#h" x="497.4" y="214.3" class="a"/><use href="#h" x="504.5" y="214.3" class="a"/><use href="#h" x="511.6" y="214.3" class="e"/><use href="#h" x="518.6" y="214.3" class="r"/><use href="#h" x="525.8" y="214.3" class="b"/><use href="#h" x="532.8" y="214.3" class="a"/><use href="#h" x="539.9" y="214.3" class="c"/><use href="#h" x="547.0" y="214.3" class="a"/><use href="#h" x="554.1" y="214.3" class="c"/><use href="#h" x="561.2" y="214.3" class="a"/><use href="#h" x="568.3" y="214.3" class="a"/><use href="#h" x="575.4" y="214.3" class="b"/><use href="#h" x="582.5" y="214.3" class="b"/><use href="#h" x="589.6" y="214.3" class="a"/><use href="#h" x="596.8" y="214.3" class="c"/><use href="#h" x="603.8" y="214.3" class="f"/><use href="#h" x="610.9" y="214.3" class="a"/><use href="#h" x="618.0" y="214.3" class="b"/><use href="#h" x="625.1" y="214.3" class="p"/><use href="#h" x="632.2" y="214.3" class="c"/><use href="#h" x="639.3" y="214.3" class="e"/><use href="#h" x="646.4" y="214.3" class="b"/><use href="#h" x="653.5" y="214.3" class="b"/><use href="#h" x="660.6" y="214.3" class="d"/><use href="#h" x="667.8" y="214.3" class="b"/><use href="#h" x="674.8" y="214.3" class="a"/><use href="#h" x="682.0" y="214.3" class="e"/><use href="#h" x="689.0" y="214.3" class="a"/><use href="#h" x="696.1" y="214.3" class="s"/><use href="#h" x="703.2" y="214.3" class="a"/><use href="#h" x="710.3" y="214.3" class="a"/><use href="#h" x="717.5" y="214.3" class="a"/><use href="#h" x="724.5" y="214.3" class="b"/><use href="#h" x="731.6" y="214.3" class="b"/><use href="#h" x="738.8" y="214.3" class="a"/><use href="#h" x="745.8" y="214.3" class="b"/><use href="#h" x="752.9" y="214.3" class="d"/><use href="#h" x="760.0" y="214.3" class="e"/><use href="#h" x="767.1" y="214.3" class="a"/><use href="#h" x="408.6" y="220.5" class="c"/><use href="#h" x="415.7" y="220.5" class="a"/><use href="#h" x="422.8" y="220.5" class="d"/><use href="#h" x="429.9" y="220.5" class="c"/><use href="#h" x="437.0" y="220.5" class="b"/><use href="#h" x="444.1" y="220.5" class="a"/><use href="#h" x="451.2" y="220.5" class="b"/><use href="#h" x="458.3" y="220.5" class="p"/><use href="#h" x="465.4" y="220.5" class="p"/><use href="#h" x="472.5" y="220.5" class="a"/><use href="#h" x="479.6" y="220.5" class="s"/><use href="#h" x="486.7" y="220.5" class="e"/><use href="#h" x="493.8" y="220.5" class="c"/><use href="#h" x="500.9" y="220.5" class="d"/><use href="#h" x="508.0" y="220.5" class="c"/><use href="#h" x="515.1" y="220.5" class="b"/><use href="#h" x="522.2" y="220.5" class="d"/><use href="#h" x="529.3" y="220.5" class="a"/><use href="#h" x="536.4" y="220.5" class="c"/><use href="#h" x="543.5" y="220.5" class="c"/><use href="#h" x="550.6" y="220.5" class="a"/><use href="#h" x="557.7" y="220.5" class="a"/><use href="#h" x="564.8" y="220.5" class="a"/><use href="#h" x="571.9" y="220.5" class="e"/><use href="#h" x="579.0" y="220.5" class="b"/><use href="#h" x="586.1" y="220.5" class="e"/><use href="#h" x="593.2" y="220.5" class="c"/><use href="#h" x="600.3" y="220.5" class="a"/><use href="#h" x="607.4" y="220.5" class="c"/><use href="#h" x="614.5" y="220.5" class="b"/><use href="#h" x="621.6" y="220.5" class="c"/><use href="#h" x="628.7" y="220.5" class="a"/><use href="#h" x="635.8" y="220.5" class="d"/><use href="#h" x="642.9" y="220.5" class="s"/><use href="#h" x="650.0" y="220.5" class="b"/><use href="#h" x="657.1" y="220.5" class="a"/><use href="#h" x="664.2" y="220.5" class="a"/><use href="#h" x="671.3" y="220.5" class="s"/><use href="#h" x="678.4" y="220.5" class="c"/><use href="#h" x="685.5" y="220.5" class="c"/><use href="#h" x="692.6" y="220.5" class="b"/><use href="#h" x="699.7" y="220.5" class="a"/><use href="#h" x="706.8" y="220.5" class="c"/><use href="#h" x="713.9" y="220.5" class="c"/><use href="#h" x="721.0" y="220.5" class="f"/><use href="#h" x="728.1" y="220.5" class="a"/><use href="#h" x="735.2" y="220.5" class="e"/><use href="#h" x="742.3" y="220.5" class="b"/><use href="#h" x="749.4" y="220.5" class="b"/><use href="#h" x="756.5" y="220.5" class="a"/><use href="#h" x="763.6" y="220.5" class="a"/><use href="#h" x="412.2" y="226.6" class="c"/><use href="#h" x="419.3" y="226.6" class="b"/><use href="#h" x="426.4" y="226.6" class="b"/><use href="#h" x="433.5" y="226.6" class="s"/><use href="#h" x="440.6" y="226.6" class="b"/><use href="#h" x="447.7" y="226.6" class="c"/><use href="#h" x="454.8" y="226.6" class="a"/><use href="#h" x="461.9" y="226.6" class="a"/><use href="#h" x="469.0" y="226.6" class="b"/><use href="#h" x="476.1" y="226.6" class="a"/><use href="#h" x="483.2" y="226.6" class="d"/><use href="#h" x="490.3" y="226.6" class="b"/><use href="#h" x="497.4" y="226.6" class="b"/><use href="#h" x="504.5" y="226.6" class="d"/><use href="#h" x="511.6" y="226.6" class="d"/><use href="#h" x="518.6" y="226.6" class="c"/><use href="#h" x="525.8" y="226.6" class="a"/><use href="#h" x="532.8" y="226.6" class="a"/><use href="#h" x="539.9" y="226.6" class="p"/><use href="#h" x="547.0" y="226.6" class="a"/><use href="#h" x="554.1" y="226.6" class="c"/><use href="#h" x="561.2" y="226.6" class="c"/><use href="#h" x="568.3" y="226.6" class="b"/><use href="#h" x="575.4" y="226.6" class="b"/><use href="#h" x="582.5" y="226.6" class="a"/><use href="#h" x="589.6" y="226.6" class="b"/><use href="#h" x="596.8" y="226.6" class="c"/><use href="#h" x="603.8" y="226.6" class="c"/><use href="#h" x="610.9" y="226.6" class="c"/><use href="#h" x="618.0" y="226.6" class="c"/><use href="#h" x="625.1" y="226.6" class="b"/><use href="#h" x="632.2" y="226.6" class="b"/><use href="#h" x="639.3" y="226.6" class="e"/><use href="#h" x="646.4" y="226.6" class="a"/><use href="#h" x="653.5" y="226.6" class="d"/><use href="#h" x="660.6" y="226.6" class="a"/><use href="#h" x="667.8" y="226.6" class="a"/><use href="#h" x="674.8" y="226.6" class="a"/><use href="#h" x="682.0" y="226.6" class="d"/><use href="#h" x="689.0" y="226.6" class="c"/><use href="#h" x="696.1" y="226.6" class="a"/><use href="#h" x="703.2" y="226.6" class="c"/><use href="#h" x="710.3" y="226.6" class="c"/><use href="#h" x="717.5" y="226.6" class="b"/><use href="#h" x="724.5" y="226.6" class="a"/><use href="#h" x="731.6" y="226.6" class="s"/><use href="#h" x="738.8" y="226.6" class="c"/><use href="#h" x="745.8" y="226.6" class="e"/><use href="#h" x="752.9" y="226.6" class="b"/><use href="#h" x="760.0" y="226.6" class="a"/><use href="#h" x="767.1" y="226.6" class="c"/><use href="#h" x="408.6" y="232.8" class="b"/><use href="#h" x="415.7" y="232.8" class="a"/><use href="#h" x="422.8" y="232.8" class="b"/><use href="#h" x="429.9" y="232.8" class="r"/><use href="#h" x="437.0" y="232.8" class="c"/><use href="#h" x="444.1" y="232.8" class="c"/><use href="#h" x="451.2" y="232.8" class="b"/><use href="#h" x="458.3" y="232.8" class="b"/><use href="#h" x="465.4" y="232.8" class="c"/><use href="#h" x="472.5" y="232.8" class="a"/><use href="#h" x="479.6" y="232.8" class="a"/><use href="#h" x="486.7" y="232.8" class="e"/><use href="#h" x="493.8" y="232.8" class="c"/><use href="#h" x="500.9" y="232.8" class="b"/><use href="#h" x="508.0" y="232.8" class="d"/><use href="#h" x="515.1" y="232.8" class="a"/><use href="#h" x="522.2" y="232.8" class="b"/><use href="#h" x="529.3" y="232.8" class="a"/><use href="#h" x="536.4" y="232.8" class="a"/><use href="#h" x="543.5" y="232.8" class="a"/><use href="#h" x="550.6" y="232.8" class="a"/><use href="#h" x="557.7" y="232.8" class="b"/><use href="#h" x="564.8" y="232.8" class="e"/><use href="#h" x="571.9" y="232.8" class="b"/><use href="#h" x="579.0" y="232.8" class="r"/><use href="#h" x="586.1" y="232.8" class="b"/><use href="#h" x="593.2" y="232.8" class="a"/><use href="#h" x="600.3" y="232.8" class="c"/><use href="#h" x="607.4" y="232.8" class="b"/><use href="#h" x="614.5" y="232.8" class="d"/><use href="#h" x="621.6" y="232.8" class="a"/><use href="#h" x="628.7" y="232.8" class="b"/><use href="#h" x="635.8" y="232.8" class="p"/><use href="#h" x="642.9" y="232.8" class="b"/><use href="#h" x="650.0" y="232.8" class="b"/><use href="#h" x="657.1" y="232.8" class="e"/><use href="#h" x="664.2" y="232.8" class="c"/><use href="#h" x="671.3" y="232.8" class="s"/><use href="#h" x="678.4" y="232.8" class="s"/><use href="#h" x="685.5" y="232.8" class="a"/><use href="#h" x="692.6" y="232.8" class="e"/><use href="#h" x="699.7" y="232.8" class="c"/><use href="#h" x="706.8" y="232.8" class="a"/><use href="#h" x="713.9" y="232.8" class="a"/><use href="#h" x="721.0" y="232.8" class="b"/><use href="#h" x="728.1" y="232.8" class="b"/><use href="#h" x="735.2" y="232.8" class="a"/><use href="#h" x="742.3" y="232.8" class="a"/><use href="#h" x="749.4" y="232.8" class="r"/><use href="#h" x="756.5" y="232.8" class="d"/><use href="#h" x="763.6" y="232.8" class="b"/><use href="#h" x="412.2" y="238.9" class="c"/><use href="#h" x="419.3" y="238.9" class="a"/><use href="#h" x="426.4" y="238.9" class="e"/><use href="#h" x="433.5" y="238.9" class="b"/><use href="#h" x="440.6" y="238.9" class="a"/><use href="#h" x="447.7" y="238.9" class="b"/><use href="#h" x="454.8" y="238.9" class="s"/><use href="#h" x="461.9" y="238.9" class="a"/><use href="#h" x="469.0" y="238.9" class="b"/><use href="#h" x="476.1" y="238.9" class="a"/><use href="#h" x="483.2" y="238.9" class="r"/><use href="#h" x="490.3" y="238.9" class="b"/><use href="#h" x="497.4" y="238.9" class="d"/><use href="#h" x="504.5" y="238.9" class="a"/><use href="#h" x="511.6" y="238.9" class="b"/><use href="#h" x="518.6" y="238.9" class="b"/><use href="#h" x="525.8" y="238.9" class="e"/><use href="#h" x="532.8" y="238.9" class="a"/><use href="#h" x="539.9" y="238.9" class="a"/><use href="#h" x="547.0" y="238.9" class="b"/><use href="#h" x="554.1" y="238.9" class="e"/><use href="#h" x="561.2" y="238.9" class="b"/><use href="#h" x="568.3" y="238.9" class="e"/><use href="#h" x="575.4" y="238.9" class="b"/><use href="#h" x="582.5" y="238.9" class="c"/><use href="#h" x="589.6" y="238.9" class="b"/><use href="#h" x="596.8" y="238.9" class="a"/><use href="#h" x="603.8" y="238.9" class="b"/><use href="#h" x="610.9" y="238.9" class="c"/><use href="#h" x="618.0" y="238.9" class="b"/><use href="#h" x="625.1" y="238.9" class="s"/><use href="#h" x="632.2" y="238.9" class="c"/>
<path d="M30.4 273.6L34.0 275.7M30.4 281.8L26.9 279.7M26.9 279.7L26.9 275.7M26.9 275.7L30.4 273.6M37.5 273.6L41.1 275.7M34.0 275.7L37.5 273.6M44.6 273.6L48.2 275.7M41.1 275.7L44.6 273.6M51.8 273.6L55.3 275.7M48.2 275.7L51.8 273.6M58.8 273.6L62.4 275.7M55.3 275.7L58.8 273.6M66.0 273.6L69.5 275.7M62.4 275.7L66.0 273.6M73.0 273.6L76.6 275.7M69.5 275.7L73.0 273.6M80.1 273.6L83.7 275.7M76.6 275.7L80.1 273.6M87.2 273.6L90.8 275.7M83.7 275.7L87.2 273.6M94.3 273.6L97.9 275.7M90.8 275.7L94.3 273.6M101.5 273.6L105.0 275.7M97.9 275.7L101.5 273.6M108.5 273.6L112.1 275.7M105.0 275.7L108.5 273.6M115.6 273.6L119.2 275.7M112.1 275.7L115.6 273.6M122.8 273.6L126.3 275.7M119.2 275.7L122.8 273.6M129.8 273.6L133.4 275.7M126.3 275.7L129.8 273.6M136.9 273.6L140.5 275.7M133.4 275.7L136.9 273.6M144.0 273.6L147.6 275.7M140.5 275.7L144.0 273.6M151.1 273.6L154.7 275.7M147.6 275.7L151.1 273.6M158.2 273.6L161.8 275.7M154.7 275.7L158.2 273.6M165.3 273.6L168.9 275.7M161.8 275.7L165.3 273.6M172.4 273.6L176.0 275.7M168.9 275.7L172.4 273.6M179.5 273.6L183.1 275.7M176.0 275.7L179.5 273.6M186.6 273.6L190.2 275.7M183.1 275.7L186.6 273.6M193.7 273.6L197.3 275.7M190.2 275.7L193.7 273.6M200.8 273.6L204.4 275.7M197.3 275.7L200.8 273.6M207.9 273.6L211.5 275.7M204.4 275.7L207.9 273.6M215.0 273.6L218.6 275.7M211.5 275.7L215.0 273.6M222.1 273.6L225.7 275.7M218.6 275.7L222.1 273.6M229.2 273.6L232.8 275.7M225.7 275.7L229.2 273.6M236.3 273.6L239.9 275.7M232.8 275.7L236.3 273.6M243.4 273.6L247.0 275.7M239.9 275.7L243.4 273.6M250.5 273.6L254.1 275.7M247.0 275.7L250.5 273.6M257.6 273.6L261.2 275.7M254.1 275.7L257.6 273.6M264.8 273.6L268.3 275.7M261.2 275.7L264.8 273.6M271.8 273.6L275.4 275.7M268.3 275.7L271.8 273.6M278.9 273.6L282.5 275.7M275.4 275.7L278.9 273.6M286.1 273.6L289.6 275.7M282.5 275.7L286.1 273.6M293.1 273.6L296.7 275.7M289.6 275.7L293.1 273.6M300.2 273.6L303.8 275.7M296.7 275.7L300.2 273.6M307.3 273.6L310.9 275.7M303.8 275.7L307.3 273.6M314.4 273.6L318.0 275.7M310.9 275.7L314.4 273.6M321.5 273.6L325.1 275.7M318.0 275.7L321.5 273.6M328.6 273.6L332.2 275.7M325.1 275.7L328.6 273.6M335.8 273.6L339.3 275.7M332.2 275.7L335.8 273.6M342.8 273.6L346.4 275.7M339.3 275.7L342.8 273.6M349.9 273.6L353.5 275.7M346.4 275.7L349.9 273.6M357.0 273.6L360.6 275.7M353.5 275.7L357.0 273.6M364.1 273.6L367.7 275.7M360.6 275.7L364.1 273.6M371.2 273.6L374.8 275.7M367.7 275.7L371.2 273.6M378.3 273.6L381.9 275.7M381.9 275.7L381.9 279.7M374.8 275.7L378.3 273.6M30.4 285.9L30.4 281.8M381.9 279.7L385.4 281.8M385.4 281.8L385.4 285.9M385.4 285.9L381.9 287.9M30.4 294.1L26.9 292.0M26.9 292.0L26.9 287.9M26.9 287.9L30.4 285.9M381.9 287.9L381.9 292.0M30.4 298.2L30.4 294.1M381.9 292.0L385.4 294.1M385.4 294.1L385.4 298.2M385.4 298.2L381.9 300.2M30.4 306.4L26.9 304.3M26.9 304.3L26.9 300.2M26.9 300.2L30.4 298.2M381.9 300.2L381.9 304.3M30.4 310.5L30.4 306.4M381.9 304.3L385.4 306.4M385.4 306.4L385.4 310.5M385.4 310.5L381.9 312.5M30.4 318.7L26.9 316.6M26.9 316.6L26.9 312.5M26.9 312.5L30.4 310.5M381.9 312.5L381.9 316.6M30.4 322.8L30.4 318.7M381.9 316.6L385.4 318.7M385.4 318.7L385.4 322.8M385.4 322.8L381.9 324.8M30.4 331.0L26.9 328.9M26.9 328.9L26.9 324.8M26.9 324.8L30.4 322.8M381.9 324.8L381.9 328.9M30.4 335.1L30.4 331.0M381.9 328.9L385.4 331.0M385.4 331.0L385.4 335.1M385.4 335.1L381.9 337.1M30.4 343.3L26.9 341.2M26.9 341.2L26.9 337.1M26.9 337.1L30.4 335.1M381.9 337.1L381.9 341.2M30.4 347.4L30.4 343.3M381.9 341.2L385.4 343.3M385.4 343.3L385.4 347.4M385.4 347.4L381.9 349.4M30.4 355.6L26.9 353.5M26.9 353.5L26.9 349.4M26.9 349.4L30.4 347.4M381.9 349.4L381.9 353.5M30.4 359.7L30.4 355.6M381.9 353.5L385.4 355.6M385.4 355.6L385.4 359.7M385.4 359.7L381.9 361.7M30.4 367.9L26.9 365.8M26.9 365.8L26.9 361.7M26.9 361.7L30.4 359.7M381.9 361.7L381.9 365.8M30.4 372.0L30.4 367.9M381.9 365.8L385.4 367.9M385.4 367.9L385.4 372.0M385.4 372.0L381.9 374.0M30.4 380.2L26.9 378.1M26.9 378.1L26.9 374.0M26.9 374.0L30.4 372.0M381.9 374.0L381.9 378.1M30.4 384.3L30.4 380.2M381.9 378.1L385.4 380.2M385.4 380.2L385.4 384.3M385.4 384.3L381.9 386.3M30.4 392.5L26.9 390.4M26.9 390.4L26.9 386.3M26.9 386.3L30.4 384.3M381.9 386.3L381.9 390.4M30.4 396.6L30.4 392.5M381.9 390.4L385.4 392.5M385.4 392.5L385.4 396.6M385.4 396.6L381.9 398.6M30.4 404.8L26.9 402.7M26.9 402.7L26.9 398.6M26.9 398.6L30.4 396.6M381.9 398.6L381.9 402.7M30.4 408.9L30.4 404.8M381.9 402.7L385.4 404.8M385.4 404.8L385.4 408.9M385.4 408.9L381.9 410.9M30.4 417.1L26.9 415.0M26.9 415.0L26.9 410.9M26.9 410.9L30.4 408.9M381.9 410.9L381.9 415.0M30.4 421.2L30.4 417.1M381.9 415.0L385.4 417.1M385.4 417.1L385.4 421.2M385.4 421.2L381.9 423.2M30.4 429.4L26.9 427.3M26.9 427.3L26.9 423.2M26.9 423.2L30.4 421.2M381.9 423.2L381.9 427.3M30.4 433.5L30.4 429.4M381.9 427.3L385.4 429.4M385.4 429.4L385.4 433.5M385.4 433.5L381.9 435.5M30.4 441.7L26.9 439.6M26.9 439.6L26.9 435.5M26.9 435.5L30.4 433.5M381.9 435.5L381.9 439.6M30.4 445.8L30.4 441.7M381.9 439.6L385.4 441.7M385.4 441.7L385.4 445.8M385.4 445.8L381.9 447.8M30.4 454.0L26.9 451.9M26.9 451.9L26.9 447.8M26.9 447.8L30.4 445.8M268.3 451.9L264.8 454.0M275.4 451.9L271.8 454.0M271.8 454.0L268.3 451.9M282.5 451.9L278.9 454.0M278.9 454.0L275.4 451.9M289.6 451.9L286.1 454.0M286.1 454.0L282.5 451.9M296.7 451.9L293.1 454.0M293.1 454.0L289.6 451.9M303.8 451.9L300.2 454.0M300.2 454.0L296.7 451.9M310.9 451.9L307.3 454.0M307.3 454.0L303.8 451.9M318.0 451.9L314.4 454.0M314.4 454.0L310.9 451.9M325.1 451.9L321.5 454.0M321.5 454.0L318.0 451.9M332.2 451.9L328.6 454.0M328.6 454.0L325.1 451.9M339.3 451.9L335.8 454.0M335.8 454.0L332.2 451.9M346.4 451.9L342.8 454.0M342.8 454.0L339.3 451.9M353.5 451.9L349.9 454.0M349.9 454.0L346.4 451.9M360.6 451.9L357.0 454.0M357.0 454.0L353.5 451.9M367.7 451.9L364.1 454.0M364.1 454.0L360.6 451.9M374.8 451.9L371.2 454.0M371.2 454.0L367.7 451.9M381.9 447.8L381.9 451.9M381.9 451.9L378.3 454.0M378.3 454.0L374.8 451.9M37.5 458.1L34.0 460.1M34.0 460.1L30.4 458.1M30.4 458.1L30.4 454.0M44.6 458.1L41.1 460.1M41.1 460.1L37.5 458.1M51.7 458.1L48.2 460.1M48.2 460.1L44.6 458.1M58.8 458.1L55.3 460.1M55.3 460.1L51.8 458.1M65.9 458.1L62.4 460.1M62.4 460.1L58.8 458.1M73.0 458.1L69.5 460.1M69.5 460.1L66.0 458.1M80.1 458.1L76.6 460.1M76.6 460.1L73.0 458.1M87.2 458.1L83.7 460.1M83.7 460.1L80.1 458.1M94.3 458.1L90.8 460.1M90.8 460.1L87.2 458.1M101.4 458.1L97.9 460.1M97.9 460.1L94.3 458.1M108.5 458.1L105.0 460.1M105.0 460.1L101.5 458.1M115.6 458.1L112.1 460.1M112.1 460.1L108.5 458.1M122.7 458.1L119.2 460.1M119.2 460.1L115.6 458.1M129.8 458.1L126.3 460.1M126.3 460.1L122.8 458.1M137.0 458.1L133.4 460.1M133.4 460.1L129.8 458.1M144.1 458.1L140.5 460.1M140.5 460.1L136.9 458.1M151.2 458.1L147.6 460.1M147.6 460.1L144.0 458.1M158.2 458.1L154.7 460.1M154.7 460.1L151.1 458.1M165.4 458.1L161.8 460.1M161.8 460.1L158.2 458.1M172.5 458.1L168.9 460.1M168.9 460.1L165.3 458.1M179.6 458.1L176.0 460.1M176.0 460.1L172.4 458.1M186.7 458.1L183.1 460.1M183.1 460.1L179.5 458.1M193.8 458.1L190.2 460.1M190.2 460.1L186.6 458.1M200.8 458.1L197.3 460.1M197.3 460.1L193.7 458.1M207.9 458.1L204.4 460.1M204.4 460.1L200.8 458.1M215.1 458.1L211.5 460.1M211.5 460.1L207.9 458.1M222.2 458.1L218.6 460.1M218.6 460.1L215.0 458.1M229.2 458.1L225.7 460.1M225.7 460.1L222.1 458.1M236.3 458.1L232.8 460.1M232.8 460.1L229.2 458.1M243.4 458.1L239.9 460.1M239.9 460.1L236.3 458.1M250.6 458.1L247.0 460.1M247.0 460.1L243.4 458.1M257.6 458.1L254.1 460.1M254.1 460.1L250.5 458.1M264.8 454.0L264.8 458.1M264.8 458.1L261.2 460.1M261.2 460.1L257.6 458.1" class="o"/>
<use href="#h" x="30.4" y="277.7" class="r"/><use href="#h" x="37.5" y="277.7" class="c"/><use href="#h" x="44.6" y="277.7" class="e"/><use href="#h" x="51.8" y="277.7" class="a"/><use href="#h" x="58.8" y="277.7" class="c"/><use href="#h" x="66.0" y="277.7" class="e"/><use href="#h" x="73.0" y="277.7" class="b"/><use href="#h" x="80.1" y="277.7" class="c"/><use href="#h" x="87.2" y="277.7" class="b"/><use href="#h" x="94.3" y="277.7" class="a"/><use href="#h" x="101.5" y="277.7" class="e"/><use href="#h" x="108.5" y="277.7" class="d"/><use href="#h" x="115.6" y="277.7" class="e"/><use href="#h" x="122.8" y="277.7" class="a"/><use href="#h" x="129.8" y="277.7" class="c"/><use href="#h" x="136.9" y="277.7" class="c"/><use href="#h" x="144.0" y="277.7" class="a"/><use href="#h" x="151.1" y="277.7" class="c"/><use href="#h" x="158.2" y="277.7" class="e"/><use href="#h" x="165.3" y="277.7" class="b"/><use href="#h" x="172.4" y="277.7" class="f"/><use href="#h" x="179.5" y="277.7" class="a"/><use href="#h" x="186.6" y="277.7" class="a"/><use href="#h" x="193.7" y="277.7" class="d"/><use href="#h" x="200.8" y="277.7" class="b"/><use href="#h" x="207.9" y="277.7" class="b"/><use href="#h" x="215.0" y="277.7" class="b"/><use href="#h" x="222.1" y="277.7" class="a"/><use href="#h" x="229.2" y="277.7" class="c"/><use href="#h" x="236.3" y="277.7" class="c"/><use href="#h" x="243.4" y="277.7" class="r"/><use href="#h" x="250.5" y="277.7" class="c"/><use href="#h" x="257.6" y="277.7" class="a"/><use href="#h" x="264.8" y="277.7" class="a"/><use href="#h" x="271.8" y="277.7" class="a"/><use href="#h" x="278.9" y="277.7" class="c"/><use href="#h" x="286.1" y="277.7" class="b"/><use href="#h" x="293.1" y="277.7" class="b"/><use href="#h" x="300.2" y="277.7" class="e"/><use href="#h" x="307.3" y="277.7" class="s"/><use href="#h" x="314.4" y="277.7" class="b"/><use href="#h" x="321.5" y="277.7" class="a"/><use href="#h" x="328.6" y="277.7" class="e"/><use href="#h" x="335.8" y="277.7" class="r"/><use href="#h" x="342.8" y="277.7" class="c"/><use href="#h" x="349.9" y="277.7" class="b"/><use href="#h" x="357.0" y="277.7" class="b"/><use href="#h" x="364.1" y="277.7" class="c"/><use href="#h" x="371.2" y="277.7" class="a"/><use href="#h" x="378.3" y="277.7" class="e"/><use href="#h" x="34.0" y="283.8" class="b"/><use href="#h" x="41.1" y="283.8" class="b"/><use href="#h" x="48.2" y="283.8" class="a"/><use href="#h" x="55.3" y="283.8" class="e"/><use href="#h" x="62.4" y="283.8" class="c"/><use href="#h" x="69.5" y="283.8" class="a"/><use href="#h" x="76.6" y="283.8" class="c"/><use href="#h" x="83.7" y="283.8" class="a"/><use href="#h" x="90.8" y="283.8" class="e"/><use href="#h" x="97.9" y="283.8" class="b"/><use href="#h" x="105.0" y="283.8" class="b"/><use href="#h" x="112.1" y="283.8" class="b"/><use href="#h" x="119.2" y="283.8" class="b"/><use href="#h" x="126.3" y="283.8" class="a"/><use href="#h" x="133.4" y="283.8" class="b"/><use href="#h" x="140.5" y="283.8" class="c"/><use href="#h" x="147.6" y="283.8" class="a"/><use href="#h" x="154.7" y="283.8" class="b"/><use href="#h" x="161.8" y="283.8" class="c"/><use href="#h" x="168.9" y="283.8" class="e"/><use href="#h" x="176.0" y="283.8" class="a"/><use href="#h" x="183.1" y="283.8" class="c"/><use href="#h" x="190.2" y="283.8" class="c"/><use href="#h" x="197.3" y="283.8" class="s"/><use href="#h" x="204.4" y="283.8" class="a"/><use href="#h" x="211.5" y="283.8" class="a"/><use href="#h" x="218.6" y="283.8" class="a"/><use href="#h" x="225.7" y="283.8" class="a"/><use href="#h" x="232.8" y="283.8" class="a"/><use href="#h" x="239.9" y="283.8" class="b"/><use href="#h" x="247.0" y="283.8" class="e"/><use href="#h" x="254.1" y="283.8" class="e"/><use href="#h" x="261.2" y="283.8" class="a"/><use href="#h" x="268.3" y="283.8" class="a"/><use href="#h" x="275.4" y="283.8" class="b"/><use href="#h" x="282.5" y="283.8" class="e"/><use href="#h" x="289.6" y="283.8" class="s"/><use href="#h" x="296.7" y="283.8" class="b"/><use href="#h" x="303.8" y="283.8" class="c"/><use href="#h" x="310.9" y="283.8" class="c"/><use href="#h" x="318.0" y="283.8" class="e"/><use href="#h" x="325.1" y="283.8" class="a"/><use href="#h" x="332.2" y="283.8" class="a"/><use href="#h" x="339.3" y="283.8" class="a"/><use href="#h" x="346.4" y="283.8" class="a"/><use href="#h" x="353.5" y="283.8" class="a"/><use href="#h" x="360.6" y="283.8" class="c"/><use href="#h" x="367.7" y="283.8" class="s"/><use href="#h" x="374.8" y="283.8" class="c"/><use href="#h" x="381.9" y="283.8" class="d"/><use href="#h" x="30.4" y="290.0" class="b"/><use href="#h" x="37.5" y="290.0" class="a"/><use href="#h" x="44.6" y="290.0" class="f"/><use href="#h" x="51.8" y="290.0" class="c"/><use href="#h" x="58.8" y="290.0" class="a"/><use href="#h" x="66.0" y="290.0" class="b"/><use href="#h" x="73.0" y="290.0" class="c"/><use href="#h" x="80.1" y="290.0" class="a"/><use href="#h" x="87.2" y="290.0" class="c"/><use href="#h" x="94.3" y="290.0" class="a"/><use href="#h" x="101.5" y="290.0" class="d"/><use href="#h" x="108.5" y="290.0" class="a"/><use href="#h" x="115.6" y="290.0" class="c"/><use href="#h" x="122.8" y="290.0" class="f"/><use href="#h" x="129.8" y="290.0" class="b"/><use href="#h" x="136.9" y="290.0" class="a"/><use href="#h" x="144.0" y="290.0" class="b"/><use href="#h" x="151.1" y="290.0" class="b"/><use href="#h" x="158.2" y="290.0" class="e"/><use href="#h" x="165.3" y="290.0" class="b"/><use href="#h" x="172.4" y="290.0" class="a"/><use href="#h" x="179.5" y="290.0" class="b"/><use href="#h" x="186.6" y="290.0" class="a"/><use href="#h" x="193.7" y="290.0" class="e"/><use href="#h" x="200.8" y="290.0" class="d"/><use href="#h" x="207.9" y="290.0" class="b"/><use href="#h" x="215.0" y="290.0" class="b"/><use href="#h" x="222.1" y="290.0" class="a"/><use href="#h" x="229.2" y="290.0" class="d"/><use href="#h" x="236.3" y="290.0" class="a"/><use href="#h" x="243.4" y="290.0" class="b"/><use href="#h" x="250.5" y="290.0" class="c"/><use href="#h" x="257.6" y="290.0" class="b"/><use href="#h" x="264.8" y="290.0" class="e"/><use href="#h" x="271.8" y="290.0" class="e"/><use href="#h" x="278.9" y="290.0" class="r"/><use href="#h" x="286.1" y="290.0" class="c"/><use href="#h" x="293.1" y="290.0" class="e"/><use href="#h" x="300.2" y="290.0" class="a"/><use href="#h" x="307.3" y="290.0" class="a"/><use href="#h" x="314.4" y="290.0" class="a"/><use href="#h" x="321.5" y="290.0" class="b"/><use href="#h" x="328.6" y="290.0" class="c"/><use href="#h" x="335.8" y="290.0" class="a"/><use href="#h" x="342.8" y="290.0" class="b"/><use href="#h" x="349.9" y="290.0" class="r"/><use href="#h" x="357.0" y="290.0" class="c"/><use href="#h" x="364.1" y="290.0" class="a"/><use href="#h" x="371.2" y="290.0" class="a"/><use href="#h" x="378.3" y="290.0" class="b"/><use href="#h" x="34.0" y="296.1" class="e"/><use href="#h" x="41.1" y="296.1" class="a"/><use href="#h" x="48.2" y="296.1" class="b"/><use href="#h" x="55.3" y="296.1" class="r"/><use href="#h" x="62.4" y="296.1" class="a"/><use href="#h" x="69.5" y="296.1" class="e"/><use href="#h" x="76.6" y="296.1" class="a"/><use href="#h" x="83.7" y="296.1" class="b"/><use href="#h" x="90.8" y="296.1" class="a"/><use href="#h" x="97.9" y="296.1" class="c"/><use href="#h" x="105.0" y="296.1" class="b"/><use href="#h" x="112.1" y="296.1" class="p"/><use href="#h" x="119.2" y="296.1" class="a"/><use href="#h" x="126.3" y="296.1" class="s"/><use href="#h" x="133.4" y="296.1" class="a"/><use href="#h" x="140.5" y="296.1" class="b"/><use href="#h" x="147.6" y="296.1" class="b"/><use href="#h" x="154.7" y="296.1" class="c"/><use href="#h" x="161.8" y="296.1" class="b"/><use href="#h" x="168.9" y="296.1" class="b"/><use href="#h" x="176.0" y="296.1" class="c"/><use href="#h" x="183.1" y="296.1" class="a"/><use href="#h" x="190.2" y="296.1" class="d"/><use href="#h" x="197.3" y="296.1" class="c"/><use href="#h" x="204.4" y="296.1" class="p"/><use href="#h" x="211.5" y="296.1" class="r"/><use href="#h" x="218.6" y="296.1" class="d"/><use href="#h" x="225.7" y="296.1" class="f"/><use href="#h" x="232.8" y="296.1" class="d"/><use href="#h" x="239.9" y="296.1" class="a"/><use href="#h" x="247.0" y="296.1" class="c"/><use href="#h" x="254.1" y="296.1" class="b"/><use href="#h" x="261.2" y="296.1" class="e"/><use href="#h" x="268.3" y="296.1" class="a"/><use href="#h" x="275.4" y="296.1" class="d"/><use href="#h" x="282.5" y="296.1" class="b"/><use href="#h" x="289.6" y="296.1" class="c"/><use href="#h" x="296.7" y="296.1" class="b"/><use href="#h" x="303.8" y="296.1" class="a"/><use href="#h" x="310.9" y="296.1" class="c"/><use href="#h" x="318.0" y="296.1" class="a"/><use href="#h" x="325.1" y="296.1" class="e"/><use href="#h" x="332.2" y="296.1" class="a"/><use href="#h" x="339.3" y="296.1" class="b"/><use href="#h" x="346.4" y="296.1" class="a"/><use href="#h" x="353.5" y="296.1" class="b"/><use href="#h" x="360.6" y="296.1" class="c"/><use href="#h" x="367.7" y="296.1" class="a"/><use href="#h" x="374.8" y="296.1" class="b"/><use href="#h" x="381.9" y="296.1" class="a"/><use href="#h" x="30.4" y="302.3" class="a"/><use href="#h" x="37.5" y="302.3" class="e"/><use href="#h" x="44.6" y="302.3" class="b"/><use href="#h" x="51.8" y="302.3" class="a"/><use href="#h" x="58.8" y="302.3" class="b"/><use href="#h" x="66.0" y="302.3" class="b"/><use href="#h" x="73.0" y="302.3" class="e"/><use href="#h" x="80.1" y="302.3" class="e"/><use href="#h" x="87.2" y="302.3" class="a"/><use href="#h" x="94.3" y="302.3" class="c"/><use href="#h" x="101.5" y="302.3" class="b"/><use href="#h" x="108.5" y="302.3" class="p"/><use href="#h" x="115.6" y="302.3" class="a"/><use href="#h" x="122.8" y="302.3" class="d"/><use href="#h" x="129.8" y="302.3" class="a"/><use href="#h" x="136.9" y="302.3" class="a"/><use href="#h" x="144.0" y="302.3" class="a"/><use href="#h" x="151.1" y="302.3" class="a"/><use href="#h" x="158.2" y="302.3" class="c"/><use href="#h" x="165.3" y="302.3" class="b"/><use href="#h" x="172.4" y="302.3" class="p"/><use href="#h" x="179.5" y="302.3" class="s"/><use href="#h" x="186.6" y="302.3" class="b"/><use href="#h" x="193.7" y="302.3" class="e"/><use href="#h" x="200.8" y="302.3" class="a"/><use href="#h" x="207.9" y="302.3" class="f"/><use href="#h" x="215.0" y="302.3" class="a"/><use href="#h" x="222.1" y="302.3" class="d"/><use href="#h" x="229.2" y="302.3" class="e"/><use href="#h" x="236.3" y="302.3" class="b"/><use href="#h" x="243.4" y="302.3" class="d"/><use href="#h" x="250.5" y="302.3" class="c"/><use href="#h" x="257.6" y="302.3" class="a"/><use href="#h" x="264.8" y="302.3" class="c"/><use href="#h" x="271.8" y="302.3" class="a"/><use href="#h" x="278.9" y="302.3" class="e"/><use href="#h" x="286.1" y="302.3" class="c"/><use href="#h" x="293.1" y="302.3" class="c"/><use href="#h" x="300.2" y="302.3" class="c"/><use href="#h" x="307.3" y="302.3" class="b"/><use href="#h" x="314.4" y="302.3" class="c"/><use href="#h" x="321.5" y="302.3" class="s"/><use href="#h" x="328.6" y="302.3" class="a"/><use href="#h" x="335.8" y="302.3" class="b"/><use href="#h" x="342.8" y="302.3" class="a"/><use href="#h" x="349.9" y="302.3" class="b"/><use href="#h" x="357.0" y="302.3" class="a"/><use href="#h" x="364.1" y="302.3" class="e"/><use href="#h" x="371.2" y="302.3" class="c"/><use href="#h" x="378.3" y="302.3" class="b"/><use href="#h" x="34.0" y="308.4" class="s"/><use href="#h" x="41.1" y="308.4" class="f"/><use href="#h" x="48.2" y="308.4" class="a"/><use href="#h" x="55.3" y="308.4" class="s"/><use href="#h" x="62.4" y="308.4" class="e"/><use href="#h" x="69.5" y="308.4" class="b"/><use href="#h" x="76.6" y="308.4" class="b"/><use href="#h" x="83.7" y="308.4" class="b"/><use href="#h" x="90.8" y="308.4" class="b"/><use href="#h" x="97.9" y="308.4" class="a"/><use href="#h" x="105.0" y="308.4" class="b"/><use href="#h" x="112.1" y="308.4" class="d"/><use href="#h" x="119.2" y="308.4" class="a"/><use href="#h" x="126.3" y="308.4" class="a"/><use href="#h" x="133.4" y="308.4" class="a"/><use href="#h" x="140.5" y="308.4" class="a"/><use href="#h" x="147.6" y="308.4" class="a"/><use href="#h" x="154.7" y="308.4" class="r"/><use href="#h" x="161.8" y="308.4" class="f"/><use href="#h" x="168.9" y="308.4" class="b"/><use href="#h" x="176.0" y="308.4" class="c"/><use href="#h" x="183.1" y="308.4" class="c"/><use href="#h" x="190.2" y="308.4" class="r"/><use href="#h" x="197.3" y="308.4" class="d"/><use href="#h" x="204.4" y="308.4" class="e"/><use href="#h" x="211.5" y="308.4" class="c"/><use href="#h" x="218.6" y="308.4" class="b"/><use href="#h" x="225.7" y="308.4" class="e"/><use href="#h" x="232.8" y="308.4" class="b"/><use href="#h" x="239.9" y="308.4" class="a"/><use href="#h" x="247.0" y="308.4" class="b"/><use href="#h" x="254.1" y="308.4" class="a"/><use href="#h" x="261.2" y="308.4" class="b"/><use href="#h" x="268.3" y="308.4" class="e"/><use href="#h" x="275.4" y="308.4" class="e"/><use href="#h" x="282.5" y="308.4" class="a"/><use href="#h" x="289.6" y="308.4" class="b"/><use href="#h" x="296.7" y="308.4" class="p"/><use href="#h" x="303.8" y="308.4" class="b"/><use href="#h" x="310.9" y="308.4" class="b"/><use href="#h" x="318.0" y="308.4" class="e"/><use href="#h" x="325.1" y="308.4" class="b"/><use href="#h" x="332.2" y="308.4" class="a"/><use href="#h" x="339.3" y="308.4" class="c"/><use href="#h" x="346.4" y="308.4" class="c"/><use href="#h" x="353.5" y="308.4" class="p"/><use href="#h" x="360.6" y="308.4" class="b"/><use href="#h" x="367.7" y="308.4" class="a"/><use href="#h" x="374.8" y="308.4" class="b"/><use href="#h" x="381.9" y="308.4" class="e"/><use href="#h" x="30.4" y="314.6" class="r"/><use href="#h" x="37.5" y="314.6" class="d"/><use href="#h" x="44.6" y="314.6" class="e"/><use href="#h" x="51.8" y="314.6" class="c"/><use href="#h" x="58.8" y="314.6" class="d"/><use href="#h" x="66.0" y="314.6" class="a"/><use href="#h" x="73.0" y="314.6" class="r"/><use href="#h" x="80.1" y="314.6" class="b"/><use href="#h" x="87.2" y="314.6" class="e"/><use href="#h" x="94.3" y="314.6" class="b"/><use href="#h" x="101.5" y="314.6" class="a"/><use href="#h" x="108.5" y="314.6" class="c"/><use href="#h" x="115.6" y="314.6" class="a"/><use href="#h" x="122.8" y="314.6" class="s"/><use href="#h" x="129.8" y="314.6" class="b"/><use href="#h" x="136.9" y="314.6" class="c"/><use href="#h" x="144.0" y="314.6" class="d"/><use href="#h" x="151.1" y="314.6" class="a"/><use href="#h" x="158.2" y="314.6" class="a"/><use href="#h" x="165.3" y="314.6" class="s"/><use href="#h" x="172.4" y="314.6" class="b"/><use href="#h" x="179.5" y="314.6" class="d"/><use href="#h" x="186.6" y="314.6" class="a"/><use href="#h" x="193.7" y="314.6" class="c"/><use href="#h" x="200.8" y="314.6" class="b"/><use href="#h" x="207.9" y="314.6" class="b"/><use href="#h" x="215.0" y="314.6" class="d"/><use href="#h" x="222.1" y="314.6" class="e"/><use href="#h" x="229.2" y="314.6" class="a"/><use href="#h" x="236.3" y="314.6" class="a"/><use href="#h" x="243.4" y="314.6" class="a"/><use href="#h" x="250.5" y="314.6" class="a"/><use href="#h" x="257.6" y="314.6" class="a"/><use href="#h" x="264.8" y="314.6" class="c"/><use href="#h" x="271.8" y="314.6" class="b"/><use href="#h" x="278.9" y="314.6" class="a"/><use href="#h" x="286.1" y="314.6" class="c"/><use href="#h" x="293.1" y="314.6" class="b"/><use href="#h" x="300.2" y="314.6" class="a"/><use href="#h" x="307.3" y="314.6" class="c"/><use href="#h" x="314.4" y="314.6" class="c"/><use href="#h" x="321.5" y="314.6" class="a"/><use href="#h" x="328.6" y="314.6" class="d"/><use href="#h" x="335.8" y="314.6" class="d"/><use href="#h" x="342.8" y="314.6" class="c"/><use href="#h" x="349.9" y="314.6" class="a"/><use href="#h" x="357.0" y="314.6" class="a"/><use href="#h" x="364.1" y="314.6" class="c"/><use href="#h" x="371.2" y="314.6" class="e"/><use href="#h" x="378.3" y="314.6" class="c"/><use href="#h" x="34.0" y="320.7" class="c"/><use href="#h" x="41.1" y="320.7" class="c"/><use href="#h" x="48.2" y="320.7" class="c"/><use href="#h" x="55.3" y="320.7" class="b"/><use href="#h" x="62.4" y="320.7" class="c"/><use href="#h" x="69.5" y="320.7" class="a"/><use href="#h" x="76.6" y="320.7" class="b"/><use href="#h" x="83.7" y="320.7" class="e"/><use href="#h" x="90.8" y="320.7" class="a"/><use href="#h" x="97.9" y="320.7" class="a"/><use href="#h" x="105.0" y="320.7" class="f"/><use href="#h" x="112.1" y="320.7" class="c"/><use href="#h" x="119.2" y="320.7" class="a"/><use href="#h" x="126.3" y="320.7" class="d"/><use href="#h" x="133.4" y="320.7" class="a"/><use href="#h" x="140.5" y="320.7" class="e"/><use href="#h" x="147.6" y="320.7" class="a"/><use href="#h" x="154.7" y="320.7" class="c"/><use href="#h" x="161.8" y="320.7" class="b"/><use href="#h" x="168.9" y="320.7" class="e"/><use href="#h" x="176.0" y="320.7" class="b"/><use href="#h" x="183.1" y="320.7" class="b"/><use href="#h" x="190.2" y="320.7" class="d"/><use href="#h" x="197.3" y="320.7" class="d"/><use href="#h" x="204.4" y="320.7" class="e"/><use href="#h" x="211.5" y="320.7" class="b"/><use href="#h" x="218.6" y="320.7" class="e"/><use href="#h" x="225.7" y="320.7" class="b"/><use href="#h" x="232.8" y="320.7" class="c"/><use href="#h" x="239.9" y="320.7" class="a"/><use href="#h" x="247.0" y="320.7" class="p"/><use href="#h" x="254.1" y="320.7" class="a"/><use href="#h" x="261.2" y="320.7" class="a"/><use href="#h" x="268.3" y="320.7" class="b"/><use href="#h" x="275.4" y="320.7" class="c"/><use href="#h" x="282.5" y="320.7" class="s"/><use href="#h" x="289.6" y="320.7" class="e"/><use href="#h" x="296.7" y="320.7" class="a"/><use href="#h" x="303.8" y="320.7" class="b"/><use href="#h" x="310.9" y="320.7" class="s"/><use href="#h" x="318.0" y="320.7" class="d"/><use href="#h" x="325.1" y="320.7" class="b"/><use href="#h" x="332.2" y="320.7" class="e"/><use href="#h" x="339.3" y="320.7" class="b"/><use href="#h" x="346.4" y="320.7" class="c"/><use href="#h" x="353.5" y="320.7" class="e"/><use href="#h" x="360.6" y="320.7" class="c"/><use href="#h" x="367.7" y="320.7" class="b"/><use href="#h" x="374.8" y="320.7" class="a"/><use href="#h" x="381.9" y="320.7" class="b"/><use href="#h" x="30.4" y="326.9" class="a"/><use href="#h" x="37.5" y="326.9" class="d"/><use href="#h" x="44.6" y="326.9" class="b"/><use href="#h" x="51.8" y="326.9" class="b"/><use href="#h" x="58.8" y="326.9" class="b"/><use href="#h" x="66.0" y="326.9" class="a"/><use href="#h" x="73.0" y="326.9" class="a"/><use href="#h" x="80.1" y="326.9" class="b"/><use href="#h" x="87.2" y="326.9" class="b"/><use href="#h" x="94.3" y="326.9" class="d"/><use href="#h" x="101.5" y="326.9" class="b"/><use href="#h" x="108.5" y="326.9" class="a"/><use href="#h" x="115.6" y="326.9" class="a"/><use href="#h" x="122.8" y="326.9" class="a"/><use href="#h" x="129.8" y="326.9" class="a"/><use href="#h" x="136.9" y="326.9" class="c"/><use href="#h" x="144.0" y="326.9" class="c"/><use href="#h" x="151.1" y="326.9" class="s"/><use href="#h" x="158.2" y="326.9" class="s"/><use href="#h" x="165.3" y="326.9" class="a"/><use href="#h" x="172.4" y="326.9" class="c"/><use href="#h" x="179.5" y="326.9" class="b"/><use href="#h" x="186.6" y="326.9" class="e"/><use href="#h" x="193.7" y="326.9" class="e"/><use href="#h" x="200.8" y="326.9" class="p"/><use href="#h" x="207.9" y="326.9" class="b"/><use href="#h" x="215.0" y="326.9" class="b"/><use href="#h" x="222.1" y="326.9" class="a"/><use href="#h" x="229.2" y="326.9" class="a"/><use href="#h" x="236.3" y="326.9" class="b"/><use href="#h" x="243.4" y="326.9" class="c"/><use href="#h" x="250.5" y="326.9" class="b"/><use href="#h" x="257.6" y="326.9" class="c"/><use href="#h" x="264.8" y="326.9" class="e"/><use href="#h" x="271.8" y="326.9" class="c"/><use href="#h" x="278.9" y="326.9" class="a"/><use href="#h" x="286.1" y="326.9" class="a"/><use href="#h" x="293.1" y="326.9" class="b"/><use href="#h" x="300.2" y="326.9" class="e"/><use href="#h" x="307.3" y="326.9" class="b"/><use href="#h" x="314.4" y="326.9" class="a"/><use href="#h" x="321.5" y="326.9" class="r"/><use href="#h" x="328.6" y="326.9" class="a"/><use href="#h" x="335.8" y="326.9" class="b"/><use href="#h" x="342.8" y="326.9" class="a"/><use href="#h" x="349.9" y="326.9" class="c"/><use href="#h" x="357.0" y="326.9" class="b"/><use href="#h" x="364.1" y="326.9" class="s"/><use href="#h" x="371.2" y="326.9" class="s"/><use href="#h" x="378.3" y="326.9" class="p"/><use href="#h" x="34.0" y="333.0" class="r"/><use href="#h" x="41.1" y="333.0" class="c"/><use href="#h" x="48.2" y="333.0" class="p"/><use href="#h" x="55.3" y="333.0" class="b"/><use href="#h" x="62.4" y="333.0" class="a"/><use href="#h" x="69.5" y="333.0" class="c"/><use href="#h" x="76.6" y="333.0" class="a"/><use href="#h" x="83.7" y="333.0" class="b"/><use href="#h" x="90.8" y="333.0" class="a"/><use href="#h" x="97.9" y="333.0" class="a"/><use href="#h" x="105.0" y="333.0" class="b"/><use href="#h" x="112.1" y="333.0" class="c"/><use href="#h" x="119.2" y="333.0" class="b"/><use href="#h" x="126.3" y="333.0" class="b"/><use href="#h" x="133.4" y="333.0" class="c"/><use href="#h" x="140.5" y="333.0" class="b"/><use href="#h" x="147.6" y="333.0" class="e"/><use href="#h" x="154.7" y="333.0" class="a"/><use href="#h" x="161.8" y="333.0" class="e"/><use href="#h" x="168.9" y="333.0" class="r"/><use href="#h" x="176.0" y="333.0" class="b"/><use href="#h" x="183.1" y="333.0" class="b"/><use href="#h" x="190.2" y="333.0" class="c"/><use href="#h" x="197.3" y="333.0" class="s"/><use href="#h" x="204.4" y="333.0" class="a"/><use href="#h" x="211.5" y="333.0" class="s"/><use href="#h" x="218.6" y="333.0" class="a"/><use href="#h" x="225.7" y="333.0" class="e"/><use href="#h" x="232.8" y="333.0" class="a"/><use href="#h" x="239.9" y="333.0" class="a"/><use href="#h" x="247.0" y="333.0" class="a"/><use href="#h" x="254.1" y="333.0" class="c"/><use href="#h" x="261.2" y="333.0" class="b"/><use href="#h" x="268.3" y="333.0" class="a"/><use href="#h" x="275.4" y="333.0" class="e"/><use href="#h" x="282.5" y="333.0" class="c"/><use href="#h" x="289.6" y="333.0" class="a"/><use href="#h" x="296.7" y="333.0" class="c"/><use href="#h" x="303.8" y="333.0" class="a"/><use href="#h" x="310.9" y="333.0" class="a"/><use href="#h" x="318.0" y="333.0" class="a"/><use href="#h" x="325.1" y="333.0" class="b"/><use href="#h" x="332.2" y="333.0" class="a"/><use href="#h" x="339.3" y="333.0" class="c"/><use href="#h" x="346.4" y="333.0" class="d"/><use href="#h" x="353.5" y="333.0" class="s"/><use href="#h" x="360.6" y="333.0" class="e"/><use href="#h" x="367.7" y="333.0" class="a"/><use href="#h" x="374.8" y="333.0" class="c"/><use href="#h" x="381.9" y="333.0" class="c"/><use href="#h" x="30.4" y="339.2" class="b"/><use href="#h" x="37.5" y="339.2" class="e"/><use href="#h" x="44.6" y="339.2" class="f"/><use href="#h" x="51.8" y="339.2" class="d"/><use href="#h" x="58.8" y="339.2" class="s"/><use href="#h" x="66.0" y="339.2" class="a"/><use href="#h" x="73.0" y="339.2" class="c"/><use href="#h" x="80.1" y="339.2" class="a"/><use href="#h" x="87.2" y="339.2" class="a"/><use href="#h" x="94.3" y="339.2" class="f"/><use href="#h" x="101.5" y="339.2" class="a"/><use href="#h" x="108.5" y="339.2" class="a"/><use href="#h" x="115.6" y="339.2" class="b"/><use href="#h" x="122.8" y="339.2" class="a"/><use href="#h" x="129.8" y="339.2" class="p"/><use href="#h" x="136.9" y="339.2" class="c"/><use href="#h" x="144.0" y="339.2" class="a"/><use href="#h" x="151.1" y="339.2" class="p"/><use href="#h" x="158.2" y="339.2" class="b"/><use href="#h" x="165.3" y="339.2" class="c"/><use href="#h" x="172.4" y="339.2" class="a"/><use href="#h" x="179.5" y="339.2" class="a"/><use href="#h" x="186.6" y="339.2" class="c"/><use href="#h" x="193.7" y="339.2" class="b"/><use href="#h" x="200.8" y="339.2" class="d"/><use href="#h" x="207.9" y="339.2" class="a"/><use href="#h" x="215.0" y="339.2" class="b"/><use href="#h" x="222.1" y="339.2" class="d"/><use href="#h" x="229.2" y="339.2" class="a"/><use href="#h" x="236.3" y="339.2" class="d"/><use href="#h" x="243.4" y="339.2" class="c"/><use href="#h" x="250.5" y="339.2" class="a"/><use href="#h" x="257.6" y="339.2" class="f"/><use href="#h" x="264.8" y="339.2" class="b"/><use href="#h" x="271.8" y="339.2" class="s"/><use href="#h" x="278.9" y="339.2" class="e"/><use href="#h" x="286.1" y="339.2" class="d"/><use href="#h" x="293.1" y="339.2" class="f"/><use href="#h" x="300.2" y="339.2" class="a"/><use href="#h" x="307.3" y="339.2" class="e"/><use href="#h" x="314.4" y="339.2" class="e"/><use href="#h" x="321.5" y="339.2" class="c"/><use href="#h" x="328.6" y="339.2" class="c"/><use href="#h" x="335.8" y="339.2" class="c"/><use href="#h" x="342.8" y="339.2" class="b"/><use href="#h" x="349.9" y="339.2" class="a"/><use href="#h" x="357.0" y="339.2" class="d"/><use href="#h" x="364.1" y="339.2" class="a"/><use href="#h" x="371.2" y="339.2" class="c"/><use href="#h" x="378.3" y="339.2" class="e"/><use href="#h" x="34.0" y="345.3" class="r"/><use href="#h" x="41.1" y="345.3" class="e"/><use href="#h" x="48.2" y="345.3" class="r"/><use href="#h" x="55.3" y="345.3" class="e"/><use href="#h" x="62.4" y="345.3" class="d"/><use href="#h" x="69.5" y="345.3" class="a"/><use href="#h" x="76.6" y="345.3" class="d"/><use href="#h" x="83.7" y="345.3" class="s"/><use href="#h" x="90.8" y="345.3" class="c"/><use href="#h" x="97.9" y="345.3" class="c"/><use href="#h" x="105.0" y="345.3" class="a"/><use href="#h" x="112.1" y="345.3" class="c"/><use href="#h" x="119.2" y="345.3" class="b"/><use href="#h" x="126.3" y="345.3" class="b"/><use href="#h" x="133.4" y="345.3" class="a"/><use href="#h" x="140.5" y="345.3" class="b"/><use href="#h" x="147.6" y="345.3" class="c"/><use href="#h" x="154.7" y="345.3" class="a"/><use href="#h" x="161.8" y="345.3" class="c"/><use href="#h" x="168.9" y="345.3" class="b"/><use href="#h" x="176.0" y="345.3" class="a"/><use href="#h" x="183.1" y="345.3" class="a"/><use href="#h" x="190.2" y="345.3" class="b"/><use href="#h" x="197.3" y="345.3" class="b"/><use href="#h" x="204.4" y="345.3" class="p"/><use href="#h" x="211.5" y="345.3" class="b"/><use href="#h" x="218.6" y="345.3" class="e"/><use href="#h" x="225.7" y="345.3" class="c"/><use href="#h" x="232.8" y="345.3" class="b"/><use href="#h" x="239.9" y="345.3" class="b"/><use href="#h" x="247.0" y="345.3" class="e"/><use href="#h" x="254.1" y="345.3" class="d"/><use href="#h" x="261.2" y="345.3" class="a"/><use href="#h" x="268.3" y="345.3" class="e"/><use href="#h" x="275.4" y="345.3" class="a"/><use href="#h" x="282.5" y="345.3" class="a"/><use href="#h" x="289.6" y="345.3" class="a"/><use href="#h" x="296.7" y="345.3" class="a"/><use href="#h" x="303.8" y="345.3" class="p"/><use href="#h" x="310.9" y="345.3" class="b"/><use href="#h" x="318.0" y="345.3" class="a"/><use href="#h" x="325.1" y="345.3" class="r"/><use href="#h" x="332.2" y="345.3" class="d"/><use href="#h" x="339.3" y="345.3" class="r"/><use href="#h" x="346.4" y="345.3" class="b"/><use href="#h" x="353.5" y="345.3" class="c"/><use href="#h" x="360.6" y="345.3" class="c"/><use href="#h" x="367.7" y="345.3" class="c"/><use href="#h" x="374.8" y="345.3" class="c"/><use href="#h" x="381.9" y="345.3" class="a"/><use href="#h" x="30.4" y="351.5" class="a"/><use href="#h" x="37.5" y="351.5" class="e"/><use href="#h" x="44.6" y="351.5" class="c"/><use href="#h" x="51.8" y="351.5" class="e"/><use href="#h" x="58.8" y="351.5" class="c"/><use href="#h" x="66.0" y="351.5" class="e"/><use href="#h" x="73.0" y="351.5" class="a"/><use href="#h" x="80.1" y="351.5" class="a"/><use href="#h" x="87.2" y="351.5" class="c"/><use href="#h" x="94.3" y="351.5" class="c"/><use href="#h" x="101.5" y="351.5" class="b"/><use href="#h" x="108.5" y="351.5" class="b"/><use href="#h" x="115.6" y="351.5" class="a"/><use href="#h" x="122.8" y="351.5" class="c"/><use href="#h" x="129.8" y="351.5" class="c"/><use href="#h" x="136.9" y="351.5" class="c"/><use href="#h" x="144.0" y="351.5" class="e"/><use href="#h" x="151.1" y="351.5" class="e"/><use href="#h" x="158.2" y="351.5" class="a"/><use href="#h" x="165.3" y="351.5" class="b"/><use href="#h" x="172.4" y="351.5" class="d"/><use href="#h" x="179.5" y="351.5" class="c"/><use href="#h" x="186.6" y="351.5" class="b"/><use href="#h" x="193.7" y="351.5" class="e"/><use href="#h" x="200.8" y="351.5" class="a"/><use href="#h" x="207.9" y="351.5" class="a"/><use href="#h" x="215.0" y="351.5" class="c"/><use href="#h" x="222.1" y="351.5" class="a"/><use href="#h" x="229.2" y="351.5" class="c"/><use href="#h" x="236.3" y="351.5" class="s"/><use href="#h" x="243.4" y="351.5" class="b"/><use href="#h" x="250.5" y="351.5" class="b"/><use href="#h" x="257.6" y="351.5" class="c"/><use href="#h" x="264.8" y="351.5" class="d"/><use href="#h" x="271.8" y="351.5" class="b"/><use href="#h" x="278.9" y="351.5" class="a"/><use href="#h" x="286.1" y="351.5" class="e"/><use href="#h" x="293.1" y="351.5" class="b"/><use href="#h" x="300.2" y="351.5" class="b"/><use href="#h" x="307.3" y="351.5" class="a"/><use href="#h" x="314.4" y="351.5" class="d"/><use href="#h" x="321.5" y="351.5" class="c"/><use href="#h" x="328.6" y="351.5" class="e"/><use href="#h" x="335.8" y="351.5" class="a"/><use href="#h" x="342.8" y="351.5" class="a"/><use href="#h" x="349.9" y="351.5" class="a"/><use href="#h" x="357.0" y="351.5" class="b"/><use href="#h" x="364.1" y="351.5" class="e"/><use href="#h" x="371.2" y="351.5" class="a"/><use href="#h" x="378.3" y="351.5" class="b"/><use href="#h" x="34.0" y="357.6" class="c"/><use href="#h" x="41.1" y="357.6" class="a"/><use href="#h" x="48.2" y="357.6" class="c"/><use href="#h" x="55.3" y="357.6" class="f"/><use href="#h" x="62.4" y="357.6" class="s"/><use href="#h" x="69.5" y="357.6" class="p"/><use href="#h" x="76.6" y="357.6" class="b"/><use href="#h" x="83.7" y="357.6" class="b"/><use href="#h" x="90.8" y="357.6" class="a"/><use href="#h" x="97.9" y="357.6" class="a"/><use href="#h" x="105.0" y="357.6" class="a"/><use href="#h" x="112.1" y="357.6" class="c"/><use href="#h" x="119.2" y="357.6" class="b"/><use href="#h" x="126.3" y="357.6" class="a"/><use href="#h" x="133.4" y="357.6" class="c"/><use href="#h" x="140.5" y="357.6" class="b"/><use href="#h" x="147.6" y="357.6" class="a"/><use href="#h" x="154.7" y="357.6" class="a"/><use href="#h" x="161.8" y="357.6" class="a"/><use href="#h" x="168.9" y="357.6" class="c"/><use href="#h" x="176.0" y="357.6" class="e"/><use href="#h" x="183.1" y="357.6" class="b"/><use href="#h" x="190.2" y="357.6" class="a"/><use href="#h" x="197.3" y="357.6" class="a"/><use href="#h" x="204.4" y="357.6" class="a"/><use href="#h" x="211.5" y="357.6" class="a"/><use href="#h" x="218.6" y="357.6" class="d"/><use href="#h" x="225.7" y="357.6" class="a"/><use href="#h" x="232.8" y="357.6" class="c"/><use href="#h" x="239.9" y="357.6" class="c"/><use href="#h" x="247.0" y="357.6" class="c"/><use href="#h" x="254.1" y="357.6" class="c"/><use href="#h" x="261.2" y="357.6" class="b"/><use href="#h" x="268.3" y="357.6" class="a"/><use href="#h" x="275.4" y="357.6" class="a"/><use href="#h" x="282.5" y="357.6" class="a"/><use href="#h" x="289.6" y="357.6" class="a"/><use href="#h" x="296.7" y="357.6" class="b"/><use href="#h" x="303.8" y="357.6" class="c"/><use href="#h" x="310.9" y="357.6" class="b"/><use href="#h" x="318.0" y="357.6" class="b"/><use href="#h" x="325.1" y="357.6" class="a"/><use href="#h" x="332.2" y="357.6" class="d"/><use href="#h" x="339.3" y="357.6" class="c"/><use href="#h" x="346.4" y="357.6" class="a"/><use href="#h" x="353.5" y="357.6" class="e"/><use href="#h" x="360.6" y="357.6" class="a"/><use href="#h" x="367.7" y="357.6" class="d"/><use href="#h" x="374.8" y="357.6" class="a"/><use href="#h" x="381.9" y="357.6" class="c"/><use href="#h" x="30.4" y="363.8" class="p"/><use href="#h" x="37.5" y="363.8" class="c"/><use href="#h" x="44.6" y="363.8" class="b"/><use href="#h" x="51.8" y="363.8" class="s"/><use href="#h" x="58.8" y="363.8" class="a"/><use href="#h" x="66.0" y="363.8" class="b"/><use href="#h" x="73.0" y="363.8" class="a"/><use href="#h" x="80.1" y="363.8" class="e"/><use href="#h" x="87.2" y="363.8" class="a"/><use href="#h" x="94.3" y="363.8" class="a"/><use href="#h" x="101.5" y="363.8" class="b"/><use href="#h" x="108.5" y="363.8" class="a"/><use href="#h" x="115.6" y="363.8" class="b"/><use href="#h" x="122.8" y="363.8" class="b"/><use href="#h" x="129.8" y="363.8" class="b"/><use href="#h" x="136.9" y="363.8" class="r"/><use href="#h" x="144.0" y="363.8" class="b"/><use href="#h" x="151.1" y="363.8" class="c"/><use href="#h" x="158.2" y="363.8" class="e"/><use href="#h" x="165.3" y="363.8" class="a"/><use href="#h" x="172.4" y="363.8" class="a"/><use href="#h" x="179.5" y="363.8" class="d"/><use href="#h" x="186.6" y="363.8" class="c"/><use href="#h" x="193.7" y="363.8" class="r"/><use href="#h" x="200.8" y="363.8" class="r"/><use href="#h" x="207.9" y="363.8" class="d"/><use href="#h" x="215.0" y="363.8" class="c"/><use href="#h" x="222.1" y="363.8" class="s"/><use href="#h" x="229.2" y="363.8" class="b"/><use href="#h" x="236.3" y="363.8" class="s"/><use href="#h" x="243.4" y="363.8" class="c"/><use href="#h" x="250.5" y="363.8" class="b"/><use href="#h" x="257.6" y="363.8" class="r"/><use href="#h" x="264.8" y="363.8" class="a"/><use href="#h" x="271.8" y="363.8" class="a"/><use href="#h" x="278.9" y="363.8" class="a"/><use href="#h" x="286.1" y="363.8" class="c"/><use href="#h" x="293.1" y="363.8" class="p"/><use href="#h" x="300.2" y="363.8" class="a"/><use href="#h" x="307.3" y="363.8" class="b"/><use href="#h" x="314.4" y="363.8" class="b"/><use href="#h" x="321.5" y="363.8" class="a"/><use href="#h" x="328.6" y="363.8" class="e"/><use href="#h" x="335.8" y="363.8" class="c"/><use href="#h" x="342.8" y="363.8" class="e"/><use href="#h" x="349.9" y="363.8" class="c"/><use href="#h" x="357.0" y="363.8" class="c"/><use href="#h" x="364.1" y="363.8" class="c"/><use href="#h" x="371.2" y="363.8" class="a"/><use href="#h" x="378.3" y="363.8" class="e"/><use href="#h" x="34.0" y="369.9" class="s"/><use href="#h" x="41.1" y="369.9" class="c"/><use href="#h" x="48.2" y="369.9" class="e"/><use href="#h" x="55.3" y="369.9" class="a"/><use href="#h" x="62.4" y="369.9" class="b"/><use href="#h" x="69.5" y="369.9" class="r"/><use href="#h" x="76.6" y="369.9" class="c"/><use href="#h" x="83.7" y="369.9" class="c"/><use href="#h" x="90.8" y="369.9" class="b"/><use href="#h" x="97.9" y="369.9" class="e"/><use href="#h" x="105.0" y="369.9" class="e"/><use href="#h" x="112.1" y="369.9" class="e"/><use href="#h" x="119.2" y="369.9" class="b"/><use href="#h" x="126.3" y="369.9" class="a"/><use href="#h" x="133.4" y="369.9" class="d"/><use href="#h" x="140.5" y="369.9" class="c"/><use href="#h" x="147.6" y="369.9" class="c"/><use href="#h" x="154.7" y="369.9" class="p"/><use href="#h" x="161.8" y="369.9" class="a"/><use href="#h" x="168.9" y="369.9" class="c"/><use href="#h" x="176.0" y="369.9" class="b"/><use href="#h" x="183.1" y="369.9" class="c"/><use href="#h" x="190.2" y="369.9" class="b"/><use href="#h" x="197.3" y="369.9" class="c"/><use href="#h" x="204.4" y="369.9" class="c"/><use href="#h" x="211.5" y="369.9" class="b"/><use href="#h" x="218.6" y="369.9" class="b"/><use href="#h" x="225.7" y="369.9" class="c"/><use href="#h" x="232.8" y="369.9" class="b"/><use href="#h" x="239.9" y="369.9" class="d"/><use href="#h" x="247.0" y="369.9" class="a"/><use href="#h" x="254.1" y="369.9" class="c"/><use href="#h" x="261.2" y="369.9" class="c"/><use href="#h" x="268.3" y="369.9" class="b"/><use href="#h" x="275.4" y="369.9" class="c"/><use href="#h" x="282.5" y="369.9" class="a"/><use href="#h" x="289.6" y="369.9" class="a"/><use href="#h" x="296.7" y="369.9" class="e"/><use href="#h" x="303.8" y="369.9" class="s"/><use href="#h" x="310.9" y="369.9" class="c"/><use href="#h" x="318.0" y="369.9" class="c"/><use href="#h" x="325.1" y="369.9" class="b"/><use href="#h" x="332.2" y="369.9" class="d"/><use href="#h" x="339.3" y="369.9" class="b"/><use href="#h" x="346.4" y="369.9" class="a"/><use href="#h" x="353.5" y="369.9" class="a"/><use href="#h" x="360.6" y="369.9" class="e"/><use href="#h" x="367.7" y="369.9" class="a"/><use href="#h" x="374.8" y="369.9" class="b"/><use href="#h" x="381.9" y="369.9" class="e"/><use href="#h" x="30.4" y="376.1" class="a"/><use href="#h" x="37.5" y="376.1" class="c"/><use href="#h" x="44.6" y="376.1" class="e"/><use href="#h" x="51.8" y="376.1" class="d"/><use href="#h" x="58.8" y="376.1" class="a"/><use href="#h" x="66.0" y="376.1" class="a"/><use href="#h" x="73.0" y="376.1" class="e"/><use href="#h" x="80.1" y="376.1" class="a"/><use href="#h" x="87.2" y="376.1" class="a"/><use href="#h" x="94.3" y="376.1" class="b"/><use href="#h" x="101.5" y="376.1" class="a"/><use href="#h" x="108.5" y="376.1" class="c"/><use href="#h" x="115.6" y="376.1" class="a"/><use href="#h" x="122.8" y="376.1" class="f"/><use href="#h" x="129.8" y="376.1" class="c"/><use href="#h" x="136.9" y="376.1" class="a"/><use href="#h" x="144.0" y="376.1" class="a"/><use href="#h" x="151.1" y="376.1" class="a"/><use href="#h" x="158.2" y="376.1" class="d"/><use href="#h" x="165.3" y="376.1" class="b"/><use href="#h" x="172.4" y="376.1" class="c"/><use href="#h" x="179.5" y="376.1" class="a"/><use href="#h" x="186.6" y="376.1" class="s"/><use href="#h" x="193.7" y="376.1" class="e"/><use href="#h" x="200.8" y="376.1" class="b"/><use href="#h" x="207.9" y="376.1" class="c"/><use href="#h" x="215.0" y="376.1" class="d"/><use href="#h" x="222.1" y="376.1" class="d"/><use href="#h" x="229.2" y="376.1" class="a"/><use href="#h" x="236.3" y="376.1" class="b"/><use href="#h" x="243.4" y="376.1" class="d"/><use href="#h" x="250.5" y="376.1" class="e"/><use href="#h" x="257.6" y="376.1" class="f"/><use href="#h" x="264.8" y="376.1" class="s"/><use href="#h" x="271.8" y="376.1" class="b"/><use href="#h" x="278.9" y="376.1" class="e"/><use href="#h" x="286.1" y="376.1" class="d"/><use href="#h" x="293.1" y="376.1" class="a"/><use href="#h" x="300.2" y="376.1" class="a"/><use href="#h" x="307.3" y="376.1" class="d"/><use href="#h" x="314.4" y="376.1" class="a"/><use href="#h" x="321.5" y="376.1" class="b"/><use href="#h" x="328.6" y="376.1" class="s"/><use href="#h" x="335.8" y="376.1" class="b"/><use href="#h" x="342.8" y="376.1" class="b"/><use href="#h" x="349.9" y="376.1" class="d"/><use href="#h" x="357.0" y="376.1" class="d"/><use href="#h" x="364.1" y="376.1" class="c"/><use href="#h" x="371.2" y="376.1" class="a"/><use href="#h" x="378.3" y="376.1" class="c"/><use href="#h" x="34.0" y="382.2" class="c"/><use href="#h" x="41.1" y="382.2" class="s"/><use href="#h" x="48.2" y="382.2" class="c"/><use href="#h" x="55.3" y="382.2" class="r"/><use href="#h" x="62.4" y="382.2" class="a"/><use href="#h" x="69.5" y="382.2" class="a"/><use href="#h" x="76.6" y="382.2" class="c"/><use href="#h" x="83.7" y="382.2" class="b"/><use href="#h" x="90.8" y="382.2" class="b"/><use href="#h" x="97.9" y="382.2" class="a"/><use href="#h" x="105.0" y="382.2" class="b"/><use href="#h" x="112.1" y="382.2" class="a"/><use href="#h" x="119.2" y="382.2" class="r"/><use href="#h" x="126.3" y="382.2" class="b"/><use href="#h" x="133.4" y="382.2" class="s"/><use href="#h" x="140.5" y="382.2" class="r"/><use href="#h" x="147.6" y="382.2" class="d"/><use href="#h" x="154.7" y="382.2" class="a"/><use href="#h" x="161.8" y="382.2" class="r"/><use href="#h" x="168.9" y="382.2" class="a"/><use href="#h" x="176.0" y="382.2" class="c"/><use href="#h" x="183.1" y="382.2" class="a"/><use href="#h" x="190.2" y="382.2" class="a"/><use href="#h" x="197.3" y="382.2" class="b"/><use href="#h" x="204.4" y="382.2" class="d"/><use href="#h" x="211.5" y="382.2" class="a"/><use href="#h" x="218.6" y="382.2" class="s"/><use href="#h" x="225.7" y="382.2" class="a"/><use href="#h" x="232.8" y="382.2" class="e"/><use href="#h" x="239.9" y="382.2" class="b"/><use href="#h" x="247.0" y="382.2" class="a"/><use href="#h" x="254.1" y="382.2" class="b"/><use href="#h" x="261.2" y="382.2" class="c"/><use href="#h" x="268.3" y="382.2" class="f"/><use href="#h" x="275.4" y="382.2" class="a"/><use href="#h" x="282.5" y="382.2" class="c"/><use href="#h" x="289.6" y="382.2" class="a"/><use href="#h" x="296.7" y="382.2" class="a"/><use href="#h" x="303.8" y="382.2" class="b"/><use href="#h" x="310.9" y="382.2" class="b"/><use href="#h" x="318.0" y="382.2" class="c"/><use href="#h" x="325.1" y="382.2" class="a"/><use href="#h" x="332.2" y="382.2" class="e"/><use href="#h" x="339.3" y="382.2" class="e"/><use href="#h" x="346.4" y="382.2" class="c"/><use href="#h" x="353.5" y="382.2" class="b"/><use href="#h" x="360.6" y="382.2" class="b"/><use href="#h" x="367.7" y="382.2" class="p"/><use href="#h" x="374.8" y="382.2" class="s"/><use href="#h" x="381.9" y="382.2" class="a"/><use href="#h" x="30.4" y="388.4" class="c"/><use href="#h" x="37.5" y="388.4" class="a"/><use href="#h" x="44.6" y="388.4" class="a"/><use href="#h" x="51.8" y="388.4" class="a"/><use href="#h" x="58.8" y="388.4" class="c"/><use href="#h" x="66.0" y="388.4" class="e"/><use href="#h" x="73.0" y="388.4" class="r"/><use href="#h" x="80.1" y="388.4" class="b"/><use href="#h" x="87.2" y="388.4" class="a"/><use href="#h" x="94.3" y="388.4" class="a"/><use href="#h" x="101.5" y="388.4" class="b"/><use href="#h" x="108.5" y="388.4" class="c"/><use href="#h" x="115.6" y="388.4" class="a"/><use href="#h" x="122.8" y="388.4" class="e"/><use href="#h" x="129.8" y="388.4" class="c"/><use href="#h" x="136.9" y="388.4" class="b"/><use href="#h" x="144.0" y="388.4" class="p"/><use href="#h" x="151.1" y="388.4" class="b"/><use href="#h" x="158.2" y="388.4" class="b"/><use href="#h" x="165.3" y="388.4" class="b"/><use href="#h" x="172.4" y="388.4" class="d"/><use href="#h" x="179.5" y="388.4" class="c"/><use href="#h" x="186.6" y="388.4" class="c"/><use href="#h" x="193.7" y="388.4" class="c"/><use href="#h" x="200.8" y="388.4" class="e"/><use href="#h" x="207.9" y="388.4" class="r"/><use href="#h" x="215.0" y="388.4" class="r"/><use href="#h" x="222.1" y="388.4" class="c"/><use href="#h" x="229.2" y="388.4" class="s"/><use href="#h" x="236.3" y="388.4" class="a"/><use href="#h" x="243.4" y="388.4" class="e"/><use href="#h" x="250.5" y="388.4" class="a"/><use href="#h" x="257.6" y="388.4" class="c"/><use href="#h" x="264.8" y="388.4" class="b"/><use href="#h" x="271.8" y="388.4" class="b"/><use href="#h" x="278.9" y="388.4" class="a"/><use href="#h" x="286.1" y="388.4" class="a"/><use href="#h" x="293.1" y="388.4" class="r"/><use href="#h" x="300.2" y="388.4" class="d"/><use href="#h" x="307.3" y="388.4" class="b"/><use href="#h" x="314.4" y="388.4" class="a"/><use href="#h" x="321.5" y="388.4" class="a"/><use href="#h" x="328.6" y="388.4" class="d"/><use href="#h" x="335.8" y="388.4" class="a"/><use href="#h" x="342.8" y="388.4" class="a"/><use href="#h" x="349.9" y="388.4" class="d"/><use href="#h" x="357.0" y="388.4" class="c"/><use href="#h" x="364.1" y="388.4" class="f"/><use href="#h" x="371.2" y="388.4" class="c"/><use href="#h" x="378.3" y="388.4" class="e"/><use href="#h" x="34.0" y="394.5" class="e"/><use href="#h" x="41.1" y="394.5" class="b"/><use href="#h" x="48.2" y="394.5" class="b"/><use href="#h" x="55.3" y="394.5" class="a"/><use href="#h" x="62.4" y="394.5" class="p"/><use href="#h" x="69.5" y="394.5" class="a"/><use href="#h" x="76.6" y="394.5" class="a"/><use href="#h" x="83.7" y="394.5" class="e"/><use href="#h" x="90.8" y="394.5" class="a"/><use href="#h" x="97.9" y="394.5" class="p"/><use href="#h" x="105.0" y="394.5" class="a"/><use href="#h" x="112.1" y="394.5" class="c"/><use href="#h" x="119.2" y="394.5" class="c"/><use href="#h" x="126.3" y="394.5" class="b"/><use href="#h" x="133.4" y="394.5" class="a"/><use href="#h" x="140.5" y="394.5" class="c"/><use href="#h" x="147.6" y="394.5" class="c"/><use href="#h" x="154.7" y="394.5" class="b"/><use href="#h" x="161.8" y="394.5" class="a"/><use href="#h" x="168.9" y="394.5" class="r"/><use href="#h" x="176.0" y="394.5" class="b"/><use href="#h" x="183.1" y="394.5" class="p"/><use href="#h" x="190.2" y="394.5" class="b"/><use href="#h" x="197.3" y="394.5" class="a"/><use href="#h" x="204.4" y="394.5" class="d"/><use href="#h" x="211.5" y="394.5" class="e"/><use href="#h" x="218.6" y="394.5" class="a"/><use href="#h" x="225.7" y="394.5" class="c"/><use href="#h" x="232.8" y="394.5" class="b"/><use href="#h" x="239.9" y="394.5" class="d"/><use href="#h" x="247.0" y="394.5" class="p"/><use href="#h" x="254.1" y="394.5" class="a"/><use href="#h" x="261.2" y="394.5" class="a"/><use href="#h" x="268.3" y="394.5" class="b"/><use href="#h" x="275.4" y="394.5" class="e"/><use href="#h" x="282.5" y="394.5" class="a"/><use href="#h" x="289.6" y="394.5" class="a"/><use href="#h" x="296.7" y="394.5" class="b"/><use href="#h" x="303.8" y="394.5" class="b"/><use href="#h" x="310.9" y="394.5" class="c"/><use href="#h" x="318.0" y="394.5" class="b"/><use href="#h" x="325.1" y="394.5" class="b"/><use href="#h" x="332.2" y="394.5" class="b"/><use href="#h" x="339.3" y="394.5" class="c"/><use href="#h" x="346.4" y="394.5" class="b"/><use href="#h" x="353.5" y="394.5" class="a"/><use href="#h" x="360.6" y="394.5" class="d"/><use href="#h" x="367.7" y="394.5" class="c"/><use href="#h" x="374.8" y="394.5" class="a"/><use href="#h" x="381.9" y="394.5" class="s"/><use href="#h" x="30.4" y="400.7" class="c"/><use href="#h" x="37.5" y="400.7" class="b"/><use href="#h" x="44.6" y="400.7" class="e"/><use href="#h" x="51.8" y="400.7" class="d"/><use href="#h" x="58.8" y="400.7" class="a"/><use href="#h" x="66.0" y="400.7" class="e"/><use href="#h" x="73.0" y="400.7" class="e"/><use href="#h" x="80.1" y="400.7" class="b"/><use href="#h" x="87.2" y="400.7" class="b"/><use href="#h" x="94.3" y="400.7" class="a"/><use href="#h" x="101.5" y="400.7" class="b"/><use href="#h" x="108.5" y="400.7" class="a"/><use href="#h" x="115.6" y="400.7" class="c"/><use href="#h" x="122.8" y="400.7" class="a"/><use href="#h" x="129.8" y="400.7" class="a"/><use href="#h" x="136.9" y="400.7" class="a"/><use href="#h" x="144.0" y="400.7" class="s"/><use href="#h" x="151.1" y="400.7" class="b"/><use href="#h" x="158.2" y="400.7" class="b"/><use href="#h" x="165.3" y="400.7" class="r"/><use href="#h" x="172.4" y="400.7" class="b"/><use href="#h" x="179.5" y="400.7" class="c"/><use href="#h" x="186.6" y="400.7" class="e"/><use href="#h" x="193.7" y="400.7" class="c"/><use href="#h" x="200.8" y="400.7" class="a"/><use href="#h" x="207.9" y="400.7" class="b"/><use href="#h" x="215.0" y="400.7" class="a"/><use href="#h" x="222.1" y="400.7" class="a"/><use href="#h" x="229.2" y="400.7" class="a"/><use href="#h" x="236.3" y="400.7" class="e"/><use href="#h" x="243.4" y="400.7" class="a"/><use href="#h" x="250.5" y="400.7" class="p"/><use href="#h" x="257.6" y="400.7" class="a"/><use href="#h" x="264.8" y="400.7" class="c"/><use href="#h" x="271.8" y="400.7" class="s"/><use href="#h" x="278.9" y="400.7" class="b"/><use href="#h" x="286.1" y="400.7" class="s"/><use href="#h" x="293.1" y="400.7" class="a"/><use href="#h" x="300.2" y="400.7" class="e"/><use href="#h" x="307.3" y="400.7" class="s"/><use href="#h" x="314.4" y="400.7" class="a"/><use href="#h" x="321.5" y="400.7" class="r"/><use href="#h" x="328.6" y="400.7" class="e"/><use href="#h" x="335.8" y="400.7" class="s"/><use href="#h" x="342.8" y="400.7" class="b"/><use href="#h" x="349.9" y="400.7" class="b"/><use href="#h" x="357.0" y="400.7" class="a"/><use href="#h" x="364.1" y="400.7" class="a"/><use href="#h" x="371.2" y="400.7" class="b"/><use href="#h" x="378.3" y="400.7" class="b"/><use href="#h" x="34.0" y="406.8" class="b"/><use href="#h" x="41.1" y="406.8" class="r"/><use href="#h" x="48.2" y="406.8" class="b"/><use href="#h" x="55.3" y="406.8" class="a"/><use href="#h" x="62.4" y="406.8" class="a"/><use href="#h" x="69.5" y="406.8" class="b"/><use href="#h" x="76.6" y="406.8" class="d"/><use href="#h" x="83.7" y="406.8" class="a"/><use href="#h" x="90.8" y="406.8" class="a"/><use href="#h" x="97.9" y="406.8" class="a"/><use href="#h" x="105.0" y="406.8" class="c"/><use href="#h" x="112.1" y="406.8" class="b"/><use href="#h" x="119.2" y="406.8" class="c"/><use href="#h" x="126.3" y="406.8" class="a"/><use href="#h" x="133.4" y="406.8" class="a"/><use href="#h" x="140.5" y="406.8" class="a"/><use href="#h" x="147.6" y="406.8" class="b"/><use href="#h" x="154.7" y="406.8" class="b"/><use href="#h" x="161.8" y="406.8" class="e"/><use href="#h" x="168.9" y="406.8" class="b"/><use href="#h" x="176.0" y="406.8" class="d"/><use href="#h" x="183.1" y="406.8" class="b"/><use href="#h" x="190.2" y="406.8" class="b"/><use href="#h" x="197.3" y="406.8" class="d"/><use href="#h" x="204.4" y="406.8" class="b"/><use href="#h" x="211.5" y="406.8" class="b"/><use href="#h" x="218.6" y="406.8" class="c"/><use href="#h" x="225.7" y="406.8" class="a"/><use href="#h" x="232.8" y="406.8" class="a"/><use href="#h" x="239.9" y="406.8" class="d"/><use href="#h" x="247.0" y="406.8" class="b"/><use href="#h" x="254.1" y="406.8" class="b"/><use href="#h" x="261.2" y="406.8" class="a"/><use href="#h" x="268.3" y="406.8" class="c"/><use href="#h" x="275.4" y="406.8" class="b"/><use href="#h" x="282.5" y="406.8" class="e"/><use href="#h" x="289.6" y="406.8" class="s"/><use href="#h" x="296.7" y="406.8" class="s"/><use href="#h" x="303.8" y="406.8" class="b"/><use href="#h" x="310.9" y="406.8" class="a"/><use href="#h" x="318.0" y="406.8" class="c"/><use href="#h" x="325.1" y="406.8" class="b"/><use href="#h" x="332.2" y="406.8" class="a"/><use href="#h" x="339.3" y="406.8" class="c"/><use href="#h" x="346.4" y="406.8" class="e"/><use href="#h" x="353.5" y="406.8" class="a"/><use href="#h" x="360.6" y="406.8" class="e"/><use href="#h" x="367.7" y="406.8" class="a"/><use href="#h" x="374.8" y="406.8" class="b"/><use href="#h" x="381.9" y="406.8" class="d"/><use href="#h" x="30.4" y="413.0" class="r"/><use href="#h" x="37.5" y="413.0" class="e"/><use href="#h" x="44.6" y="413.0" class="d"/><use href="#h" x="51.8" y="413.0" class="d"/><use href="#h" x="58.8" y="413.0" class="a"/><use href="#h" x="66.0" y="413.0" class="e"/><use href="#h" x="73.0" y="413.0" class="b"/><use href="#h" x="80.1" y="413.0" class="b"/><use href="#h" x="87.2" y="413.0" class="a"/><use href="#h" x="94.3" y="413.0" class="c"/><use href="#h" x="101.5" y="413.0" class="c"/><use href="#h" x="108.5" y="413.0" class="a"/><use href="#h" x="115.6" y="413.0" class="b"/><use href="#h" x="122.8" y="413.0" class="d"/><use href="#h" x="129.8" y="413.0" class="c"/><use href="#h" x="136.9" y="413.0" class="b"/><use href="#h" x="144.0" y="413.0" class="a"/><use href="#h" x="151.1" y="413.0" class="e"/><use href="#h" x="158.2" y="413.0" class="b"/><use href="#h" x="165.3" y="413.0" class="b"/><use href="#h" x="172.4" y="413.0" class="c"/><use href="#h" x="179.5" y="413.0" class="e"/><use href="#h" x="186.6" y="413.0" class="a"/><use href="#h" x="193.7" y="413.0" class="a"/><use href="#h" x="200.8" y="413.0" class="d"/><use href="#h" x="207.9" y="413.0" class="a"/><use href="#h" x="215.0" y="413.0" class="b"/><use href="#h" x="222.1" y="413.0" class="a"/><use href="#h" x="229.2" y="413.0" class="c"/><use href="#h" x="236.3" y="413.0" class="b"/><use href="#h" x="243.4" y="413.0" class="d"/><use href="#h" x="250.5" y="413.0" class="a"/><use href="#h" x="257.6" y="413.0" class="c"/><use href="#h" x="264.8" y="413.0" class="e"/><use href="#h" x="271.8" y="413.0" class="a"/><use href="#h" x="278.9" y="413.0" class="a"/><use href="#h" x="286.1" y="413.0" class="a"/><use href="#h" x="293.1" y="413.0" class="a"/><use href="#h" x="300.2" y="413.0" class="b"/><use href="#h" x="307.3" y="413.0" class="e"/><use href="#h" x="314.4" y="413.0" class="d"/><use href="#h" x="321.5" y="413.0" class="a"/><use href="#h" x="328.6" y="413.0" class="r"/><use href="#h" x="335.8" y="413.0" class="c"/><use href="#h" x="342.8" y="413.0" class="a"/><use href="#h" x="349.9" y="413.0" class="b"/><use href="#h" x="357.0" y="413.0" class="b"/><use href="#h" x="364.1" y="413.0" class="e"/><use href="#h" x="371.2" y="413.0" class="a"/><use href="#h" x="378.3" y="413.0" class="s"/><use href="#h" x="34.0" y="419.1" class="d"/><use href="#h" x="41.1" y="419.1" class="e"/><use href="#h" x="48.2" y="419.1" class="f"/><use href="#h" x="55.3" y="419.1" class="b"/><use href="#h" x="62.4" y="419.1" class="a"/><use href="#h" x="69.5" y="419.1" class="e"/><use href="#h" x="76.6" y="419.1" class="b"/><use href="#h" x="83.7" y="419.1" class="c"/><use href="#h" x="90.8" y="419.1" class="b"/><use href="#h" x="97.9" y="419.1" class="b"/><use href="#h" x="105.0" y="419.1" class="e"/><use href="#h" x="112.1" y="419.1" class="b"/><use href="#h" x="119.2" y="419.1" class="d"/><use href="#h" x="126.3" y="419.1" class="b"/><use href="#h" x="133.4" y="419.1" class="e"/><use href="#h" x="140.5" y="419.1" class="e"/><use href="#h" x="147.6" y="419.1" class="a"/><use href="#h" x="154.7" y="419.1" class="b"/><use href="#h" x="161.8" y="419.1" class="a"/><use href="#h" x="168.9" y="419.1" class="b"/><use href="#h" x="176.0" y="419.1" class="c"/><use href="#h" x="183.1" y="419.1" class="a"/><use href="#h" x="190.2" y="419.1" class="s"/><use href="#h" x="197.3" y="419.1" class="e"/><use href="#h" x="204.4" y="419.1" class="b"/><use href="#h" x="211.5" y="419.1" class="a"/><use href="#h" x="218.6" y="419.1" class="b"/><use href="#h" x="225.7" y="419.1" class="c"/><use href="#h" x="232.8" y="419.1" class="r"/><use href="#h" x="239.9" y="419.1" class="e"/><use href="#h" x="247.0" y="419.1" class="b"/><use href="#h" x="254.1" y="419.1" class="b"/><use href="#h" x="261.2" y="419.1" class="s"/><use href="#h" x="268.3" y="419.1" class="a"/><use href="#h" x="275.4" y="419.1" class="a"/><use href="#h" x="282.5" y="419.1" class="b"/><use href="#h" x="289.6" y="419.1" class="e"/><use href="#h" x="296.7" y="419.1" class="p"/><use href="#h" x="303.8" y="419.1" class="b"/><use href="#h" x="310.9" y="419.1" class="s"/><use href="#h" x="318.0" y="419.1" class="a"/><use href="#h" x="325.1" y="419.1" class="c"/><use href="#h" x="332.2" y="419.1" class="b"/><use href="#h" x="339.3" y="419.1" class="a"/><use href="#h" x="346.4" y="419.1" class="e"/><use href="#h" x="353.5" y="419.1" class="e"/><use href="#h" x="360.6" y="419.1" class="a"/><use href="#h" x="367.7" y="419.1" class="c"/><use href="#h" x="374.8" y="419.1" class="c"/><use href="#h" x="381.9" y="419.1" class="e"/><use href="#h" x="30.4" y="425.3" class="c"/><use href="#h" x="37.5" y="425.3" class="b"/><use href="#h" x="44.6" y="425.3" class="a"/><use href="#h" x="51.8" y="425.3" class="s"/><use href="#h" x="58.8" y="425.3" class="s"/><use href="#h" x="66.0" y="425.3" class="c"/><use href="#h" x="73.0" y="425.3" class="d"/><use href="#h" x="80.1" y="425.3" class="e"/><use href="#h" x="87.2" y="425.3" class="c"/><use href="#h" x="94.3" y="425.3" class="b"/><use href="#h" x="101.5" y="425.3" class="c"/><use href="#h" x="108.5" y="425.3" class="a"/><use href="#h" x="115.6" y="425.3" class="p"/><use href="#h" x="122.8" y="425.3" class="b"/><use href="#h" x="129.8" y="425.3" class="c"/><use href="#h" x="136.9" y="425.3" class="a"/><use href="#h" x="144.0" y="425.3" class="f"/><use href="#h" x="151.1" y="425.3" class="a"/><use href="#h" x="158.2" y="425.3" class="c"/><use href="#h" x="165.3" y="425.3" class="e"/><use href="#h" x="172.4" y="425.3" class="c"/><use href="#h" x="179.5" y="425.3" class="p"/><use href="#h" x="186.6" y="425.3" class="r"/><use href="#h" x="193.7" y="425.3" class="e"/><use href="#h" x="200.8" y="425.3" class="a"/><use href="#h" x="207.9" y="425.3" class="a"/><use href="#h" x="215.0" y="425.3" class="b"/><use href="#h" x="222.1" y="425.3" class="d"/><use href="#h" x="229.2" y="425.3" class="e"/><use href="#h" x="236.3" y="425.3" class="b"/><use href="#h" x="243.4" y="425.3" class="c"/><use href="#h" x="250.5" y="425.3" class="e"/><use href="#h" x="257.6" y="425.3" class="a"/><use href="#h" x="264.8" y="425.3" class="b"/><use href="#h" x="271.8" y="425.3" class="e"/><use href="#h" x="278.9" y="425.3" class="a"/><use href="#h" x="286.1" y="425.3" class="s"/><use href="#h" x="293.1" y="425.3" class="e"/><use href="#h" x="300.2" y="425.3" class="a"/><use href="#h" x="307.3" y="425.3" class="p"/><use href="#h" x="314.4" y="425.3" class="a"/><use href="#h" x="321.5" y="425.3" class="b"/><use href="#h" x="328.6" y="425.3" class="a"/><use href="#h" x="335.8" y="425.3" class="s"/><use href="#h" x="342.8" y="425.3" class="b"/><use href="#h" x="349.9" y="425.3" class="b"/><use href="#h" x="357.0" y="425.3" class="c"/><use href="#h" x="364.1" y="425.3" class="e"/><use href="#h" x="371.2" y="425.3" class="c"/><use href="#h" x="378.3" y="425.3" class="a"/><use href="#h" x="34.0" y="431.4" class="r"/><use href="#h" x="41.1" y="431.4" class="a"/><use href="#h" x="48.2" y="431.4" class="a"/><use href="#h" x="55.3" y="431.4" class="d"/><use href="#h" x="62.4" y="431.4" class="c"/><use href="#h" x="69.5" y="431.4" class="b"/><use href="#h" x="76.6" y="431.4" class="a"/><use href="#h" x="83.7" y="431.4" class="c"/><use href="#h" x="90.8" y="431.4" class="a"/><use href="#h" x="97.9" y="431.4" class="c"/><use href="#h" x="105.0" y="431.4" class="r"/><use href="#h" x="112.1" y="431.4" class="e"/><use href="#h" x="119.2" y="431.4" class="e"/><use href="#h" x="126.3" y="431.4" class="b"/><use href="#h" x="133.4" y="431.4" class="e"/><use href="#h" x="140.5" y="431.4" class="b"/><use href="#h" x="147.6" y="431.4" class="c"/><use href="#h" x="154.7" y="431.4" class="a"/><use href="#h" x="161.8" y="431.4" class="c"/><use href="#h" x="168.9" y="431.4" class="b"/><use href="#h" x="176.0" y="431.4" class="c"/><use href="#h" x="183.1" y="431.4" class="c"/><use href="#h" x="190.2" y="431.4" class="d"/><use href="#h" x="197.3" y="431.4" class="a"/><use href="#h" x="204.4" y="431.4" class="b"/><use href="#h" x="211.5" y="431.4" class="b"/><use href="#h" x="218.6" y="431.4" class="a"/><use href="#h" x="225.7" y="431.4" class="c"/><use href="#h" x="232.8" y="431.4" class="c"/><use href="#h" x="239.9" y="431.4" class="b"/><use href="#h" x="247.0" y="431.4" class="b"/><use href="#h" x="254.1" y="431.4" class="c"/><use href="#h" x="261.2" y="431.4" class="e"/><use href="#h" x="268.3" y="431.4" class="a"/><use href="#h" x="275.4" y="431.4" class="e"/><use href="#h" x="282.5" y="431.4" class="a"/><use href="#h" x="289.6" y="431.4" class="c"/><use href="#h" x="296.7" y="431.4" class="b"/><use href="#h" x="303.8" y="431.4" class="b"/><use href="#h" x="310.9" y="431.4" class="a"/><use href="#h" x="318.0" y="431.4" class="a"/><use href="#h" x="325.1" y="431.4" class="b"/><use href="#h" x="332.2" y="431.4" class="f"/><use href="#h" x="339.3" y="431.4" class="e"/><use href="#h" x="346.4" y="431.4" class="a"/><use href="#h" x="353.5" y="431.4" class="f"/><use href="#h" x="360.6" y="431.4" class="d"/><use href="#h" x="367.7" y="431.4" class="c"/><use href="#h" x="374.8" y="431.4" class="f"/><use href="#h" x="381.9" y="431.4" class="e"/><use href="#h" x="30.4" y="437.6" class="b"/><use href="#h" x="37.5" y="437.6" class="b"/><use href="#h" x="44.6" y="437.6" class="a"/><use href="#h" x="51.8" y="437.6" class="a"/><use href="#h" x="58.8" y="437.6" class="e"/><use href="#h" x="66.0" y="437.6" class="a"/><use href="#h" x="73.0" y="437.6" class="c"/><use href="#h" x="80.1" y="437.6" class="c"/><use href="#h" x="87.2" y="437.6" class="a"/><use href="#h" x="94.3" y="437.6" class="d"/><use href="#h" x="101.5" y="437.6" class="d"/><use href="#h" x="108.5" y="437.6" class="s"/><use href="#h" x="115.6" y="437.6" class="p"/><use href="#h" x="122.8" y="437.6" class="a"/><use href="#h" x="129.8" y="437.6" class="r"/><use href="#h" x="136.9" y="437.6" class="a"/><use href="#h" x="144.0" y="437.6" class="a"/><use href="#h" x="151.1" y="437.6" class="a"/><use href="#h" x="158.2" y="437.6" class="d"/><use href="#h" x="165.3" y="437.6" class="a"/><use href="#h" x="172.4" y="437.6" class="b"/><use href="#h" x="179.5" y="437.6" class="c"/><use href="#h" x="186.6" y="437.6" class="b"/><use href="#h" x="193.7" y="437.6" class="b"/><use href="#h" x="200.8" y="437.6" class="b"/><use href="#h" x="207.9" y="437.6" class="b"/><use href="#h" x="215.0" y="437.6" class="d"/><use href="#h" x="222.1" y="437.6" class="a"/><use href="#h" x="229.2" y="437.6" class="b"/><use href="#h" x="236.3" y="437.6" class="b"/><use href="#h" x="243.4" y="437.6" class="a"/><use href="#h" x="250.5" y="437.6" class="a"/><use href="#h" x="257.6" y="437.6" class="b"/><use href="#h" x="264.8" y="437.6" class="c"/><use href="#h" x="271.8" y="437.6" class="b"/><use href="#h" x="278.9" y="437.6" class="s"/><use href="#h" x="286.1" y="437.6" class="a"/><use href="#h" x="293.1" y="437.6" class="d"/><use href="#h" x="300.2" y="437.6" class="a"/><use href="#h" x="307.3" y="437.6" class="c"/><use href="#h" x="314.4" y="437.6" class="f"/><use href="#h" x="321.5" y="437.6" class="a"/><use href="#h" x="328.6" y="437.6" class="b"/><use href="#h" x="335.8" y="437.6" class="a"/><use href="#h" x="342.8" y="437.6" class="a"/><use href="#h" x="349.9" y="437.6" class="s"/><use href="#h" x="357.0" y="437.6" class="b"/><use href="#h" x="364.1" y="437.6" class="c"/><use href="#h" x="371.2" y="437.6" class="s"/><use href="#h" x="378.3" y="437.6" class="s"/><use href="#h" x="34.0" y="443.7" class="a"/><use href="#h" x="41.1" y="443.7" class="b"/><use href="#h" x="48.2" y="443.7" class="d"/><use href="#h" x="55.3" y="443.7" class="b"/><use href="#h" x="62.4" y="443.7" class="b"/><use href="#h" x="69.5" y="443.7" class="a"/><use href="#h" x="76.6" y="443.7" class="s"/><use href="#h" x="83.7" y="443.7" class="r"/><use href="#h" x="90.8" y="443.7" class="p"/><use href="#h" x="97.9" y="443.7" class="c"/><use href="#h" x="105.0" y="443.7" class="c"/><use href="#h" x="112.1" y="443.7" class="b"/><use href="#h" x="119.2" y="443.7" class="b"/><use href="#h" x="126.3" y="443.7" class="e"/><use href="#h" x="133.4" y="443.7" class="e"/><use href="#h" x="140.5" y="443.7" class="b"/><use href="#h" x="147.6" y="443.7" class="a"/><use href="#h" x="154.7" y="443.7" class="a"/><use href="#h" x="161.8" y="443.7" class="a"/><use href="#h" x="168.9" y="443.7" class="p"/><use href="#h" x="176.0" y="443.7" class="c"/><use href="#h" x="183.1" y="443.7" class="b"/><use href="#h" x="190.2" y="443.7" class="d"/><use href="#h" x="197.3" y="443.7" class="s"/><use href="#h" x="204.4" y="443.7" class="d"/><use href="#h" x="211.5" y="443.7" class="c"/><use href="#h" x="218.6" y="443.7" class="d"/><use href="#h" x="225.7" y="443.7" class="c"/><use href="#h" x="232.8" y="443.7" class="a"/><use href="#h" x="239.9" y="443.7" class="a"/><use href="#h" x="247.0" y="443.7" class="d"/><use href="#h" x="254.1" y="443.7" class="e"/><use href="#h" x="261.2" y="443.7" class="c"/><use href="#h" x="268.3" y="443.7" class="b"/><use href="#h" x="275.4" y="443.7" class="f"/><use href="#h" x="282.5" y="443.7" class="b"/><use href="#h" x="289.6" y="443.7" class="b"/><use href="#h" x="296.7" y="443.7" class="b"/><use href="#h" x="303.8" y="443.7" class="a"/><use href="#h" x="310.9" y="443.7" class="b"/><use href="#h" x="318.0" y="443.7" class="e"/><use href="#h" x="325.1" y="443.7" class="a"/><use href="#h" x="332.2" y="443.7" class="a"/><use href="#h" x="339.3" y="443.7" class="e"/><use href="#h" x="346.4" y="443.7" class="r"/><use href="#h" x="353.5" y="443.7" class="c"/><use href="#h" x="360.6" y="443.7" class="b"/><use href="#h" x="367.7" y="443.7" class="e"/><use href="#h" x="374.8" y="443.7" class="c"/><use href="#h" x="381.9" y="443.7" class="a"/><use href="#h" x="30.4" y="449.9" class="e"/><use href="#h" x="37.5" y="449.9" class="b"/><use href="#h" x="44.6" y="449.9" class="b"/><use href="#h" x="51.8" y="449.9" class="a"/><use href="#h" x="58.8" y="449.9" class="d"/><use href="#h" x="66.0" y="449.9" class="b"/><use href="#h" x="73.0" y="449.9" class="s"/><use href="#h" x="80.1" y="449.9" class="f"/><use href="#h" x="87.2" y="449.9" class="c"/><use href="#h" x="94.3" y="449.9" class="a"/><use href="#h" x="101.5" y="449.9" class="c"/><use href="#h" x="108.5" y="449.9" class="b"/><use href="#h" x="115.6" y="449.9" class="a"/><use href="#h" x="122.8" y="449.9" class="b"/><use href="#h" x="129.8" y="449.9" class="a"/><use href="#h" x="136.9" y="449.9" class="b"/><use href="#h" x="144.0" y="449.9" class="a"/><use href="#h" x="151.1" y="449.9" class="c"/><use href="#h" x="158.2" y="449.9" class="e"/><use href="#h" x="165.3" y="449.9" class="a"/><use href="#h" x="172.4" y="449.9" class="e"/><use href="#h" x="179.5" y="449.9" class="c"/><use href="#h" x="186.6" y="449.9" class="b"/><use href="#h" x="193.7" y="449.9" class="c"/><use href="#h" x="200.8" y="449.9" class="d"/><use href="#h" x="207.9" y="449.9" class="a"/><use href="#h" x="215.0" y="449.9" class="c"/><use href="#h" x="222.1" y="449.9" class="b"/><use href="#h" x="229.2" y="449.9" class="c"/><use href="#h" x="236.3" y="449.9" class="c"/><use href="#h" x="243.4" y="449.9" class="c"/><use href="#h" x="250.5" y="449.9" class="b"/><use href="#h" x="257.6" y="449.9" class="a"/><use href="#h" x="264.8" y="449.9" class="f"/><use href="#h" x="271.8" y="449.9" class="c"/><use href="#h" x="278.9" y="449.9" class="d"/><use href="#h" x="286.1" y="449.9" class="p"/><use href="#h" x="293.1" y="449.9" class="d"/><use href="#h" x="300.2" y="449.9" class="e"/><use href="#h" x="307.3" y="449.9" class="a"/><use href="#h" x="314.4" y="449.9" class="c"/><use href="#h" x="321.5" y="449.9" class="b"/><use href="#h" x="328.6" y="449.9" class="e"/><use href="#h" x="335.8" y="449.9" class="r"/><use href="#h" x="342.8" y="449.9" class="c"/><use href="#h" x="349.9" y="449.9" class="c"/><use href="#h" x="357.0" y="449.9" class="b"/><use href="#h" x="364.1" y="449.9" class="b"/><use href="#h" x="371.2" y="449.9" class="c"/><use href="#h" x="378.3" y="449.9" class="b"/><use href="#h" x="34.0" y="456.0" class="a"/><use href="#h" x="41.1" y="456.0" class="c"/><use href="#h" x="48.2" y="456.0" class="c"/><use href="#h" x="55.3" y="456.0" class="b"/><use href="#h" x="62.4" y="456.0" class="c"/><use href="#h" x="69.5" y="456.0" class="a"/><use href="#h" x="76.6" y="456.0" class="a"/><use href="#h" x="83.7" y="456.0" class="b"/><use href="#h" x="90.8" y="456.0" class="c"/><use href="#h" x="97.9" y="456.0" class="b"/><use href="#h" x="105.0" y="456.0" class="a"/><use href="#h" x="112.1" y="456.0" class="c"/><use href="#h" x="119.2" y="456.0" class="b"/><use href="#h" x="126.3" y="456.0" class="b"/><use href="#h" x="133.4" y="456.0" class="a"/><use href="#h" x="140.5" y="456.0" class="b"/><use href="#h" x="147.6" y="456.0" class="c"/><use href="#h" x="154.7" y="456.0" class="b"/><use href="#h" x="161.8" y="456.0" class="b"/><use href="#h" x="168.9" y="456.0" class="b"/><use href="#h" x="176.0" y="456.0" class="a"/><use href="#h" x="183.1" y="456.0" class="d"/><use href="#h" x="190.2" y="456.0" class="a"/><use href="#h" x="197.3" y="456.0" class="b"/><use href="#h" x="204.4" y="456.0" class="d"/><use href="#h" x="211.5" y="456.0" class="a"/><use href="#h" x="218.6" y="456.0" class="a"/><use href="#h" x="225.7" y="456.0" class="e"/><use href="#h" x="232.8" y="456.0" class="a"/><use href="#h" x="239.9" y="456.0" class="s"/><use href="#h" x="247.0" y="456.0" class="a"/><use href="#h" x="254.1" y="456.0" class="c"/><use href="#h" x="261.2" y="456.0" class="b"/>
<path d="M401.5 256.1L405.1 258.2M405.1 258.2L405.1 262.2M405.1 262.2L401.5 264.3M401.5 264.3L397.9 262.2M397.9 262.2L397.9 258.2M397.9 258.2L401.5 256.1" class="o"/>
<use href="#h" x="401.5" y="260.2" class="a"/>
<path d="M787.0 40.8L790.5 42.9M787.0 49.0L783.5 46.9M783.5 46.9L783.5 42.9M783.5 42.9L787.0 40.8M794.1 40.8L797.6 42.9M790.6 42.9L794.1 40.8M801.2 40.8L804.8 42.9M797.7 42.9L801.2 40.8M808.3 40.8L811.8 42.9M804.8 42.9L808.3 40.8M815.4 40.8L818.9 42.9M811.9 42.9L815.4 40.8M822.5 40.8L826.0 42.9M819.0 42.9L822.5 40.8M829.6 40.8L833.1 42.9M833.1 42.9L833.1 46.9M826.1 42.9L829.6 40.8M787.0 53.1L787.0 49.0M833.1 46.9L836.7 49.0M836.7 49.0L836.7 53.1M836.7 53.1L833.1 55.1M787.0 61.3L783.5 59.2M783.5 59.2L783.5 55.1M783.5 55.1L787.0 53.1M818.9 59.2L815.4 61.3M826.0 59.2L822.5 61.3M822.5 61.3L819.0 59.2M833.1 55.1L833.1 59.2M833.1 59.2L829.6 61.3M829.6 61.3L826.1 59.2M794.1 65.4L790.5 67.4M790.5 67.4L787.0 65.4M787.0 65.4L787.0 61.3M801.2 65.4L797.6 67.4M797.6 67.4L794.1 65.4M808.3 65.4L804.8 67.4M804.8 67.4L801.2 65.4M815.4 61.3L815.4 65.4M815.4 65.4L811.8 67.4M811.8 67.4L808.3 65.4" class="o"/>
<use href="#h" x="787.0" y="44.9" class="a"/><use href="#h" x="794.1" y="44.9" class="a"/><use href="#h" x="801.2" y="44.9" class="a"/><use href="#h" x="808.3" y="44.9" class="a"/><use href="#h" x="815.4" y="44.9" class="a"/><use href="#h" x="822.5" y="44.9" class="a"/><use href="#h" x="829.6" y="44.9" class="a"/><use href="#h" x="790.5" y="51.0" class="a"/><use href="#h" x="797.6" y="51.0" class="a"/><use href="#h" x="804.8" y="51.0" class="a"/><use href="#h" x="811.8" y="51.0" class="a"/><use href="#h" x="818.9" y="51.0" class="a"/><use href="#h" x="826.0" y="51.0" class="a"/><use href="#h" x="833.1" y="51.0" class="a"/><use href="#h" x="787.0" y="57.2" class="a"/><use href="#h" x="794.1" y="57.2" class="a"/><use href="#h" x="801.2" y="57.2" class="a"/><use href="#h" x="808.3" y="57.2" class="a"/><use href="#h" x="815.4" y="57.2" class="a"/><use href="#h" x="822.5" y="57.2" class="a"/><use href="#h" x="829.6" y="57.2" class="a"/><use href="#h" x="790.5" y="63.3" class="a"/><use href="#h" x="797.6" y="63.3" class="a"/><use href="#h" x="804.8" y="63.3" class="a"/><use href="#h" x="811.8" y="63.3" class="a"/>
<path d="M787.0 81.5L790.5 83.6M787.0 89.7L783.5 87.6M783.5 87.6L783.5 83.6M783.5 83.6L787.0 81.5M794.1 81.5L797.6 83.6M790.6 83.6L794.1 81.5M801.2 81.5L804.8 83.6M797.7 83.6L801.2 81.5M808.3 81.5L811.8 83.6M804.8 83.6L808.3 81.5M815.4 81.5L818.9 83.6M818.9 83.6L818.9 87.6M818.9 87.6L815.4 89.7M811.9 83.6L815.4 81.5M794.1 93.8L790.5 95.8M790.5 95.8L787.0 93.8M787.0 93.8L787.0 89.7M801.2 93.8L797.6 95.8M797.6 95.8L794.1 93.8M808.3 93.8L804.8 95.8M804.8 95.8L801.2 93.8M815.4 89.7L815.4 93.8M815.4 93.8L811.8 95.8M811.8 95.8L808.3 93.8" class="o"/>
<use href="#h" x="787.0" y="85.6" class="a"/><use href="#h" x="794.1" y="85.6" class="a"/><use href="#h" x="801.2" y="85.6" class="a"/><use href="#h" x="808.3" y="85.6" class="a"/><use href="#h" x="815.4" y="85.6" class="a"/><use href="#h" x="790.5" y="91.7" class="s"/><use href="#h" x="797.6" y="91.7" class="a"/><use href="#h" x="804.8" y="91.7" class="a"/><use href="#h" x="811.8" y="91.7" class="p"/>
<path d="M787.0 110.1L790.5 112.2M787.0 118.3L783.5 116.2M783.5 116.2L783.5 112.2M783.5 112.2L787.0 110.1M794.1 110.1L797.6 112.2M790.6 112.2L794.1 110.1M801.2 110.1L804.8 112.2M797.7 112.2L801.2 110.1M808.3 110.1L811.8 112.2M811.8 112.2L811.8 116.2M804.8 112.2L808.3 110.1M794.1 122.4L790.5 124.4M790.5 124.4L787.0 122.4M787.0 122.4L787.0 118.3M801.2 122.4L797.6 124.4M797.6 124.4L794.1 122.4M808.3 122.4L804.8 124.4M804.8 124.4L801.2 122.4M811.8 116.2L815.4 118.3M815.4 118.3L815.4 122.4M815.4 122.4L811.8 124.4M811.8 124.4L808.3 122.4" class="o"/>
<use href="#h" x="787.0" y="114.2" class="a"/><use href="#h" x="794.1" y="114.2" class="a"/><use href="#h" x="801.2" y="114.2" class="a"/><use href="#h" x="808.3" y="114.2" class="a"/><use href="#h" x="790.5" y="120.3" class="s"/><use href="#h" x="797.6" y="120.3" class="a"/><use href="#h" x="804.8" y="120.3" class="a"/><use href="#h" x="811.8" y="120.3" class="a"/>
<path d="M787.0 138.3L790.5 140.4M787.0 146.5L783.5 144.4M783.5 144.4L783.5 140.4M783.5 140.4L787.0 138.3M794.1 138.3L797.6 140.4M790.6 140.4L794.1 138.3M801.2 138.3L804.8 140.4M804.8 140.4L804.8 144.4M797.7 140.4L801.2 138.3M794.1 150.6L790.5 152.6M790.5 152.6L787.0 150.6M787.0 150.6L787.0 146.5M801.2 150.6L797.6 152.6M797.6 152.6L794.1 150.6M804.8 144.4L808.3 146.5M808.3 146.5L808.3 150.6M808.3 150.6L804.8 152.6M804.8 152.6L801.2 150.6" class="o"/>
<use href="#h" x="787.0" y="142.4" class="a"/><use href="#h" x="794.1" y="142.4" class="a"/><use href="#h" x="801.2" y="142.4" class="a"/><use href="#h" x="790.5" y="148.5" class="s"/><use href="#h" x="797.6" y="148.5" class="s"/><use href="#h" x="804.8" y="148.5" class="a"/>
<path d="M787.0 165.8L790.5 167.9M787.0 174.0L783.5 171.9M783.5 171.9L783.5 167.9M783.5 167.9L787.0 165.8M794.1 165.8L797.6 167.9M797.6 167.9L797.6 171.9M790.6 167.9L794.1 165.8M794.1 178.1L790.5 180.1M790.5 180.1L787.0 178.1M787.0 178.1L787.0 174.0M797.6 171.9L801.2 174.0M801.2 174.0L801.2 178.1M801.2 178.1L797.6 180.1M797.6 180.1L794.1 178.1" class="o"/>
<use href="#h" x="787.0" y="169.9" class="a"/><use href="#h" x="794.1" y="169.9" class="a"/><use href="#h" x="790.5" y="176.0" class="a"/><use href="#h" x="797.6" y="176.0" class="a"/>
<path d="M787.0 192.8L790.5 194.9M790.5 194.9L790.5 198.9M790.5 198.9L787.0 201.0M787.0 201.0L783.5 198.9M783.5 198.9L783.5 194.9M783.5 194.9L787.0 192.8" class="o"/>
<use href="#h" x="787.0" y="196.9" class="a"/>

</svg>

<div id="toolbar">
  <div class="box" style="left:14px;width:59px;">
    <svg class="abs" style="left:3.65px;top:0.85px" width="11" height="11" viewBox="0 0 11 11"><path d="M5.5 1.75L9.15 3.7V7.3L5.5 9.25L1.85 7.3V3.7Z" fill="none" stroke="#3d4957" stroke-width="1.05"/><path d="M5.5 3.1L7.7 4.3V6.7L5.5 7.9L3.3 6.7V4.3Z" fill="#16222e"/></svg>
    <div class="t" style="left:18px;top:1.5px;font-size:7.5px;">Hosts</div>
    <div class="caret" style="left:47.9px;top:5.4px;border-left-width:2.6px;border-right-width:2.6px;border-top-color:#3d4957;"></div>
  </div>
  <div class="box" style="left:76px;width:213px;top:2.5px;height:15.5px;">
    <div class="chip" style="left:4px;width:89px;"></div>
    <div class="t" style="left:6.5px;top:1.7px;font-size:8.6px;transform:scaleY(1.1);transform-origin:0 8.4px;">cloud_provider:gcp</div>
    <div class="t" style="left:83.5px;top:2px;font-size:8px;font-weight:bold;">×</div>
  </div>
  <div class="box" style="left:292px;width:214px;top:2.5px;height:15.5px;">
    <div class="chip" style="left:4px;width:79px;"></div>
    <div class="t" style="left:6.8px;top:1.7px;font-size:8.6px;transform:scaleY(1.1);transform-origin:0 8.4px;">availability-zone</div>
    <div class="t" style="left:72.8px;top:2px;font-size:8px;font-weight:bold;">×</div>
  </div>
  <div class="box" style="left:509px;width:139px;border-radius:3px;">
    <div class="t" style="left:5px;top:1.5px;">Fill by: % CPU utili...</div>
    <div class="caret" style="left:88.1px;top:5.5px;"></div>
    <div class="div" style="left:97.5px;"></div>
    <div class="t" style="left:103px;top:1.5px;">avg</div>
    <div class="caret" style="left:128px;top:5.5px;"></div>
  </div>
  <div class="box" style="left:650px;width:133px;border-radius:3px;">
    <div class="t" style="left:5.1px;top:1.5px;">Size by:</div>
    <div class="caret" style="left:83.2px;top:5.5px;"></div>
    <div class="div" style="left:91.4px;"></div>
    <div class="t" style="left:97.3px;top:1.5px;">--</div>
    <div class="caret" style="left:122.7px;top:5.5px;"></div>
  </div>
  <div class="box" style="left:792px;width:58px;border-radius:3px;">
    <div class="div" style="left:17.6px;"></div>
    <div class="div" style="left:36.4px;"></div>
    <svg class="abs" style="left:0;top:0" width="56" height="13" viewBox="0 0 56 13">
      <!-- monitor -->
      <rect x="5.3" y="2.7" width="8.4" height="5.6" rx="0.7" fill="#fff" stroke="#465260" stroke-width="0.95"/>
      <rect x="4.9" y="7.5" width="9.2" height="1.3" fill="#3c4855"/>
      <path d="M7.4 10.4H11.6L10.7 8.8H8.3Z" fill="#3c4855"/>
      <!-- power -->
      <path d="M26.3 3.4A3.7 3.7 0 1 0 30.1 3.4" fill="none" stroke="#465260" stroke-width="1.05"/>
      <path d="M28.2 2.1V6.4" stroke="#3c4855" stroke-width="1.1"/>
      <path d="M26.8 5.5L28.2 7.4L29.6 5.5Z" fill="#3c4855"/>
      <!-- gear -->
      <g transform="translate(47.2 6.2)" fill="#434f5c">
        <circle r="2.9"/>
        <g><rect x="-0.9" y="-4" width="1.8" height="8"/><rect x="-0.9" y="-4" width="1.8" height="8" transform="rotate(45)"/><rect x="-0.9" y="-4" width="1.8" height="8" transform="rotate(90)"/><rect x="-0.9" y="-4" width="1.8" height="8" transform="rotate(135)"/></g>
        <circle r="1.35" fill="#fff"/>
      </g>
    </svg>
  </div>
</div>

<div class="title" style="left:27.2px;top:27.5px;">europe-west3-a<span style="left:142.8px;letter-spacing:-0.4px;">1.53k</span></div>
<div class="title" style="left:406.2px;top:27.5px;">europe-west3-b<span style="left:141.8px;font-size:19.1px;">1.51k hosts</span></div>
<div class="title" style="left:27.2px;top:244.5px;"><span style="position:static;color:inherit;font-size:inherit;letter-spacing:-0.12px">europe-west3-c</span><span style="left:137px;letter-spacing:-0.2px;">1.48k</span></div>

<div id="footer"></div>
<div class="abs" style="left:0;top:451px;width:72px;height:10px;background:#fff;"></div><div class="t" style="left:5.3px;top:451px;font-size:6.6px;line-height:9px;color:#f2f3f4;-webkit-text-stroke:0;">Updated &lt; 1 min ago</div>
<div id="foottext">Copyright Datadog, Inc. 2020 - - <a>Master Subscription Agreement</a> - <a>Privacy Policy</a> - <a>Cookie Policy</a> - <a>Status</a> <span style="display:inline-block;width:6px;height:6px;border-radius:3px;background:#4cc26f;vertical-align:-0.5px;margin:0 1px 0 2.5px;"></span> All Systems Operational</div>

<div id="legend">
  <div class="t" style="left:6px;top:6px;font-size:9px;line-height:11px;font-weight:bold;color:#1c2b39;">% CPU utilized</div>
  <svg class="abs" style="left:143px;top:3px" width="10" height="10" viewBox="-5 -5 10 10"><g fill="#8a9199"><circle r="2.9"/><rect x="-0.9" y="-4.2" width="1.8" height="8.4"/><rect x="-0.9" y="-4.2" width="1.8" height="8.4" transform="rotate(45)"/><rect x="-0.9" y="-4.2" width="1.8" height="8.4" transform="rotate(90)"/><rect x="-0.9" y="-4.2" width="1.8" height="8.4" transform="rotate(135)"/></g><circle r="1.4" fill="#fff"/></svg>
  <div class="abs" style="left:18.5px;top:22.5px;width:9.3px;height:9.3px;background:#84cb9b;"></div>
  <div class="abs" style="left:72.5px;top:22.5px;width:9.3px;height:9.3px;background:#c1c1c1;"></div>
  <div class="abs" style="left:127px;top:22.5px;width:9.3px;height:9.3px;background:#f8683f;"></div>
  <div class="abs" style="left:40px;top:27.5px;width:21px;height:1px;background:#e6e8ea;"></div>
  <div class="abs" style="left:94.5px;top:27.5px;width:21px;height:1px;background:#e6e8ea;"></div>
  <div class="t" style="left:13px;top:33px;width:20px;text-align:center;font-size:7.5px;color:#6c7783;">0</div>
  <div class="t" style="left:67px;top:33px;width:20px;text-align:center;font-size:7.5px;color:#6c7783;">50</div>
  <div class="t" style="left:121.5px;top:33px;width:20px;text-align:center;font-size:7.5px;color:#6c7783;">100</div>
</div>
<div class="abs" style="right:0;bottom:0;width:0;height:0;border-left:3px solid transparent;border-bottom:3px solid #444;"></div>
</body></html>
